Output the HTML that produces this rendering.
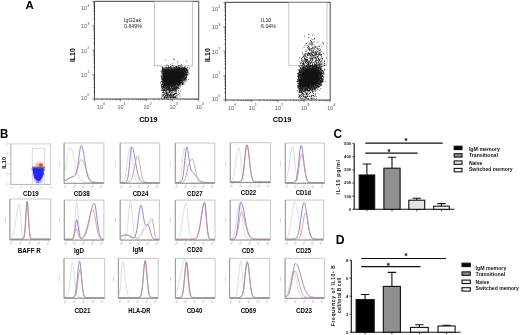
<!DOCTYPE html>
<html><head><meta charset="utf-8"><style>
html,body{margin:0;padding:0;background:#fff;width:520px;height:335px;overflow:hidden}
svg{display:block;font-family:"Liberation Sans", sans-serif;will-change:transform}
</style></head><body>
<svg width="520" height="335" viewBox="0 0 520 335">
<defs>
<filter id="blur05" x="-20%" y="-20%" width="140%" height="140%"><feGaussianBlur stdDeviation="0.8"/></filter>
<filter id="blur03" x="-10%" y="-10%" width="120%" height="120%"><feGaussianBlur stdDeviation="0.3"/></filter>
<filter id="blur04" x="-20%" y="-20%" width="140%" height="140%"><feGaussianBlur stdDeviation="0.45"/></filter>
<filter id="blur1" x="-50%" y="-50%" width="200%" height="200%"><feGaussianBlur stdDeviation="1.2"/></filter>
<filter id="blur2" x="-50%" y="-50%" width="200%" height="200%"><feGaussianBlur stdDeviation="2.5"/></filter>
</defs>
<rect width="520" height="335" fill="#fff"/>
<text x="25.6" y="9.2" font-size="11.5" font-weight="bold" fill="#000" text-anchor="start">A</text><text x="0.0" y="137.8" font-size="12.5" font-weight="bold" fill="#000" text-anchor="start" textLength="8.3" lengthAdjust="spacingAndGlyphs">B</text><text x="333.4" y="138.0" font-size="12.5" font-weight="bold" fill="#000" text-anchor="start" textLength="8.5" lengthAdjust="spacingAndGlyphs">C</text><text x="335.8" y="244.3" font-size="12.2" font-weight="bold" fill="#000" text-anchor="start">D</text><path d="M94.5 1.4H198.7V99" fill="none" stroke="#606060" stroke-width="1.1"/><rect x="154.3" y="1.4" width="38.0" height="64.39999999999999" fill="none" stroke="#aaa" stroke-width="0.7"/><path d="M162.5 69.5L176 68.5L185.5 69L185 75L180 83L175 86L163 86.5Z" fill="#1a1a1a" filter="url(#blur05)"/><path d="M174.3 58.8h0.78v0.78h-0.78zM173.3 59.2h0.78v0.78h-0.78zM165.4 59.8h0.78v0.78h-0.78zM186.3 60.7h0.78v0.78h-0.78zM177.3 61.6h0.78v0.78h-0.78zM169.9 63.8h0.78v0.78h-0.78zM172.4 63.4h0.78v0.78h-0.78zM166.6 64.6h0.78v0.78h-0.78zM180.8 64.3h0.78v0.78h-0.78zM172.2 65.3h0.78v0.78h-0.78zM178.0 65.1h0.78v0.78h-0.78zM179.5 65.1h0.78v0.78h-0.78zM180.8 65.2h0.78v0.78h-0.78zM165.7 65.8h0.78v0.78h-0.78zM168.2 65.6h0.78v0.78h-0.78zM169.9 66.0h0.78v0.78h-0.78zM171.9 65.6h0.78v0.78h-0.78zM176.0 65.9h0.78v0.78h-0.78zM177.8 65.9h0.78v0.78h-0.78zM184.6 66.0h0.78v0.78h-0.78zM161.6 66.6h0.78v0.78h-0.78zM168.0 66.8h0.78v0.78h-0.78zM170.3 66.6h0.78v0.78h-0.78zM170.7 66.5h0.78v0.78h-0.78zM173.2 66.4h0.78v0.78h-0.78zM173.7 66.7h0.78v0.78h-0.78zM175.3 66.3h0.78v0.78h-0.78zM175.9 66.6h0.78v0.78h-0.78zM176.5 66.5h0.78v0.78h-0.78zM177.7 66.7h0.78v0.78h-0.78zM178.8 66.7h0.78v0.78h-0.78zM179.8 66.6h0.78v0.78h-0.78zM180.8 66.3h0.78v0.78h-0.78zM181.8 66.7h0.78v0.78h-0.78zM184.5 66.7h0.78v0.78h-0.78zM162.1 67.1h0.78v0.78h-0.78zM163.0 67.4h0.78v0.78h-0.78zM163.9 67.4h0.78v0.78h-0.78zM164.3 67.4h0.78v0.78h-0.78zM165.3 67.2h0.78v0.78h-0.78zM165.7 67.1h0.78v0.78h-0.78zM166.4 67.2h0.78v0.78h-0.78zM167.2 67.4h0.78v0.78h-0.78zM168.1 67.5h0.78v0.78h-0.78zM168.9 67.0h0.78v0.78h-0.78zM169.2 67.3h0.78v0.78h-0.78zM170.1 67.1h0.78v0.78h-0.78zM171.0 67.5h0.78v0.78h-0.78zM171.7 67.2h0.78v0.78h-0.78zM172.9 67.5h0.78v0.78h-0.78zM173.9 67.1h0.78v0.78h-0.78zM174.4 67.1h0.78v0.78h-0.78zM174.9 67.2h0.78v0.78h-0.78zM176.1 67.6h0.78v0.78h-0.78zM176.5 67.1h0.78v0.78h-0.78zM177.1 67.5h0.78v0.78h-0.78zM178.2 67.6h0.78v0.78h-0.78zM179.1 67.1h0.78v0.78h-0.78zM179.5 67.5h0.78v0.78h-0.78zM181.2 67.5h0.78v0.78h-0.78zM181.5 67.2h0.78v0.78h-0.78zM182.5 67.2h0.78v0.78h-0.78zM183.0 67.4h0.78v0.78h-0.78zM183.8 67.5h0.78v0.78h-0.78zM184.6 67.4h0.78v0.78h-0.78zM187.0 67.5h0.78v0.78h-0.78zM187.4 67.3h0.78v0.78h-0.78zM162.1 68.1h0.78v0.78h-0.78zM163.4 68.1h0.78v0.78h-0.78zM165.0 68.2h0.78v0.78h-0.78zM166.3 68.2h0.78v0.78h-0.78zM167.4 67.8h0.78v0.78h-0.78zM168.0 67.9h0.78v0.78h-0.78zM168.5 67.7h0.78v0.78h-0.78zM169.3 68.2h0.78v0.78h-0.78zM170.4 68.2h0.78v0.78h-0.78zM171.2 67.8h0.78v0.78h-0.78zM171.4 68.1h0.78v0.78h-0.78zM172.6 68.0h0.78v0.78h-0.78zM173.0 67.9h0.78v0.78h-0.78zM174.0 67.7h0.78v0.78h-0.78zM174.4 67.7h0.78v0.78h-0.78zM175.4 68.3h0.78v0.78h-0.78zM175.8 68.3h0.78v0.78h-0.78zM176.4 68.2h0.78v0.78h-0.78zM177.5 67.9h0.78v0.78h-0.78zM177.9 68.1h0.78v0.78h-0.78zM178.9 68.2h0.78v0.78h-0.78zM179.2 68.1h0.78v0.78h-0.78zM180.1 67.9h0.78v0.78h-0.78zM180.7 67.8h0.78v0.78h-0.78zM181.4 67.9h0.78v0.78h-0.78zM182.2 67.9h0.78v0.78h-0.78zM183.0 68.0h0.78v0.78h-0.78zM183.6 68.1h0.78v0.78h-0.78zM184.5 68.1h0.78v0.78h-0.78zM185.3 68.1h0.78v0.78h-0.78zM185.8 67.8h0.78v0.78h-0.78zM189.0 67.7h0.78v0.78h-0.78zM162.4 68.5h0.78v0.78h-0.78zM162.9 68.5h0.78v0.78h-0.78zM163.6 68.9h0.78v0.78h-0.78zM164.5 68.9h0.78v0.78h-0.78zM165.4 68.9h0.78v0.78h-0.78zM166.1 68.8h0.78v0.78h-0.78zM166.4 68.9h0.78v0.78h-0.78zM167.2 68.6h0.78v0.78h-0.78zM168.2 69.0h0.78v0.78h-0.78zM168.7 69.0h0.78v0.78h-0.78zM169.2 68.8h0.78v0.78h-0.78zM170.1 68.5h0.78v0.78h-0.78zM170.9 68.7h0.78v0.78h-0.78zM171.7 68.7h0.78v0.78h-0.78zM172.2 68.5h0.78v0.78h-0.78zM173.1 69.0h0.78v0.78h-0.78zM173.9 68.9h0.78v0.78h-0.78zM174.7 68.5h0.78v0.78h-0.78zM175.1 68.9h0.78v0.78h-0.78zM176.2 68.8h0.78v0.78h-0.78zM176.5 68.7h0.78v0.78h-0.78zM177.4 68.4h0.78v0.78h-0.78zM177.8 68.5h0.78v0.78h-0.78zM178.8 69.0h0.78v0.78h-0.78zM179.3 68.5h0.78v0.78h-0.78zM180.1 68.7h0.78v0.78h-0.78zM180.8 68.6h0.78v0.78h-0.78zM181.9 68.8h0.78v0.78h-0.78zM183.0 68.8h0.78v0.78h-0.78zM183.8 68.5h0.78v0.78h-0.78zM184.7 68.9h0.78v0.78h-0.78zM185.1 68.8h0.78v0.78h-0.78zM186.1 68.5h0.78v0.78h-0.78zM186.5 68.7h0.78v0.78h-0.78zM161.7 69.2h0.78v0.78h-0.78zM162.1 69.6h0.78v0.78h-0.78zM163.2 69.2h0.78v0.78h-0.78zM163.6 69.6h0.78v0.78h-0.78zM164.5 69.5h0.78v0.78h-0.78zM165.3 69.6h0.78v0.78h-0.78zM165.8 69.4h0.78v0.78h-0.78zM166.7 69.4h0.78v0.78h-0.78zM167.1 69.4h0.78v0.78h-0.78zM168.1 69.7h0.78v0.78h-0.78zM168.7 69.3h0.78v0.78h-0.78zM169.2 69.7h0.78v0.78h-0.78zM170.3 69.6h0.78v0.78h-0.78zM170.7 69.5h0.78v0.78h-0.78zM171.6 69.7h0.78v0.78h-0.78zM172.5 69.6h0.78v0.78h-0.78zM173.0 69.7h0.78v0.78h-0.78zM173.9 69.2h0.78v0.78h-0.78zM174.5 69.6h0.78v0.78h-0.78zM175.0 69.2h0.78v0.78h-0.78zM176.0 69.2h0.78v0.78h-0.78zM176.7 69.3h0.78v0.78h-0.78zM177.1 69.5h0.78v0.78h-0.78zM178.2 69.3h0.78v0.78h-0.78zM178.9 69.3h0.78v0.78h-0.78zM179.3 69.6h0.78v0.78h-0.78zM180.3 69.2h0.78v0.78h-0.78zM180.9 69.2h0.78v0.78h-0.78zM181.9 69.5h0.78v0.78h-0.78zM182.7 69.1h0.78v0.78h-0.78zM183.4 69.6h0.78v0.78h-0.78zM184.1 69.4h0.78v0.78h-0.78zM184.6 69.2h0.78v0.78h-0.78zM185.3 69.5h0.78v0.78h-0.78zM186.2 69.2h0.78v0.78h-0.78zM186.7 69.6h0.78v0.78h-0.78zM187.7 69.6h0.78v0.78h-0.78zM161.6 70.1h0.78v0.78h-0.78zM162.1 70.0h0.78v0.78h-0.78zM162.9 70.1h0.78v0.78h-0.78zM163.9 70.2h0.78v0.78h-0.78zM164.5 69.9h0.78v0.78h-0.78zM164.9 70.1h0.78v0.78h-0.78zM165.8 70.4h0.78v0.78h-0.78zM166.3 70.3h0.78v0.78h-0.78zM167.1 69.9h0.78v0.78h-0.78zM168.1 70.0h0.78v0.78h-0.78zM168.7 70.4h0.78v0.78h-0.78zM169.3 70.1h0.78v0.78h-0.78zM170.3 70.0h0.78v0.78h-0.78zM170.8 70.3h0.78v0.78h-0.78zM171.3 70.2h0.78v0.78h-0.78zM172.5 70.0h0.78v0.78h-0.78zM173.0 70.0h0.78v0.78h-0.78zM173.9 70.0h0.78v0.78h-0.78zM174.5 69.9h0.78v0.78h-0.78zM175.1 70.4h0.78v0.78h-0.78zM175.7 70.4h0.78v0.78h-0.78zM176.9 70.2h0.78v0.78h-0.78zM177.3 70.3h0.78v0.78h-0.78zM178.2 69.9h0.78v0.78h-0.78zM178.6 70.2h0.78v0.78h-0.78zM179.7 70.3h0.78v0.78h-0.78zM180.0 70.3h0.78v0.78h-0.78zM181.2 70.1h0.78v0.78h-0.78zM181.8 70.2h0.78v0.78h-0.78zM182.3 69.9h0.78v0.78h-0.78zM183.4 70.1h0.78v0.78h-0.78zM183.6 70.2h0.78v0.78h-0.78zM184.7 70.2h0.78v0.78h-0.78zM185.3 70.1h0.78v0.78h-0.78zM185.8 70.0h0.78v0.78h-0.78zM186.5 70.1h0.78v0.78h-0.78zM187.5 70.0h0.78v0.78h-0.78zM160.6 70.9h0.78v0.78h-0.78zM162.4 71.1h0.78v0.78h-0.78zM162.9 71.0h0.78v0.78h-0.78zM163.9 70.6h0.78v0.78h-0.78zM164.1 70.7h0.78v0.78h-0.78zM165.4 70.8h0.78v0.78h-0.78zM165.7 71.1h0.78v0.78h-0.78zM166.7 70.8h0.78v0.78h-0.78zM167.5 70.7h0.78v0.78h-0.78zM168.0 71.2h0.78v0.78h-0.78zM169.6 70.8h0.78v0.78h-0.78zM170.0 71.1h0.78v0.78h-0.78zM170.6 70.8h0.78v0.78h-0.78zM171.4 70.6h0.78v0.78h-0.78zM172.5 71.1h0.78v0.78h-0.78zM173.3 71.2h0.78v0.78h-0.78zM173.7 70.8h0.78v0.78h-0.78zM174.7 70.9h0.78v0.78h-0.78zM174.9 70.8h0.78v0.78h-0.78zM175.9 70.9h0.78v0.78h-0.78zM176.4 71.0h0.78v0.78h-0.78zM177.5 70.9h0.78v0.78h-0.78zM177.9 71.2h0.78v0.78h-0.78zM178.8 70.8h0.78v0.78h-0.78zM179.6 70.7h0.78v0.78h-0.78zM180.0 71.0h0.78v0.78h-0.78zM181.1 71.1h0.78v0.78h-0.78zM181.6 70.7h0.78v0.78h-0.78zM182.4 70.8h0.78v0.78h-0.78zM183.9 70.9h0.78v0.78h-0.78zM184.5 71.1h0.78v0.78h-0.78zM185.0 71.1h0.78v0.78h-0.78zM186.3 70.7h0.78v0.78h-0.78zM187.0 70.6h0.78v0.78h-0.78zM161.5 71.5h0.78v0.78h-0.78zM162.4 71.5h0.78v0.78h-0.78zM163.0 71.4h0.78v0.78h-0.78zM163.7 71.7h0.78v0.78h-0.78zM164.4 71.6h0.78v0.78h-0.78zM165.0 71.4h0.78v0.78h-0.78zM166.0 71.6h0.78v0.78h-0.78zM166.4 71.5h0.78v0.78h-0.78zM167.1 71.5h0.78v0.78h-0.78zM168.0 71.8h0.78v0.78h-0.78zM168.8 71.4h0.78v0.78h-0.78zM169.7 71.7h0.78v0.78h-0.78zM170.4 71.8h0.78v0.78h-0.78zM171.0 71.9h0.78v0.78h-0.78zM171.6 71.4h0.78v0.78h-0.78zM172.3 71.5h0.78v0.78h-0.78zM173.0 71.4h0.78v0.78h-0.78zM173.7 71.8h0.78v0.78h-0.78zM174.8 71.9h0.78v0.78h-0.78zM175.1 71.6h0.78v0.78h-0.78zM175.9 71.8h0.78v0.78h-0.78zM176.6 71.5h0.78v0.78h-0.78zM177.6 71.8h0.78v0.78h-0.78zM178.3 71.4h0.78v0.78h-0.78zM178.7 71.8h0.78v0.78h-0.78zM179.5 71.5h0.78v0.78h-0.78zM180.5 71.9h0.78v0.78h-0.78zM181.1 71.9h0.78v0.78h-0.78zM181.7 71.8h0.78v0.78h-0.78zM182.4 71.8h0.78v0.78h-0.78zM183.3 71.8h0.78v0.78h-0.78zM184.0 71.4h0.78v0.78h-0.78zM184.7 71.8h0.78v0.78h-0.78zM185.6 71.8h0.78v0.78h-0.78zM185.9 71.6h0.78v0.78h-0.78zM187.0 71.8h0.78v0.78h-0.78zM187.7 71.5h0.78v0.78h-0.78zM161.4 72.6h0.78v0.78h-0.78zM162.1 72.4h0.78v0.78h-0.78zM163.2 72.5h0.78v0.78h-0.78zM164.0 72.3h0.78v0.78h-0.78zM164.3 72.2h0.78v0.78h-0.78zM165.1 72.1h0.78v0.78h-0.78zM165.9 72.1h0.78v0.78h-0.78zM166.3 72.1h0.78v0.78h-0.78zM167.5 72.5h0.78v0.78h-0.78zM168.0 72.2h0.78v0.78h-0.78zM169.0 72.4h0.78v0.78h-0.78zM169.6 72.4h0.78v0.78h-0.78zM170.0 72.6h0.78v0.78h-0.78zM170.9 72.3h0.78v0.78h-0.78zM171.6 72.1h0.78v0.78h-0.78zM172.2 72.0h0.78v0.78h-0.78zM172.8 72.6h0.78v0.78h-0.78zM173.9 72.1h0.78v0.78h-0.78zM174.3 72.4h0.78v0.78h-0.78zM175.3 72.4h0.78v0.78h-0.78zM175.8 72.5h0.78v0.78h-0.78zM176.4 72.6h0.78v0.78h-0.78zM177.3 72.3h0.78v0.78h-0.78zM178.1 72.4h0.78v0.78h-0.78zM178.5 72.5h0.78v0.78h-0.78zM179.3 72.5h0.78v0.78h-0.78zM180.0 72.3h0.78v0.78h-0.78zM181.0 72.2h0.78v0.78h-0.78zM181.7 72.1h0.78v0.78h-0.78zM182.6 72.2h0.78v0.78h-0.78zM183.0 72.2h0.78v0.78h-0.78zM183.5 72.0h0.78v0.78h-0.78zM184.7 72.2h0.78v0.78h-0.78zM185.4 72.3h0.78v0.78h-0.78zM186.2 72.5h0.78v0.78h-0.78zM187.0 72.6h0.78v0.78h-0.78zM188.0 72.5h0.78v0.78h-0.78zM162.5 73.3h0.78v0.78h-0.78zM163.2 73.1h0.78v0.78h-0.78zM163.9 73.2h0.78v0.78h-0.78zM165.3 73.1h0.78v0.78h-0.78zM165.5 72.9h0.78v0.78h-0.78zM166.3 73.2h0.78v0.78h-0.78zM167.1 73.3h0.78v0.78h-0.78zM168.2 73.1h0.78v0.78h-0.78zM168.6 73.1h0.78v0.78h-0.78zM169.5 73.1h0.78v0.78h-0.78zM170.0 73.2h0.78v0.78h-0.78zM171.0 73.2h0.78v0.78h-0.78zM171.8 73.0h0.78v0.78h-0.78zM172.0 72.8h0.78v0.78h-0.78zM172.8 73.1h0.78v0.78h-0.78zM173.9 73.0h0.78v0.78h-0.78zM174.6 73.3h0.78v0.78h-0.78zM174.9 72.8h0.78v0.78h-0.78zM176.1 72.7h0.78v0.78h-0.78zM176.8 72.8h0.78v0.78h-0.78zM177.2 72.9h0.78v0.78h-0.78zM178.1 73.3h0.78v0.78h-0.78zM179.1 73.1h0.78v0.78h-0.78zM180.3 72.9h0.78v0.78h-0.78zM181.0 73.1h0.78v0.78h-0.78zM181.7 72.8h0.78v0.78h-0.78zM182.3 72.9h0.78v0.78h-0.78zM183.3 73.1h0.78v0.78h-0.78zM184.0 73.0h0.78v0.78h-0.78zM184.7 73.3h0.78v0.78h-0.78zM185.2 72.8h0.78v0.78h-0.78zM186.0 72.9h0.78v0.78h-0.78zM186.6 73.0h0.78v0.78h-0.78zM162.4 73.7h0.78v0.78h-0.78zM163.0 73.7h0.78v0.78h-0.78zM163.8 73.6h0.78v0.78h-0.78zM164.7 73.6h0.78v0.78h-0.78zM164.9 73.6h0.78v0.78h-0.78zM165.8 73.7h0.78v0.78h-0.78zM166.8 73.9h0.78v0.78h-0.78zM167.2 73.6h0.78v0.78h-0.78zM168.1 73.7h0.78v0.78h-0.78zM168.9 73.6h0.78v0.78h-0.78zM169.4 73.8h0.78v0.78h-0.78zM170.1 73.6h0.78v0.78h-0.78zM170.8 73.6h0.78v0.78h-0.78zM171.4 74.0h0.78v0.78h-0.78zM172.6 73.5h0.78v0.78h-0.78zM173.3 73.5h0.78v0.78h-0.78zM173.6 73.8h0.78v0.78h-0.78zM174.2 73.7h0.78v0.78h-0.78zM175.5 73.8h0.78v0.78h-0.78zM175.8 73.7h0.78v0.78h-0.78zM176.8 73.6h0.78v0.78h-0.78zM177.5 73.8h0.78v0.78h-0.78zM178.2 73.5h0.78v0.78h-0.78zM178.6 73.6h0.78v0.78h-0.78zM179.4 73.7h0.78v0.78h-0.78zM180.4 73.9h0.78v0.78h-0.78zM180.7 73.7h0.78v0.78h-0.78zM181.8 73.7h0.78v0.78h-0.78zM182.6 73.8h0.78v0.78h-0.78zM183.4 74.0h0.78v0.78h-0.78zM184.0 73.5h0.78v0.78h-0.78zM184.6 74.0h0.78v0.78h-0.78zM185.0 73.8h0.78v0.78h-0.78zM185.8 73.9h0.78v0.78h-0.78zM186.7 74.0h0.78v0.78h-0.78zM187.4 73.9h0.78v0.78h-0.78zM188.7 73.5h0.78v0.78h-0.78zM162.5 74.2h0.78v0.78h-0.78zM163.0 74.2h0.78v0.78h-0.78zM163.6 74.6h0.78v0.78h-0.78zM164.2 74.6h0.78v0.78h-0.78zM164.9 74.6h0.78v0.78h-0.78zM165.9 74.6h0.78v0.78h-0.78zM166.8 74.3h0.78v0.78h-0.78zM167.3 74.7h0.78v0.78h-0.78zM168.0 74.4h0.78v0.78h-0.78zM168.5 74.6h0.78v0.78h-0.78zM169.2 74.5h0.78v0.78h-0.78zM170.1 74.3h0.78v0.78h-0.78zM171.0 74.3h0.78v0.78h-0.78zM171.7 74.8h0.78v0.78h-0.78zM172.2 74.2h0.78v0.78h-0.78zM172.8 74.7h0.78v0.78h-0.78zM173.6 74.2h0.78v0.78h-0.78zM174.3 74.3h0.78v0.78h-0.78zM175.2 74.7h0.78v0.78h-0.78zM175.9 74.6h0.78v0.78h-0.78zM176.6 74.6h0.78v0.78h-0.78zM177.6 74.3h0.78v0.78h-0.78zM178.0 74.7h0.78v0.78h-0.78zM178.7 74.6h0.78v0.78h-0.78zM179.7 74.2h0.78v0.78h-0.78zM180.2 74.6h0.78v0.78h-0.78zM180.8 74.2h0.78v0.78h-0.78zM181.9 74.5h0.78v0.78h-0.78zM182.4 74.4h0.78v0.78h-0.78zM183.1 74.4h0.78v0.78h-0.78zM183.8 74.4h0.78v0.78h-0.78zM184.7 74.6h0.78v0.78h-0.78zM185.1 74.5h0.78v0.78h-0.78zM186.1 74.5h0.78v0.78h-0.78zM187.4 74.3h0.78v0.78h-0.78zM160.7 75.4h0.78v0.78h-0.78zM161.2 75.5h0.78v0.78h-0.78zM162.1 75.4h0.78v0.78h-0.78zM163.0 75.0h0.78v0.78h-0.78zM163.5 74.9h0.78v0.78h-0.78zM164.4 75.2h0.78v0.78h-0.78zM164.8 75.0h0.78v0.78h-0.78zM165.6 75.1h0.78v0.78h-0.78zM166.3 75.0h0.78v0.78h-0.78zM167.3 74.9h0.78v0.78h-0.78zM168.2 75.0h0.78v0.78h-0.78zM168.9 75.2h0.78v0.78h-0.78zM169.7 74.9h0.78v0.78h-0.78zM170.0 75.4h0.78v0.78h-0.78zM170.9 75.2h0.78v0.78h-0.78zM171.6 75.2h0.78v0.78h-0.78zM172.3 75.0h0.78v0.78h-0.78zM173.1 75.2h0.78v0.78h-0.78zM173.8 75.3h0.78v0.78h-0.78zM174.8 75.1h0.78v0.78h-0.78zM176.1 75.5h0.78v0.78h-0.78zM176.8 75.4h0.78v0.78h-0.78zM177.4 74.9h0.78v0.78h-0.78zM178.0 75.4h0.78v0.78h-0.78zM178.8 75.1h0.78v0.78h-0.78zM179.3 75.0h0.78v0.78h-0.78zM180.3 75.3h0.78v0.78h-0.78zM181.2 75.0h0.78v0.78h-0.78zM181.7 75.5h0.78v0.78h-0.78zM182.5 75.2h0.78v0.78h-0.78zM183.3 75.2h0.78v0.78h-0.78zM184.0 75.0h0.78v0.78h-0.78zM184.4 75.3h0.78v0.78h-0.78zM185.5 74.9h0.78v0.78h-0.78zM185.7 75.5h0.78v0.78h-0.78zM186.6 75.1h0.78v0.78h-0.78zM161.6 75.7h0.78v0.78h-0.78zM162.2 75.6h0.78v0.78h-0.78zM163.2 75.7h0.78v0.78h-0.78zM163.7 76.1h0.78v0.78h-0.78zM164.5 76.1h0.78v0.78h-0.78zM164.9 76.2h0.78v0.78h-0.78zM165.7 76.1h0.78v0.78h-0.78zM166.5 76.1h0.78v0.78h-0.78zM167.4 76.1h0.78v0.78h-0.78zM168.2 76.2h0.78v0.78h-0.78zM169.0 75.9h0.78v0.78h-0.78zM169.4 75.6h0.78v0.78h-0.78zM170.8 76.1h0.78v0.78h-0.78zM171.9 76.2h0.78v0.78h-0.78zM172.7 76.2h0.78v0.78h-0.78zM174.1 75.9h0.78v0.78h-0.78zM174.6 76.1h0.78v0.78h-0.78zM174.9 75.7h0.78v0.78h-0.78zM175.8 76.0h0.78v0.78h-0.78zM176.7 76.0h0.78v0.78h-0.78zM177.2 76.1h0.78v0.78h-0.78zM177.9 76.0h0.78v0.78h-0.78zM179.1 75.9h0.78v0.78h-0.78zM179.3 75.8h0.78v0.78h-0.78zM180.3 75.8h0.78v0.78h-0.78zM180.8 75.7h0.78v0.78h-0.78zM181.7 76.0h0.78v0.78h-0.78zM182.1 75.7h0.78v0.78h-0.78zM183.1 75.9h0.78v0.78h-0.78zM183.9 75.9h0.78v0.78h-0.78zM184.6 75.7h0.78v0.78h-0.78zM185.2 75.8h0.78v0.78h-0.78zM186.1 75.8h0.78v0.78h-0.78zM161.1 76.6h0.78v0.78h-0.78zM162.5 76.3h0.78v0.78h-0.78zM163.1 76.9h0.78v0.78h-0.78zM163.8 76.4h0.78v0.78h-0.78zM164.4 76.9h0.78v0.78h-0.78zM164.9 76.5h0.78v0.78h-0.78zM165.6 76.7h0.78v0.78h-0.78zM167.5 76.8h0.78v0.78h-0.78zM167.8 76.5h0.78v0.78h-0.78zM168.9 76.5h0.78v0.78h-0.78zM169.3 76.9h0.78v0.78h-0.78zM170.0 76.8h0.78v0.78h-0.78zM171.0 76.5h0.78v0.78h-0.78zM171.5 76.5h0.78v0.78h-0.78zM172.5 76.7h0.78v0.78h-0.78zM173.2 76.4h0.78v0.78h-0.78zM173.6 76.8h0.78v0.78h-0.78zM174.4 76.7h0.78v0.78h-0.78zM176.2 76.5h0.78v0.78h-0.78zM176.5 76.5h0.78v0.78h-0.78zM177.5 76.8h0.78v0.78h-0.78zM178.0 76.5h0.78v0.78h-0.78zM179.0 76.6h0.78v0.78h-0.78zM179.7 76.4h0.78v0.78h-0.78zM180.2 76.8h0.78v0.78h-0.78zM181.1 76.7h0.78v0.78h-0.78zM181.9 76.7h0.78v0.78h-0.78zM182.6 76.6h0.78v0.78h-0.78zM183.2 76.6h0.78v0.78h-0.78zM183.9 76.5h0.78v0.78h-0.78zM185.0 76.9h0.78v0.78h-0.78zM186.0 76.6h0.78v0.78h-0.78zM186.5 76.8h0.78v0.78h-0.78zM161.5 77.6h0.78v0.78h-0.78zM162.2 77.5h0.78v0.78h-0.78zM163.1 77.4h0.78v0.78h-0.78zM163.9 77.3h0.78v0.78h-0.78zM164.4 77.4h0.78v0.78h-0.78zM165.1 77.1h0.78v0.78h-0.78zM165.7 77.6h0.78v0.78h-0.78zM166.7 77.6h0.78v0.78h-0.78zM167.4 77.2h0.78v0.78h-0.78zM167.7 77.6h0.78v0.78h-0.78zM169.0 77.1h0.78v0.78h-0.78zM171.1 77.2h0.78v0.78h-0.78zM171.4 77.6h0.78v0.78h-0.78zM172.4 77.4h0.78v0.78h-0.78zM172.8 77.3h0.78v0.78h-0.78zM173.8 77.4h0.78v0.78h-0.78zM174.4 77.3h0.78v0.78h-0.78zM175.1 77.1h0.78v0.78h-0.78zM175.7 77.1h0.78v0.78h-0.78zM176.8 77.5h0.78v0.78h-0.78zM177.4 77.6h0.78v0.78h-0.78zM178.1 77.6h0.78v0.78h-0.78zM178.5 77.2h0.78v0.78h-0.78zM180.5 77.4h0.78v0.78h-0.78zM180.9 77.4h0.78v0.78h-0.78zM181.8 77.3h0.78v0.78h-0.78zM182.2 77.2h0.78v0.78h-0.78zM183.3 77.5h0.78v0.78h-0.78zM184.1 77.5h0.78v0.78h-0.78zM184.4 77.3h0.78v0.78h-0.78zM185.1 77.6h0.78v0.78h-0.78zM185.8 77.1h0.78v0.78h-0.78zM161.8 78.2h0.78v0.78h-0.78zM162.4 78.0h0.78v0.78h-0.78zM162.7 77.9h0.78v0.78h-0.78zM163.6 78.2h0.78v0.78h-0.78zM164.6 78.2h0.78v0.78h-0.78zM164.9 78.2h0.78v0.78h-0.78zM166.0 77.9h0.78v0.78h-0.78zM166.7 77.9h0.78v0.78h-0.78zM167.4 77.9h0.78v0.78h-0.78zM167.8 77.8h0.78v0.78h-0.78zM168.6 78.1h0.78v0.78h-0.78zM169.3 78.3h0.78v0.78h-0.78zM169.9 78.3h0.78v0.78h-0.78zM170.8 78.3h0.78v0.78h-0.78zM171.8 78.0h0.78v0.78h-0.78zM172.5 78.0h0.78v0.78h-0.78zM172.9 78.3h0.78v0.78h-0.78zM173.8 78.1h0.78v0.78h-0.78zM174.4 78.2h0.78v0.78h-0.78zM175.1 77.8h0.78v0.78h-0.78zM175.7 78.0h0.78v0.78h-0.78zM176.5 78.1h0.78v0.78h-0.78zM177.5 78.0h0.78v0.78h-0.78zM178.3 78.3h0.78v0.78h-0.78zM178.7 78.4h0.78v0.78h-0.78zM179.4 78.0h0.78v0.78h-0.78zM180.3 78.0h0.78v0.78h-0.78zM181.0 78.1h0.78v0.78h-0.78zM181.5 77.9h0.78v0.78h-0.78zM182.1 78.0h0.78v0.78h-0.78zM183.1 78.3h0.78v0.78h-0.78zM183.9 78.3h0.78v0.78h-0.78zM184.5 78.0h0.78v0.78h-0.78zM185.1 78.2h0.78v0.78h-0.78zM185.7 77.9h0.78v0.78h-0.78zM161.6 78.9h0.78v0.78h-0.78zM162.4 78.6h0.78v0.78h-0.78zM163.1 78.6h0.78v0.78h-0.78zM163.6 79.0h0.78v0.78h-0.78zM164.2 78.9h0.78v0.78h-0.78zM165.0 78.6h0.78v0.78h-0.78zM165.6 78.5h0.78v0.78h-0.78zM166.6 78.6h0.78v0.78h-0.78zM167.2 78.8h0.78v0.78h-0.78zM168.2 78.6h0.78v0.78h-0.78zM168.7 78.7h0.78v0.78h-0.78zM169.5 79.1h0.78v0.78h-0.78zM170.4 79.0h0.78v0.78h-0.78zM171.0 78.9h0.78v0.78h-0.78zM171.7 79.0h0.78v0.78h-0.78zM172.2 78.8h0.78v0.78h-0.78zM172.8 78.8h0.78v0.78h-0.78zM174.0 78.9h0.78v0.78h-0.78zM174.5 78.7h0.78v0.78h-0.78zM175.3 79.0h0.78v0.78h-0.78zM176.2 78.7h0.78v0.78h-0.78zM176.4 79.0h0.78v0.78h-0.78zM177.3 78.9h0.78v0.78h-0.78zM178.2 78.6h0.78v0.78h-0.78zM178.5 78.7h0.78v0.78h-0.78zM179.6 78.6h0.78v0.78h-0.78zM181.0 78.9h0.78v0.78h-0.78zM181.8 78.5h0.78v0.78h-0.78zM182.6 79.0h0.78v0.78h-0.78zM182.9 78.8h0.78v0.78h-0.78zM183.8 78.6h0.78v0.78h-0.78zM184.8 79.1h0.78v0.78h-0.78zM185.8 78.6h0.78v0.78h-0.78zM161.3 79.5h0.78v0.78h-0.78zM162.5 79.3h0.78v0.78h-0.78zM162.9 79.5h0.78v0.78h-0.78zM163.7 79.4h0.78v0.78h-0.78zM164.4 79.8h0.78v0.78h-0.78zM165.2 79.3h0.78v0.78h-0.78zM165.9 79.4h0.78v0.78h-0.78zM166.6 79.6h0.78v0.78h-0.78zM167.3 79.8h0.78v0.78h-0.78zM168.0 79.3h0.78v0.78h-0.78zM169.0 79.4h0.78v0.78h-0.78zM169.5 79.3h0.78v0.78h-0.78zM170.2 79.3h0.78v0.78h-0.78zM170.8 79.8h0.78v0.78h-0.78zM171.9 79.3h0.78v0.78h-0.78zM172.5 79.5h0.78v0.78h-0.78zM173.1 79.6h0.78v0.78h-0.78zM173.9 79.3h0.78v0.78h-0.78zM174.7 79.4h0.78v0.78h-0.78zM175.5 79.6h0.78v0.78h-0.78zM176.0 79.3h0.78v0.78h-0.78zM176.5 79.7h0.78v0.78h-0.78zM177.3 79.4h0.78v0.78h-0.78zM178.6 79.8h0.78v0.78h-0.78zM179.5 79.7h0.78v0.78h-0.78zM180.2 79.7h0.78v0.78h-0.78zM180.9 79.7h0.78v0.78h-0.78zM181.7 79.6h0.78v0.78h-0.78zM182.6 79.6h0.78v0.78h-0.78zM183.1 79.4h0.78v0.78h-0.78zM184.0 79.2h0.78v0.78h-0.78zM184.5 79.3h0.78v0.78h-0.78zM185.6 79.5h0.78v0.78h-0.78zM188.1 79.3h0.78v0.78h-0.78zM162.1 80.0h0.78v0.78h-0.78zM163.2 80.1h0.78v0.78h-0.78zM163.4 80.3h0.78v0.78h-0.78zM164.5 80.1h0.78v0.78h-0.78zM165.3 80.1h0.78v0.78h-0.78zM165.7 80.2h0.78v0.78h-0.78zM166.5 80.5h0.78v0.78h-0.78zM167.3 80.0h0.78v0.78h-0.78zM167.8 80.4h0.78v0.78h-0.78zM169.0 80.1h0.78v0.78h-0.78zM169.5 80.0h0.78v0.78h-0.78zM170.4 80.4h0.78v0.78h-0.78zM170.9 80.1h0.78v0.78h-0.78zM171.7 80.0h0.78v0.78h-0.78zM172.6 80.3h0.78v0.78h-0.78zM173.0 80.0h0.78v0.78h-0.78zM173.9 80.3h0.78v0.78h-0.78zM174.3 80.3h0.78v0.78h-0.78zM175.4 80.1h0.78v0.78h-0.78zM176.1 80.2h0.78v0.78h-0.78zM177.6 80.5h0.78v0.78h-0.78zM177.8 80.5h0.78v0.78h-0.78zM179.0 80.5h0.78v0.78h-0.78zM179.5 80.3h0.78v0.78h-0.78zM180.4 80.0h0.78v0.78h-0.78zM181.0 80.3h0.78v0.78h-0.78zM181.6 80.0h0.78v0.78h-0.78zM182.6 80.1h0.78v0.78h-0.78zM182.9 80.4h0.78v0.78h-0.78zM183.8 80.4h0.78v0.78h-0.78zM184.3 80.0h0.78v0.78h-0.78zM185.2 80.5h0.78v0.78h-0.78zM160.8 81.1h0.78v0.78h-0.78zM161.6 81.2h0.78v0.78h-0.78zM162.5 81.1h0.78v0.78h-0.78zM162.9 81.0h0.78v0.78h-0.78zM163.9 81.2h0.78v0.78h-0.78zM164.1 81.1h0.78v0.78h-0.78zM165.3 80.9h0.78v0.78h-0.78zM165.8 81.1h0.78v0.78h-0.78zM166.7 81.0h0.78v0.78h-0.78zM167.5 80.9h0.78v0.78h-0.78zM167.8 80.7h0.78v0.78h-0.78zM168.8 80.8h0.78v0.78h-0.78zM169.5 80.9h0.78v0.78h-0.78zM170.1 80.9h0.78v0.78h-0.78zM170.8 81.1h0.78v0.78h-0.78zM171.8 81.1h0.78v0.78h-0.78zM172.6 81.2h0.78v0.78h-0.78zM173.2 81.1h0.78v0.78h-0.78zM173.7 80.9h0.78v0.78h-0.78zM174.6 80.8h0.78v0.78h-0.78zM175.1 80.9h0.78v0.78h-0.78zM176.1 81.2h0.78v0.78h-0.78zM176.6 80.8h0.78v0.78h-0.78zM177.7 81.0h0.78v0.78h-0.78zM177.8 81.0h0.78v0.78h-0.78zM178.6 81.1h0.78v0.78h-0.78zM179.7 80.7h0.78v0.78h-0.78zM180.4 80.8h0.78v0.78h-0.78zM181.0 80.7h0.78v0.78h-0.78zM181.8 81.2h0.78v0.78h-0.78zM182.2 80.7h0.78v0.78h-0.78zM185.9 80.8h0.78v0.78h-0.78zM162.3 81.7h0.78v0.78h-0.78zM162.9 81.5h0.78v0.78h-0.78zM163.4 81.4h0.78v0.78h-0.78zM164.3 81.6h0.78v0.78h-0.78zM165.3 81.8h0.78v0.78h-0.78zM165.7 81.6h0.78v0.78h-0.78zM166.5 81.7h0.78v0.78h-0.78zM167.2 81.7h0.78v0.78h-0.78zM168.1 81.6h0.78v0.78h-0.78zM168.7 81.9h0.78v0.78h-0.78zM169.5 81.8h0.78v0.78h-0.78zM170.3 81.7h0.78v0.78h-0.78zM171.0 81.9h0.78v0.78h-0.78zM171.9 81.7h0.78v0.78h-0.78zM172.3 82.0h0.78v0.78h-0.78zM173.2 81.9h0.78v0.78h-0.78zM173.8 81.9h0.78v0.78h-0.78zM174.4 82.0h0.78v0.78h-0.78zM174.9 81.7h0.78v0.78h-0.78zM175.7 81.4h0.78v0.78h-0.78zM176.4 81.5h0.78v0.78h-0.78zM177.6 81.5h0.78v0.78h-0.78zM178.3 82.0h0.78v0.78h-0.78zM178.9 81.4h0.78v0.78h-0.78zM179.7 81.9h0.78v0.78h-0.78zM180.5 81.6h0.78v0.78h-0.78zM181.3 81.8h0.78v0.78h-0.78zM181.5 81.7h0.78v0.78h-0.78zM182.6 81.7h0.78v0.78h-0.78zM183.0 81.7h0.78v0.78h-0.78zM184.5 81.4h0.78v0.78h-0.78zM160.3 82.6h0.78v0.78h-0.78zM162.1 82.2h0.78v0.78h-0.78zM162.8 82.4h0.78v0.78h-0.78zM163.9 82.7h0.78v0.78h-0.78zM164.3 82.6h0.78v0.78h-0.78zM165.3 82.3h0.78v0.78h-0.78zM165.8 82.6h0.78v0.78h-0.78zM166.3 82.3h0.78v0.78h-0.78zM167.3 82.4h0.78v0.78h-0.78zM168.0 82.2h0.78v0.78h-0.78zM168.9 82.3h0.78v0.78h-0.78zM169.5 82.4h0.78v0.78h-0.78zM170.4 82.2h0.78v0.78h-0.78zM171.5 82.5h0.78v0.78h-0.78zM172.6 82.2h0.78v0.78h-0.78zM173.0 82.2h0.78v0.78h-0.78zM174.0 82.3h0.78v0.78h-0.78zM174.3 82.3h0.78v0.78h-0.78zM175.2 82.2h0.78v0.78h-0.78zM176.0 82.2h0.78v0.78h-0.78zM176.8 82.4h0.78v0.78h-0.78zM177.5 82.4h0.78v0.78h-0.78zM178.2 82.3h0.78v0.78h-0.78zM179.0 82.3h0.78v0.78h-0.78zM179.6 82.2h0.78v0.78h-0.78zM180.1 82.4h0.78v0.78h-0.78zM180.9 82.6h0.78v0.78h-0.78zM181.5 82.2h0.78v0.78h-0.78zM182.6 82.5h0.78v0.78h-0.78zM183.0 82.7h0.78v0.78h-0.78zM162.5 82.9h0.78v0.78h-0.78zM162.8 82.8h0.78v0.78h-0.78zM164.0 83.3h0.78v0.78h-0.78zM164.2 83.1h0.78v0.78h-0.78zM164.9 83.1h0.78v0.78h-0.78zM165.9 83.2h0.78v0.78h-0.78zM166.4 83.1h0.78v0.78h-0.78zM167.4 83.1h0.78v0.78h-0.78zM167.9 83.4h0.78v0.78h-0.78zM168.7 82.9h0.78v0.78h-0.78zM169.2 82.8h0.78v0.78h-0.78zM170.4 83.0h0.78v0.78h-0.78zM170.6 83.0h0.78v0.78h-0.78zM171.6 82.9h0.78v0.78h-0.78zM172.5 83.3h0.78v0.78h-0.78zM173.3 82.9h0.78v0.78h-0.78zM173.8 83.1h0.78v0.78h-0.78zM174.6 83.3h0.78v0.78h-0.78zM175.5 83.3h0.78v0.78h-0.78zM176.2 82.9h0.78v0.78h-0.78zM176.7 83.4h0.78v0.78h-0.78zM177.5 83.2h0.78v0.78h-0.78zM178.2 83.3h0.78v0.78h-0.78zM178.9 82.9h0.78v0.78h-0.78zM179.6 83.3h0.78v0.78h-0.78zM179.9 83.1h0.78v0.78h-0.78zM180.9 82.9h0.78v0.78h-0.78zM181.8 82.9h0.78v0.78h-0.78zM182.4 83.0h0.78v0.78h-0.78zM183.8 83.4h0.78v0.78h-0.78zM161.3 83.9h0.78v0.78h-0.78zM162.2 83.6h0.78v0.78h-0.78zM162.8 83.7h0.78v0.78h-0.78zM163.8 84.1h0.78v0.78h-0.78zM164.3 83.9h0.78v0.78h-0.78zM165.1 84.0h0.78v0.78h-0.78zM165.8 84.0h0.78v0.78h-0.78zM166.3 83.9h0.78v0.78h-0.78zM167.1 84.1h0.78v0.78h-0.78zM167.8 84.0h0.78v0.78h-0.78zM168.7 83.8h0.78v0.78h-0.78zM169.7 83.8h0.78v0.78h-0.78zM170.2 83.6h0.78v0.78h-0.78zM171.0 83.8h0.78v0.78h-0.78zM171.8 83.6h0.78v0.78h-0.78zM172.2 84.1h0.78v0.78h-0.78zM173.0 83.9h0.78v0.78h-0.78zM173.7 84.1h0.78v0.78h-0.78zM174.7 83.8h0.78v0.78h-0.78zM174.9 83.9h0.78v0.78h-0.78zM175.8 84.1h0.78v0.78h-0.78zM177.4 83.6h0.78v0.78h-0.78zM178.3 84.0h0.78v0.78h-0.78zM178.7 83.8h0.78v0.78h-0.78zM179.3 83.9h0.78v0.78h-0.78zM180.1 83.7h0.78v0.78h-0.78zM182.2 83.7h0.78v0.78h-0.78zM161.3 84.6h0.78v0.78h-0.78zM162.1 84.3h0.78v0.78h-0.78zM162.7 84.4h0.78v0.78h-0.78zM164.0 84.5h0.78v0.78h-0.78zM164.6 84.6h0.78v0.78h-0.78zM165.0 84.3h0.78v0.78h-0.78zM165.6 84.6h0.78v0.78h-0.78zM166.5 84.4h0.78v0.78h-0.78zM167.4 84.3h0.78v0.78h-0.78zM168.0 84.8h0.78v0.78h-0.78zM168.5 84.5h0.78v0.78h-0.78zM169.2 84.4h0.78v0.78h-0.78zM170.0 84.7h0.78v0.78h-0.78zM171.8 84.5h0.78v0.78h-0.78zM172.3 84.7h0.78v0.78h-0.78zM172.7 84.4h0.78v0.78h-0.78zM173.5 84.6h0.78v0.78h-0.78zM174.6 84.7h0.78v0.78h-0.78zM175.4 84.5h0.78v0.78h-0.78zM176.9 84.5h0.78v0.78h-0.78zM177.2 84.3h0.78v0.78h-0.78zM178.0 84.8h0.78v0.78h-0.78zM178.9 84.8h0.78v0.78h-0.78zM179.3 84.8h0.78v0.78h-0.78zM180.1 84.7h0.78v0.78h-0.78zM181.2 84.4h0.78v0.78h-0.78zM182.0 84.3h0.78v0.78h-0.78zM183.2 84.3h0.78v0.78h-0.78zM160.9 85.3h0.78v0.78h-0.78zM162.8 85.3h0.78v0.78h-0.78zM163.4 85.1h0.78v0.78h-0.78zM164.2 85.3h0.78v0.78h-0.78zM165.3 85.1h0.78v0.78h-0.78zM165.9 85.2h0.78v0.78h-0.78zM166.8 85.1h0.78v0.78h-0.78zM167.1 85.4h0.78v0.78h-0.78zM168.0 85.6h0.78v0.78h-0.78zM169.0 85.0h0.78v0.78h-0.78zM169.7 85.2h0.78v0.78h-0.78zM169.9 85.4h0.78v0.78h-0.78zM170.8 85.1h0.78v0.78h-0.78zM171.9 85.3h0.78v0.78h-0.78zM172.6 85.5h0.78v0.78h-0.78zM172.8 85.1h0.78v0.78h-0.78zM173.9 85.5h0.78v0.78h-0.78zM174.3 85.5h0.78v0.78h-0.78zM175.2 85.0h0.78v0.78h-0.78zM176.0 85.4h0.78v0.78h-0.78zM176.4 85.5h0.78v0.78h-0.78zM177.6 85.2h0.78v0.78h-0.78zM177.9 85.4h0.78v0.78h-0.78zM178.6 85.3h0.78v0.78h-0.78zM161.1 86.2h0.78v0.78h-0.78zM161.8 86.1h0.78v0.78h-0.78zM162.5 86.2h0.78v0.78h-0.78zM163.0 86.1h0.78v0.78h-0.78zM163.4 86.0h0.78v0.78h-0.78zM164.1 85.8h0.78v0.78h-0.78zM165.0 85.7h0.78v0.78h-0.78zM165.6 85.7h0.78v0.78h-0.78zM166.6 86.2h0.78v0.78h-0.78zM167.4 85.7h0.78v0.78h-0.78zM167.7 85.8h0.78v0.78h-0.78zM168.6 86.1h0.78v0.78h-0.78zM169.3 85.8h0.78v0.78h-0.78zM170.3 86.2h0.78v0.78h-0.78zM171.1 85.8h0.78v0.78h-0.78zM171.4 86.2h0.78v0.78h-0.78zM172.1 86.0h0.78v0.78h-0.78zM173.0 86.3h0.78v0.78h-0.78zM173.7 86.3h0.78v0.78h-0.78zM174.6 85.7h0.78v0.78h-0.78zM175.0 86.0h0.78v0.78h-0.78zM175.9 85.8h0.78v0.78h-0.78zM176.6 86.1h0.78v0.78h-0.78zM177.3 85.7h0.78v0.78h-0.78zM178.0 86.0h0.78v0.78h-0.78zM179.5 86.1h0.78v0.78h-0.78zM161.7 86.7h0.78v0.78h-0.78zM162.1 86.5h0.78v0.78h-0.78zM162.9 86.6h0.78v0.78h-0.78zM163.9 87.0h0.78v0.78h-0.78zM164.1 86.5h0.78v0.78h-0.78zM165.1 86.7h0.78v0.78h-0.78zM165.9 86.7h0.78v0.78h-0.78zM166.7 86.6h0.78v0.78h-0.78zM167.2 86.4h0.78v0.78h-0.78zM168.0 87.0h0.78v0.78h-0.78zM168.6 86.9h0.78v0.78h-0.78zM169.2 86.6h0.78v0.78h-0.78zM170.9 86.9h0.78v0.78h-0.78zM171.6 87.0h0.78v0.78h-0.78zM172.5 86.5h0.78v0.78h-0.78zM173.2 86.5h0.78v0.78h-0.78zM173.7 86.6h0.78v0.78h-0.78zM174.6 86.9h0.78v0.78h-0.78zM175.2 86.5h0.78v0.78h-0.78zM175.6 86.6h0.78v0.78h-0.78zM176.5 86.9h0.78v0.78h-0.78zM177.4 86.9h0.78v0.78h-0.78zM177.9 86.9h0.78v0.78h-0.78zM179.7 86.7h0.78v0.78h-0.78zM161.4 87.1h0.78v0.78h-0.78zM162.2 87.6h0.78v0.78h-0.78zM163.0 87.3h0.78v0.78h-0.78zM163.6 87.4h0.78v0.78h-0.78zM164.6 87.6h0.78v0.78h-0.78zM164.9 87.2h0.78v0.78h-0.78zM166.1 87.5h0.78v0.78h-0.78zM166.4 87.3h0.78v0.78h-0.78zM167.2 87.6h0.78v0.78h-0.78zM168.2 87.7h0.78v0.78h-0.78zM168.6 87.6h0.78v0.78h-0.78zM169.3 87.3h0.78v0.78h-0.78zM170.5 87.6h0.78v0.78h-0.78zM170.7 87.4h0.78v0.78h-0.78zM171.4 87.6h0.78v0.78h-0.78zM172.5 87.7h0.78v0.78h-0.78zM173.1 87.6h0.78v0.78h-0.78zM173.7 87.6h0.78v0.78h-0.78zM174.2 87.4h0.78v0.78h-0.78zM175.4 87.2h0.78v0.78h-0.78zM175.9 87.6h0.78v0.78h-0.78zM176.7 87.3h0.78v0.78h-0.78zM177.3 87.7h0.78v0.78h-0.78zM178.1 87.7h0.78v0.78h-0.78zM162.1 88.1h0.78v0.78h-0.78zM163.2 88.5h0.78v0.78h-0.78zM163.5 88.4h0.78v0.78h-0.78zM164.5 88.3h0.78v0.78h-0.78zM165.0 88.1h0.78v0.78h-0.78zM166.1 88.1h0.78v0.78h-0.78zM166.6 87.9h0.78v0.78h-0.78zM167.5 88.2h0.78v0.78h-0.78zM168.2 88.2h0.78v0.78h-0.78zM169.0 88.0h0.78v0.78h-0.78zM169.2 88.2h0.78v0.78h-0.78zM170.2 88.1h0.78v0.78h-0.78zM170.7 88.3h0.78v0.78h-0.78zM171.8 88.3h0.78v0.78h-0.78zM172.6 88.4h0.78v0.78h-0.78zM173.0 88.4h0.78v0.78h-0.78zM173.5 88.3h0.78v0.78h-0.78zM174.3 87.9h0.78v0.78h-0.78zM175.0 87.9h0.78v0.78h-0.78zM176.1 88.2h0.78v0.78h-0.78zM176.7 88.0h0.78v0.78h-0.78zM178.7 88.1h0.78v0.78h-0.78zM161.0 88.7h0.78v0.78h-0.78zM161.4 88.8h0.78v0.78h-0.78zM162.8 88.9h0.78v0.78h-0.78zM163.9 88.6h0.78v0.78h-0.78zM164.6 89.0h0.78v0.78h-0.78zM164.8 88.6h0.78v0.78h-0.78zM166.0 88.8h0.78v0.78h-0.78zM166.5 88.9h0.78v0.78h-0.78zM167.1 88.9h0.78v0.78h-0.78zM168.1 89.1h0.78v0.78h-0.78zM168.9 88.8h0.78v0.78h-0.78zM169.7 88.8h0.78v0.78h-0.78zM170.2 89.0h0.78v0.78h-0.78zM171.1 89.2h0.78v0.78h-0.78zM171.9 89.2h0.78v0.78h-0.78zM172.3 89.1h0.78v0.78h-0.78zM173.3 89.1h0.78v0.78h-0.78zM174.0 88.7h0.78v0.78h-0.78zM174.6 88.6h0.78v0.78h-0.78zM175.3 88.8h0.78v0.78h-0.78zM175.7 89.1h0.78v0.78h-0.78zM176.7 88.6h0.78v0.78h-0.78zM162.3 89.4h0.78v0.78h-0.78zM163.1 89.8h0.78v0.78h-0.78zM163.5 89.4h0.78v0.78h-0.78zM164.6 89.6h0.78v0.78h-0.78zM164.9 89.5h0.78v0.78h-0.78zM166.1 89.9h0.78v0.78h-0.78zM166.6 89.6h0.78v0.78h-0.78zM167.2 89.6h0.78v0.78h-0.78zM167.9 89.5h0.78v0.78h-0.78zM169.0 89.6h0.78v0.78h-0.78zM169.4 89.8h0.78v0.78h-0.78zM170.1 89.5h0.78v0.78h-0.78zM171.3 89.9h0.78v0.78h-0.78zM172.2 89.5h0.78v0.78h-0.78zM173.2 89.4h0.78v0.78h-0.78zM173.9 89.4h0.78v0.78h-0.78zM174.4 89.8h0.78v0.78h-0.78zM175.2 89.5h0.78v0.78h-0.78zM176.0 89.6h0.78v0.78h-0.78zM161.2 90.3h0.78v0.78h-0.78zM162.2 90.2h0.78v0.78h-0.78zM162.9 90.5h0.78v0.78h-0.78zM163.9 90.2h0.78v0.78h-0.78zM164.5 90.0h0.78v0.78h-0.78zM164.9 90.4h0.78v0.78h-0.78zM165.7 90.2h0.78v0.78h-0.78zM168.2 90.2h0.78v0.78h-0.78zM168.5 90.5h0.78v0.78h-0.78zM169.7 90.6h0.78v0.78h-0.78zM170.3 90.4h0.78v0.78h-0.78zM170.7 90.0h0.78v0.78h-0.78zM171.7 90.3h0.78v0.78h-0.78zM172.2 90.5h0.78v0.78h-0.78zM173.1 90.1h0.78v0.78h-0.78zM173.9 90.5h0.78v0.78h-0.78zM175.0 90.4h0.78v0.78h-0.78zM175.7 90.6h0.78v0.78h-0.78zM177.9 90.3h0.78v0.78h-0.78zM162.9 90.9h0.78v0.78h-0.78zM165.2 90.9h0.78v0.78h-0.78zM166.5 90.8h0.78v0.78h-0.78zM168.5 90.8h0.78v0.78h-0.78zM169.2 91.0h0.78v0.78h-0.78zM170.4 91.1h0.78v0.78h-0.78zM172.3 90.8h0.78v0.78h-0.78zM173.6 90.9h0.78v0.78h-0.78zM175.4 90.9h0.78v0.78h-0.78zM175.8 91.2h0.78v0.78h-0.78zM180.0 90.8h0.78v0.78h-0.78zM162.5 92.0h0.78v0.78h-0.78zM163.5 91.6h0.78v0.78h-0.78zM165.4 91.7h0.78v0.78h-0.78zM166.0 91.6h0.78v0.78h-0.78zM166.4 92.0h0.78v0.78h-0.78zM168.3 92.0h0.78v0.78h-0.78zM169.0 91.6h0.78v0.78h-0.78zM169.2 91.6h0.78v0.78h-0.78zM171.1 91.6h0.78v0.78h-0.78zM171.5 91.5h0.78v0.78h-0.78zM175.6 91.8h0.78v0.78h-0.78zM178.1 91.7h0.78v0.78h-0.78zM162.1 92.2h0.78v0.78h-0.78zM162.8 92.3h0.78v0.78h-0.78zM163.8 92.4h0.78v0.78h-0.78zM165.4 92.7h0.78v0.78h-0.78zM166.0 92.6h0.78v0.78h-0.78zM166.6 92.5h0.78v0.78h-0.78zM167.3 92.5h0.78v0.78h-0.78zM168.8 92.5h0.78v0.78h-0.78zM169.5 92.4h0.78v0.78h-0.78zM170.7 92.6h0.78v0.78h-0.78zM172.3 92.2h0.78v0.78h-0.78zM173.0 92.5h0.78v0.78h-0.78zM175.2 92.7h0.78v0.78h-0.78zM175.9 92.8h0.78v0.78h-0.78zM163.6 92.9h0.78v0.78h-0.78zM164.4 93.4h0.78v0.78h-0.78zM165.7 93.3h0.78v0.78h-0.78zM166.4 93.4h0.78v0.78h-0.78zM167.4 93.3h0.78v0.78h-0.78zM167.7 93.0h0.78v0.78h-0.78zM170.1 93.5h0.78v0.78h-0.78zM170.7 93.3h0.78v0.78h-0.78zM172.2 93.4h0.78v0.78h-0.78zM174.3 93.0h0.78v0.78h-0.78zM174.9 93.3h0.78v0.78h-0.78zM175.8 93.3h0.78v0.78h-0.78zM176.5 93.0h0.78v0.78h-0.78zM179.3 93.0h0.78v0.78h-0.78zM163.0 94.0h0.78v0.78h-0.78zM164.3 94.1h0.78v0.78h-0.78zM165.9 94.0h0.78v0.78h-0.78zM166.8 94.0h0.78v0.78h-0.78zM167.5 94.0h0.78v0.78h-0.78zM167.9 94.0h0.78v0.78h-0.78zM169.6 93.9h0.78v0.78h-0.78zM170.2 94.0h0.78v0.78h-0.78zM171.0 94.2h0.78v0.78h-0.78zM172.1 94.0h0.78v0.78h-0.78zM172.9 94.0h0.78v0.78h-0.78zM173.5 94.1h0.78v0.78h-0.78zM174.2 93.8h0.78v0.78h-0.78zM175.1 93.6h0.78v0.78h-0.78zM178.3 93.9h0.78v0.78h-0.78zM161.8 94.6h0.78v0.78h-0.78zM162.0 94.5h0.78v0.78h-0.78zM163.0 94.6h0.78v0.78h-0.78zM164.4 94.4h0.78v0.78h-0.78zM164.9 94.7h0.78v0.78h-0.78zM166.6 94.8h0.78v0.78h-0.78zM167.3 94.9h0.78v0.78h-0.78zM168.2 94.4h0.78v0.78h-0.78zM168.7 94.7h0.78v0.78h-0.78zM169.6 94.6h0.78v0.78h-0.78zM170.0 94.4h0.78v0.78h-0.78zM171.0 94.7h0.78v0.78h-0.78zM173.2 94.7h0.78v0.78h-0.78zM174.0 94.5h0.78v0.78h-0.78zM175.8 94.9h0.78v0.78h-0.78zM176.8 94.6h0.78v0.78h-0.78zM161.8 95.7h0.78v0.78h-0.78zM163.1 95.2h0.78v0.78h-0.78zM165.1 95.4h0.78v0.78h-0.78zM165.6 95.3h0.78v0.78h-0.78zM166.3 95.1h0.78v0.78h-0.78zM167.5 95.4h0.78v0.78h-0.78zM167.8 95.6h0.78v0.78h-0.78zM169.0 95.5h0.78v0.78h-0.78zM169.3 95.6h0.78v0.78h-0.78zM170.3 95.2h0.78v0.78h-0.78zM170.7 95.2h0.78v0.78h-0.78zM171.6 95.2h0.78v0.78h-0.78zM172.2 95.5h0.78v0.78h-0.78zM173.0 95.4h0.78v0.78h-0.78zM173.5 95.5h0.78v0.78h-0.78zM175.8 95.6h0.78v0.78h-0.78zM179.7 95.6h0.78v0.78h-0.78zM161.6 96.0h0.78v0.78h-0.78zM162.0 95.8h0.78v0.78h-0.78zM163.8 96.0h0.78v0.78h-0.78zM164.9 96.2h0.78v0.78h-0.78zM166.7 96.4h0.78v0.78h-0.78zM167.2 95.9h0.78v0.78h-0.78zM168.9 96.0h0.78v0.78h-0.78zM169.5 96.0h0.78v0.78h-0.78zM170.4 96.0h0.78v0.78h-0.78zM170.9 95.9h0.78v0.78h-0.78zM172.2 96.4h0.78v0.78h-0.78zM172.9 96.1h0.78v0.78h-0.78zM174.5 96.0h0.78v0.78h-0.78zM174.9 96.0h0.78v0.78h-0.78zM163.9 96.7h0.78v0.78h-0.78zM164.2 96.6h0.78v0.78h-0.78zM165.2 97.0h0.78v0.78h-0.78zM166.1 96.6h0.78v0.78h-0.78zM166.8 96.9h0.78v0.78h-0.78zM167.8 96.8h0.78v0.78h-0.78zM169.7 97.1h0.78v0.78h-0.78zM170.3 97.1h0.78v0.78h-0.78zM171.0 96.7h0.78v0.78h-0.78zM171.5 97.1h0.78v0.78h-0.78zM172.4 96.9h0.78v0.78h-0.78zM172.9 96.7h0.78v0.78h-0.78zM173.9 96.8h0.78v0.78h-0.78zM174.7 97.0h0.78v0.78h-0.78zM175.5 96.8h0.78v0.78h-0.78zM177.3 96.7h0.78v0.78h-0.78zM161.3 97.6h0.78v0.78h-0.78zM162.8 97.7h0.78v0.78h-0.78zM163.8 97.6h0.78v0.78h-0.78zM164.5 97.6h0.78v0.78h-0.78zM166.0 97.4h0.78v0.78h-0.78zM166.5 97.3h0.78v0.78h-0.78zM167.0 97.6h0.78v0.78h-0.78zM168.1 97.3h0.78v0.78h-0.78zM169.6 97.5h0.78v0.78h-0.78zM170.3 97.7h0.78v0.78h-0.78zM171.7 97.3h0.78v0.78h-0.78zM173.1 97.4h0.78v0.78h-0.78zM173.7 97.2h0.78v0.78h-0.78zM174.7 97.4h0.78v0.78h-0.78zM175.0 97.2h0.78v0.78h-0.78zM175.9 97.7h0.78v0.78h-0.78z" fill="#111"/><path d="M94.5 1.4V99H198.7" fill="none" stroke="#333" stroke-width="0.9"/><path d="M94.5 99.0h-2.2M94.5 99v2.2M94.5 91.7h-1.2M102.3 99v1.2M94.5 87.4h-1.2M106.9 99v1.2M94.5 84.3h-1.2M110.2 99v1.2M94.5 81.9h-1.2M112.7 99v1.2M94.5 80.0h-1.2M114.8 99v1.2M94.5 78.4h-1.2M116.5 99v1.2M94.5 77.0h-1.2M118.0 99v1.2M94.5 75.7h-1.2M119.4 99v1.2M94.5 74.6h-2.2M120.5 99v2.2M94.5 67.3h-1.2M128.4 99v1.2M94.5 63.0h-1.2M133.0 99v1.2M94.5 59.9h-1.2M136.2 99v1.2M94.5 57.5h-1.2M138.8 99v1.2M94.5 55.6h-1.2M140.8 99v1.2M94.5 54.0h-1.2M142.6 99v1.2M94.5 52.6h-1.2M144.1 99v1.2M94.5 51.3h-1.2M145.4 99v1.2M94.5 50.2h-2.2M146.6 99v2.2M94.5 42.9h-1.2M154.4 99v1.2M94.5 38.6h-1.2M159.0 99v1.2M94.5 35.5h-1.2M162.3 99v1.2M94.5 33.1h-1.2M164.8 99v1.2M94.5 31.2h-1.2M166.9 99v1.2M94.5 29.6h-1.2M168.6 99v1.2M94.5 28.2h-1.2M170.1 99v1.2M94.5 26.9h-1.2M171.5 99v1.2M94.5 25.8h-2.2M172.6 99v2.2M94.5 18.5h-1.2M180.5 99v1.2M94.5 14.2h-1.2M185.1 99v1.2M94.5 11.1h-1.2M188.3 99v1.2M94.5 8.7h-1.2M190.9 99v1.2M94.5 6.8h-1.2M192.9 99v1.2M94.5 5.2h-1.2M194.7 99v1.2M94.5 3.8h-1.2M196.2 99v1.2M94.5 2.5h-1.2M197.5 99v1.2M94.5 1.4h-2.2M198.7 99v2.2" stroke="#333" stroke-width="0.6"/><text x="87.0" y="99.6" font-size="5.4" fill="#555" text-anchor="end">10</text><text x="87.3" y="96.0" font-size="3.9" fill="#555">0</text><text x="100.0" y="109.1" font-size="5.4" fill="#555" text-anchor="middle">10</text><text x="103.1" y="105.2" font-size="3.9" fill="#555">0</text><text x="87.0" y="77.0" font-size="5.4" fill="#555" text-anchor="end">10</text><text x="87.3" y="73.4" font-size="3.9" fill="#555">1</text><text x="120.5" y="109.1" font-size="5.4" fill="#555" text-anchor="middle">10</text><text x="123.6" y="105.2" font-size="3.9" fill="#555">1</text><text x="87.0" y="52.6" font-size="5.4" fill="#555" text-anchor="end">10</text><text x="87.3" y="49.0" font-size="3.9" fill="#555">2</text><text x="146.6" y="109.1" font-size="5.4" fill="#555" text-anchor="middle">10</text><text x="149.7" y="105.2" font-size="3.9" fill="#555">2</text><text x="87.0" y="28.2" font-size="5.4" fill="#555" text-anchor="end">10</text><text x="87.3" y="24.6" font-size="3.9" fill="#555">3</text><text x="172.6" y="109.1" font-size="5.4" fill="#555" text-anchor="middle">10</text><text x="175.7" y="105.2" font-size="3.9" fill="#555">3</text><text x="87.0" y="10.4" font-size="5.4" fill="#555" text-anchor="end">10</text><text x="87.3" y="6.8" font-size="3.9" fill="#555">4</text><text x="198.7" y="109.1" font-size="5.4" fill="#555" text-anchor="middle">10</text><text x="201.8" y="105.2" font-size="3.9" fill="#555">4</text><text x="124" y="22" font-size="5.3" fill="#222">IgG2ak</text><text x="124" y="28" font-size="5.3" fill="#222">0.649%</text><text x="74.9" y="55.1" font-size="7.5" font-weight="bold" fill="#000" text-anchor="middle" textLength="13.9" lengthAdjust="spacingAndGlyphs" transform="rotate(-90 74.9 55.1)">IL10</text><text x="148.4" y="121.5" font-size="7.5" font-weight="bold" fill="#000" text-anchor="middle" textLength="18.5" lengthAdjust="spacingAndGlyphs">CD19</text><path d="M225.5 2.4H330.2V100" fill="none" stroke="#606060" stroke-width="1.1"/><rect x="288.9" y="2.4" width="38.10000000000002" height="63.00000000000001" fill="none" stroke="#aaa" stroke-width="0.7"/><path d="M299.5 76L301 71.5L305 68.5L312 67.5L317 69L319.5 72.5L320 80L317 84.5L311 87L299.5 88Z" fill="#1a1a1a" filter="url(#blur05)"/><path d="M308.6 34.1h0.78v0.78h-0.78zM312.3 34.8h0.78v0.78h-0.78zM304.1 35.7h0.78v0.78h-0.78zM308.1 37.3h0.78v0.78h-0.78zM314.2 38.1h0.78v0.78h-0.78zM311.3 38.4h0.78v0.78h-0.78zM314.0 38.5h0.78v0.78h-0.78zM312.5 39.2h0.78v0.78h-0.78zM310.2 40.1h0.78v0.78h-0.78zM311.3 41.1h0.78v0.78h-0.78zM307.6 41.7h0.78v0.78h-0.78zM309.8 41.6h0.78v0.78h-0.78zM313.8 41.5h0.78v0.78h-0.78zM317.5 41.8h0.78v0.78h-0.78zM322.4 41.7h0.78v0.78h-0.78zM310.9 42.2h0.78v0.78h-0.78zM312.5 42.2h0.78v0.78h-0.78zM306.2 43.2h0.78v0.78h-0.78zM308.8 43.2h0.78v0.78h-0.78zM311.3 43.2h0.78v0.78h-0.78zM312.3 43.3h0.78v0.78h-0.78zM322.7 43.0h0.78v0.78h-0.78zM305.4 43.5h0.78v0.78h-0.78zM308.7 43.8h0.78v0.78h-0.78zM310.3 43.6h0.78v0.78h-0.78zM312.0 43.8h0.78v0.78h-0.78zM323.3 43.8h0.78v0.78h-0.78zM311.3 44.5h0.78v0.78h-0.78zM313.6 44.4h0.78v0.78h-0.78zM319.7 44.7h0.78v0.78h-0.78zM304.7 45.3h0.78v0.78h-0.78zM307.6 45.1h0.78v0.78h-0.78zM311.7 45.4h0.78v0.78h-0.78zM307.9 46.0h0.78v0.78h-0.78zM315.4 45.7h0.78v0.78h-0.78zM318.1 45.7h0.78v0.78h-0.78zM319.0 46.2h0.78v0.78h-0.78zM303.6 46.9h0.78v0.78h-0.78zM307.5 46.7h0.78v0.78h-0.78zM308.0 46.4h0.78v0.78h-0.78zM313.7 46.4h0.78v0.78h-0.78zM314.5 46.5h0.78v0.78h-0.78zM315.6 46.7h0.78v0.78h-0.78zM316.9 46.7h0.78v0.78h-0.78zM321.4 46.4h0.78v0.78h-0.78zM307.2 47.2h0.78v0.78h-0.78zM308.9 47.3h0.78v0.78h-0.78zM312.2 47.3h0.78v0.78h-0.78zM313.3 47.3h0.78v0.78h-0.78zM315.3 47.2h0.78v0.78h-0.78zM307.9 48.1h0.78v0.78h-0.78zM308.9 48.2h0.78v0.78h-0.78zM309.8 48.4h0.78v0.78h-0.78zM311.0 48.1h0.78v0.78h-0.78zM312.2 48.3h0.78v0.78h-0.78zM313.6 48.1h0.78v0.78h-0.78zM316.6 47.9h0.78v0.78h-0.78zM317.5 48.2h0.78v0.78h-0.78zM319.4 48.3h0.78v0.78h-0.78zM309.8 48.7h0.78v0.78h-0.78zM311.6 48.9h0.78v0.78h-0.78zM313.5 48.8h0.78v0.78h-0.78zM314.6 48.8h0.78v0.78h-0.78zM316.9 48.8h0.78v0.78h-0.78zM318.3 49.0h0.78v0.78h-0.78zM305.9 49.5h0.78v0.78h-0.78zM308.0 49.3h0.78v0.78h-0.78zM309.0 49.2h0.78v0.78h-0.78zM309.4 49.8h0.78v0.78h-0.78zM310.2 49.8h0.78v0.78h-0.78zM311.2 49.8h0.78v0.78h-0.78zM320.2 49.6h0.78v0.78h-0.78zM308.9 50.4h0.78v0.78h-0.78zM312.5 50.2h0.78v0.78h-0.78zM313.3 50.5h0.78v0.78h-0.78zM316.4 50.5h0.78v0.78h-0.78zM318.5 50.3h0.78v0.78h-0.78zM319.1 50.3h0.78v0.78h-0.78zM304.7 50.9h0.78v0.78h-0.78zM306.4 50.7h0.78v0.78h-0.78zM311.1 50.8h0.78v0.78h-0.78zM312.7 51.2h0.78v0.78h-0.78zM315.3 51.0h0.78v0.78h-0.78zM317.2 51.2h0.78v0.78h-0.78zM320.7 50.9h0.78v0.78h-0.78zM311.7 51.5h0.78v0.78h-0.78zM312.2 51.8h0.78v0.78h-0.78zM313.0 51.9h0.78v0.78h-0.78zM314.0 51.7h0.78v0.78h-0.78zM315.4 51.4h0.78v0.78h-0.78zM315.8 51.9h0.78v0.78h-0.78zM317.4 51.6h0.78v0.78h-0.78zM318.4 51.8h0.78v0.78h-0.78zM318.8 51.5h0.78v0.78h-0.78zM320.2 51.8h0.78v0.78h-0.78zM302.2 52.6h0.78v0.78h-0.78zM307.7 52.5h0.78v0.78h-0.78zM308.1 52.3h0.78v0.78h-0.78zM309.9 52.5h0.78v0.78h-0.78zM310.9 52.4h0.78v0.78h-0.78zM311.8 52.3h0.78v0.78h-0.78zM313.4 52.2h0.78v0.78h-0.78zM314.9 52.1h0.78v0.78h-0.78zM316.2 52.4h0.78v0.78h-0.78zM319.0 52.6h0.78v0.78h-0.78zM305.1 52.8h0.78v0.78h-0.78zM305.8 53.0h0.78v0.78h-0.78zM307.6 53.3h0.78v0.78h-0.78zM308.1 53.1h0.78v0.78h-0.78zM309.1 53.1h0.78v0.78h-0.78zM309.7 53.0h0.78v0.78h-0.78zM311.0 52.9h0.78v0.78h-0.78zM311.6 53.2h0.78v0.78h-0.78zM313.7 53.3h0.78v0.78h-0.78zM314.8 53.0h0.78v0.78h-0.78zM316.0 53.1h0.78v0.78h-0.78zM318.4 53.2h0.78v0.78h-0.78zM319.9 53.4h0.78v0.78h-0.78zM322.8 53.1h0.78v0.78h-0.78zM303.9 53.8h0.78v0.78h-0.78zM305.3 53.7h0.78v0.78h-0.78zM306.8 53.8h0.78v0.78h-0.78zM308.4 53.6h0.78v0.78h-0.78zM308.6 53.9h0.78v0.78h-0.78zM310.3 53.8h0.78v0.78h-0.78zM311.6 54.1h0.78v0.78h-0.78zM313.8 54.0h0.78v0.78h-0.78zM315.1 54.1h0.78v0.78h-0.78zM316.2 53.8h0.78v0.78h-0.78zM317.4 53.9h0.78v0.78h-0.78zM318.0 53.7h0.78v0.78h-0.78zM319.1 53.8h0.78v0.78h-0.78zM321.1 54.0h0.78v0.78h-0.78zM302.6 54.3h0.78v0.78h-0.78zM303.9 54.8h0.78v0.78h-0.78zM304.8 54.8h0.78v0.78h-0.78zM306.9 54.6h0.78v0.78h-0.78zM307.4 54.4h0.78v0.78h-0.78zM309.1 54.3h0.78v0.78h-0.78zM310.5 54.7h0.78v0.78h-0.78zM310.8 54.5h0.78v0.78h-0.78zM312.3 54.6h0.78v0.78h-0.78zM314.1 54.7h0.78v0.78h-0.78zM314.7 54.7h0.78v0.78h-0.78zM316.0 54.4h0.78v0.78h-0.78zM316.5 54.4h0.78v0.78h-0.78zM318.0 54.4h0.78v0.78h-0.78zM319.2 54.4h0.78v0.78h-0.78zM320.2 54.3h0.78v0.78h-0.78zM321.2 54.8h0.78v0.78h-0.78zM303.7 55.2h0.78v0.78h-0.78zM305.3 55.4h0.78v0.78h-0.78zM307.3 55.5h0.78v0.78h-0.78zM308.3 55.0h0.78v0.78h-0.78zM309.6 55.0h0.78v0.78h-0.78zM310.3 55.0h0.78v0.78h-0.78zM311.6 55.4h0.78v0.78h-0.78zM312.4 55.2h0.78v0.78h-0.78zM313.2 55.1h0.78v0.78h-0.78zM315.4 55.2h0.78v0.78h-0.78zM318.0 55.6h0.78v0.78h-0.78zM320.3 55.0h0.78v0.78h-0.78zM302.9 56.1h0.78v0.78h-0.78zM304.8 55.9h0.78v0.78h-0.78zM310.7 56.1h0.78v0.78h-0.78zM311.8 55.8h0.78v0.78h-0.78zM312.8 55.9h0.78v0.78h-0.78zM314.4 56.0h0.78v0.78h-0.78zM317.0 56.3h0.78v0.78h-0.78zM317.2 56.1h0.78v0.78h-0.78zM321.1 56.2h0.78v0.78h-0.78zM303.3 56.6h0.78v0.78h-0.78zM304.0 56.6h0.78v0.78h-0.78zM306.0 56.6h0.78v0.78h-0.78zM307.2 56.9h0.78v0.78h-0.78zM309.4 56.8h0.78v0.78h-0.78zM315.3 56.6h0.78v0.78h-0.78zM316.3 56.7h0.78v0.78h-0.78zM299.0 57.4h0.78v0.78h-0.78zM301.2 57.7h0.78v0.78h-0.78zM302.1 57.3h0.78v0.78h-0.78zM304.5 57.7h0.78v0.78h-0.78zM305.7 57.7h0.78v0.78h-0.78zM310.5 57.4h0.78v0.78h-0.78zM311.6 57.6h0.78v0.78h-0.78zM312.3 57.4h0.78v0.78h-0.78zM313.3 57.2h0.78v0.78h-0.78zM313.7 57.3h0.78v0.78h-0.78zM314.4 57.7h0.78v0.78h-0.78zM315.2 57.5h0.78v0.78h-0.78zM316.9 57.2h0.78v0.78h-0.78zM317.7 57.7h0.78v0.78h-0.78zM318.2 57.7h0.78v0.78h-0.78zM320.7 57.4h0.78v0.78h-0.78zM322.1 57.7h0.78v0.78h-0.78zM325.9 57.7h0.78v0.78h-0.78zM301.2 58.4h0.78v0.78h-0.78zM303.9 58.1h0.78v0.78h-0.78zM308.9 58.0h0.78v0.78h-0.78zM310.3 58.3h0.78v0.78h-0.78zM311.1 58.0h0.78v0.78h-0.78zM311.6 58.4h0.78v0.78h-0.78zM312.7 58.2h0.78v0.78h-0.78zM314.6 58.2h0.78v0.78h-0.78zM316.0 58.3h0.78v0.78h-0.78zM317.7 58.1h0.78v0.78h-0.78zM318.1 58.1h0.78v0.78h-0.78zM320.4 57.9h0.78v0.78h-0.78zM321.9 58.5h0.78v0.78h-0.78zM304.1 58.7h0.78v0.78h-0.78zM304.7 59.1h0.78v0.78h-0.78zM305.3 58.8h0.78v0.78h-0.78zM306.0 59.0h0.78v0.78h-0.78zM306.8 59.1h0.78v0.78h-0.78zM307.3 58.9h0.78v0.78h-0.78zM310.4 59.0h0.78v0.78h-0.78zM312.4 58.9h0.78v0.78h-0.78zM315.8 59.1h0.78v0.78h-0.78zM317.8 58.6h0.78v0.78h-0.78zM318.1 58.9h0.78v0.78h-0.78zM319.2 58.7h0.78v0.78h-0.78zM319.7 59.0h0.78v0.78h-0.78zM301.4 59.7h0.78v0.78h-0.78zM302.3 59.6h0.78v0.78h-0.78zM304.7 59.6h0.78v0.78h-0.78zM305.5 59.5h0.78v0.78h-0.78zM306.0 59.4h0.78v0.78h-0.78zM306.5 59.4h0.78v0.78h-0.78zM310.1 59.8h0.78v0.78h-0.78zM311.6 59.4h0.78v0.78h-0.78zM312.4 59.8h0.78v0.78h-0.78zM315.2 59.8h0.78v0.78h-0.78zM318.4 59.6h0.78v0.78h-0.78zM319.2 59.7h0.78v0.78h-0.78zM321.9 59.4h0.78v0.78h-0.78zM301.0 60.4h0.78v0.78h-0.78zM303.4 60.3h0.78v0.78h-0.78zM304.0 60.4h0.78v0.78h-0.78zM305.5 60.4h0.78v0.78h-0.78zM305.8 60.5h0.78v0.78h-0.78zM307.1 60.2h0.78v0.78h-0.78zM307.9 60.5h0.78v0.78h-0.78zM309.6 60.2h0.78v0.78h-0.78zM310.0 60.3h0.78v0.78h-0.78zM311.7 60.6h0.78v0.78h-0.78zM314.9 60.5h0.78v0.78h-0.78zM316.0 60.6h0.78v0.78h-0.78zM316.7 60.1h0.78v0.78h-0.78zM317.8 60.4h0.78v0.78h-0.78zM319.1 60.4h0.78v0.78h-0.78zM321.1 60.4h0.78v0.78h-0.78zM324.2 60.5h0.78v0.78h-0.78zM302.2 61.3h0.78v0.78h-0.78zM304.8 61.3h0.78v0.78h-0.78zM305.3 60.7h0.78v0.78h-0.78zM305.8 61.2h0.78v0.78h-0.78zM306.6 60.8h0.78v0.78h-0.78zM307.7 60.9h0.78v0.78h-0.78zM308.2 60.8h0.78v0.78h-0.78zM309.1 60.9h0.78v0.78h-0.78zM314.9 61.0h0.78v0.78h-0.78zM315.4 60.9h0.78v0.78h-0.78zM317.8 60.8h0.78v0.78h-0.78zM318.3 61.2h0.78v0.78h-0.78zM320.2 61.0h0.78v0.78h-0.78zM320.9 61.1h0.78v0.78h-0.78zM324.0 61.3h0.78v0.78h-0.78zM298.8 61.5h0.78v0.78h-0.78zM302.7 61.6h0.78v0.78h-0.78zM303.4 61.7h0.78v0.78h-0.78zM304.8 61.9h0.78v0.78h-0.78zM306.3 61.6h0.78v0.78h-0.78zM307.2 62.1h0.78v0.78h-0.78zM308.3 61.8h0.78v0.78h-0.78zM308.9 61.8h0.78v0.78h-0.78zM310.8 61.6h0.78v0.78h-0.78zM311.6 61.6h0.78v0.78h-0.78zM312.7 61.9h0.78v0.78h-0.78zM313.8 61.6h0.78v0.78h-0.78zM316.0 62.0h0.78v0.78h-0.78zM317.7 62.0h0.78v0.78h-0.78zM318.3 61.7h0.78v0.78h-0.78zM319.6 62.0h0.78v0.78h-0.78zM300.3 62.5h0.78v0.78h-0.78zM300.9 62.4h0.78v0.78h-0.78zM301.5 62.4h0.78v0.78h-0.78zM303.2 62.7h0.78v0.78h-0.78zM305.3 62.5h0.78v0.78h-0.78zM308.0 62.6h0.78v0.78h-0.78zM309.7 62.5h0.78v0.78h-0.78zM310.5 62.6h0.78v0.78h-0.78zM311.0 62.3h0.78v0.78h-0.78zM313.9 62.8h0.78v0.78h-0.78zM315.6 62.3h0.78v0.78h-0.78zM316.3 62.5h0.78v0.78h-0.78zM316.6 62.6h0.78v0.78h-0.78zM320.9 62.5h0.78v0.78h-0.78zM322.5 62.4h0.78v0.78h-0.78zM300.2 63.2h0.78v0.78h-0.78zM302.2 63.1h0.78v0.78h-0.78zM303.1 63.1h0.78v0.78h-0.78zM303.8 63.2h0.78v0.78h-0.78zM305.8 63.2h0.78v0.78h-0.78zM306.9 63.0h0.78v0.78h-0.78zM308.0 63.3h0.78v0.78h-0.78zM308.7 63.4h0.78v0.78h-0.78zM309.7 63.2h0.78v0.78h-0.78zM310.2 63.0h0.78v0.78h-0.78zM312.3 63.2h0.78v0.78h-0.78zM314.2 63.4h0.78v0.78h-0.78zM316.3 63.3h0.78v0.78h-0.78zM318.5 63.0h0.78v0.78h-0.78zM319.0 63.3h0.78v0.78h-0.78zM319.9 63.0h0.78v0.78h-0.78zM321.8 63.5h0.78v0.78h-0.78zM324.0 62.9h0.78v0.78h-0.78zM324.5 63.4h0.78v0.78h-0.78zM302.5 63.9h0.78v0.78h-0.78zM303.2 64.2h0.78v0.78h-0.78zM303.8 63.9h0.78v0.78h-0.78zM306.9 63.9h0.78v0.78h-0.78zM307.7 63.9h0.78v0.78h-0.78zM308.2 63.8h0.78v0.78h-0.78zM309.7 63.7h0.78v0.78h-0.78zM311.8 64.2h0.78v0.78h-0.78zM312.2 63.8h0.78v0.78h-0.78zM314.4 63.7h0.78v0.78h-0.78zM315.4 63.8h0.78v0.78h-0.78zM315.9 64.1h0.78v0.78h-0.78zM316.9 63.8h0.78v0.78h-0.78zM318.3 63.9h0.78v0.78h-0.78zM318.9 64.0h0.78v0.78h-0.78zM320.5 64.0h0.78v0.78h-0.78zM321.7 63.9h0.78v0.78h-0.78zM300.5 64.8h0.78v0.78h-0.78zM300.7 64.9h0.78v0.78h-0.78zM302.3 64.8h0.78v0.78h-0.78zM302.9 64.5h0.78v0.78h-0.78zM303.8 64.9h0.78v0.78h-0.78zM304.5 64.8h0.78v0.78h-0.78zM305.7 64.8h0.78v0.78h-0.78zM307.9 64.7h0.78v0.78h-0.78zM308.6 64.4h0.78v0.78h-0.78zM309.7 64.8h0.78v0.78h-0.78zM310.5 64.9h0.78v0.78h-0.78zM310.9 64.9h0.78v0.78h-0.78zM311.9 64.7h0.78v0.78h-0.78zM312.5 64.8h0.78v0.78h-0.78zM313.4 64.7h0.78v0.78h-0.78zM313.9 64.4h0.78v0.78h-0.78zM314.9 64.6h0.78v0.78h-0.78zM315.6 64.6h0.78v0.78h-0.78zM316.2 64.7h0.78v0.78h-0.78zM317.6 64.5h0.78v0.78h-0.78zM319.0 64.5h0.78v0.78h-0.78zM319.6 64.5h0.78v0.78h-0.78zM320.7 64.5h0.78v0.78h-0.78zM323.7 64.4h0.78v0.78h-0.78zM298.6 65.6h0.78v0.78h-0.78zM301.1 65.4h0.78v0.78h-0.78zM302.3 65.2h0.78v0.78h-0.78zM304.5 65.2h0.78v0.78h-0.78zM306.2 65.1h0.78v0.78h-0.78zM306.6 65.1h0.78v0.78h-0.78zM307.6 65.6h0.78v0.78h-0.78zM308.1 65.1h0.78v0.78h-0.78zM309.1 65.4h0.78v0.78h-0.78zM309.5 65.1h0.78v0.78h-0.78zM310.5 65.4h0.78v0.78h-0.78zM311.2 65.5h0.78v0.78h-0.78zM312.0 65.4h0.78v0.78h-0.78zM312.5 65.4h0.78v0.78h-0.78zM313.5 65.4h0.78v0.78h-0.78zM314.1 65.5h0.78v0.78h-0.78zM314.9 65.5h0.78v0.78h-0.78zM315.1 65.5h0.78v0.78h-0.78zM316.1 65.4h0.78v0.78h-0.78zM316.9 65.2h0.78v0.78h-0.78zM317.2 65.3h0.78v0.78h-0.78zM318.2 65.2h0.78v0.78h-0.78zM319.1 65.6h0.78v0.78h-0.78zM319.7 65.1h0.78v0.78h-0.78zM324.0 65.1h0.78v0.78h-0.78zM302.4 66.0h0.78v0.78h-0.78zM303.1 65.9h0.78v0.78h-0.78zM304.1 66.4h0.78v0.78h-0.78zM304.5 66.0h0.78v0.78h-0.78zM305.4 66.2h0.78v0.78h-0.78zM306.0 66.1h0.78v0.78h-0.78zM306.6 66.0h0.78v0.78h-0.78zM307.3 65.9h0.78v0.78h-0.78zM308.1 66.3h0.78v0.78h-0.78zM308.9 66.1h0.78v0.78h-0.78zM309.8 66.1h0.78v0.78h-0.78zM310.2 65.9h0.78v0.78h-0.78zM310.9 65.8h0.78v0.78h-0.78zM312.7 66.1h0.78v0.78h-0.78zM313.0 66.1h0.78v0.78h-0.78zM314.1 66.2h0.78v0.78h-0.78zM314.9 66.3h0.78v0.78h-0.78zM315.5 66.0h0.78v0.78h-0.78zM316.1 66.1h0.78v0.78h-0.78zM316.8 65.9h0.78v0.78h-0.78zM317.4 66.4h0.78v0.78h-0.78zM318.1 65.8h0.78v0.78h-0.78zM319.2 66.3h0.78v0.78h-0.78zM320.3 66.0h0.78v0.78h-0.78zM321.2 66.0h0.78v0.78h-0.78zM322.5 66.1h0.78v0.78h-0.78zM299.4 66.6h0.78v0.78h-0.78zM300.2 66.8h0.78v0.78h-0.78zM301.1 66.8h0.78v0.78h-0.78zM302.6 66.7h0.78v0.78h-0.78zM303.0 66.7h0.78v0.78h-0.78zM303.6 67.0h0.78v0.78h-0.78zM304.3 66.7h0.78v0.78h-0.78zM305.3 66.9h0.78v0.78h-0.78zM305.7 66.5h0.78v0.78h-0.78zM307.0 66.5h0.78v0.78h-0.78zM307.2 67.0h0.78v0.78h-0.78zM308.1 66.8h0.78v0.78h-0.78zM309.0 66.8h0.78v0.78h-0.78zM309.8 66.6h0.78v0.78h-0.78zM310.5 66.8h0.78v0.78h-0.78zM310.9 66.7h0.78v0.78h-0.78zM311.9 66.6h0.78v0.78h-0.78zM312.4 67.0h0.78v0.78h-0.78zM313.1 66.8h0.78v0.78h-0.78zM313.9 66.9h0.78v0.78h-0.78zM314.7 66.8h0.78v0.78h-0.78zM315.3 66.9h0.78v0.78h-0.78zM315.9 66.8h0.78v0.78h-0.78zM316.6 67.1h0.78v0.78h-0.78zM317.7 66.8h0.78v0.78h-0.78zM318.0 67.1h0.78v0.78h-0.78zM318.8 66.7h0.78v0.78h-0.78zM319.9 67.0h0.78v0.78h-0.78zM320.9 66.7h0.78v0.78h-0.78zM299.9 67.7h0.78v0.78h-0.78zM302.0 67.3h0.78v0.78h-0.78zM302.4 67.5h0.78v0.78h-0.78zM303.1 67.6h0.78v0.78h-0.78zM304.5 67.4h0.78v0.78h-0.78zM305.5 67.5h0.78v0.78h-0.78zM306.2 67.8h0.78v0.78h-0.78zM307.0 67.3h0.78v0.78h-0.78zM307.4 67.7h0.78v0.78h-0.78zM307.9 67.4h0.78v0.78h-0.78zM308.8 67.6h0.78v0.78h-0.78zM309.6 67.7h0.78v0.78h-0.78zM311.2 67.7h0.78v0.78h-0.78zM311.7 67.6h0.78v0.78h-0.78zM312.3 67.8h0.78v0.78h-0.78zM313.4 67.8h0.78v0.78h-0.78zM314.0 67.7h0.78v0.78h-0.78zM314.8 67.7h0.78v0.78h-0.78zM315.5 67.8h0.78v0.78h-0.78zM316.0 67.6h0.78v0.78h-0.78zM316.9 67.5h0.78v0.78h-0.78zM317.7 67.5h0.78v0.78h-0.78zM318.2 67.5h0.78v0.78h-0.78zM319.2 67.2h0.78v0.78h-0.78zM319.9 67.6h0.78v0.78h-0.78zM320.2 67.6h0.78v0.78h-0.78zM300.3 68.1h0.78v0.78h-0.78zM300.9 68.3h0.78v0.78h-0.78zM301.7 68.0h0.78v0.78h-0.78zM302.5 68.1h0.78v0.78h-0.78zM303.3 68.1h0.78v0.78h-0.78zM303.8 68.5h0.78v0.78h-0.78zM304.7 68.3h0.78v0.78h-0.78zM305.2 68.0h0.78v0.78h-0.78zM306.1 68.1h0.78v0.78h-0.78zM306.5 68.0h0.78v0.78h-0.78zM307.6 68.2h0.78v0.78h-0.78zM308.3 68.0h0.78v0.78h-0.78zM309.0 68.4h0.78v0.78h-0.78zM309.7 68.2h0.78v0.78h-0.78zM310.4 68.3h0.78v0.78h-0.78zM310.9 68.5h0.78v0.78h-0.78zM311.6 68.3h0.78v0.78h-0.78zM312.7 68.1h0.78v0.78h-0.78zM313.0 68.2h0.78v0.78h-0.78zM313.7 68.3h0.78v0.78h-0.78zM314.7 68.3h0.78v0.78h-0.78zM315.3 68.3h0.78v0.78h-0.78zM316.2 68.3h0.78v0.78h-0.78zM317.0 68.5h0.78v0.78h-0.78zM317.4 68.3h0.78v0.78h-0.78zM318.2 68.2h0.78v0.78h-0.78zM318.9 68.3h0.78v0.78h-0.78zM319.5 68.1h0.78v0.78h-0.78zM320.4 68.0h0.78v0.78h-0.78zM320.9 68.3h0.78v0.78h-0.78zM324.5 68.5h0.78v0.78h-0.78zM298.6 69.1h0.78v0.78h-0.78zM300.4 68.9h0.78v0.78h-0.78zM300.8 68.9h0.78v0.78h-0.78zM301.7 68.9h0.78v0.78h-0.78zM302.7 68.7h0.78v0.78h-0.78zM303.1 69.2h0.78v0.78h-0.78zM303.8 68.8h0.78v0.78h-0.78zM304.5 68.7h0.78v0.78h-0.78zM305.5 68.8h0.78v0.78h-0.78zM306.0 69.1h0.78v0.78h-0.78zM306.9 69.1h0.78v0.78h-0.78zM307.6 69.2h0.78v0.78h-0.78zM308.0 69.0h0.78v0.78h-0.78zM308.9 68.7h0.78v0.78h-0.78zM309.9 68.8h0.78v0.78h-0.78zM310.5 69.1h0.78v0.78h-0.78zM310.8 68.8h0.78v0.78h-0.78zM311.8 69.1h0.78v0.78h-0.78zM312.3 68.8h0.78v0.78h-0.78zM313.1 69.1h0.78v0.78h-0.78zM314.6 68.9h0.78v0.78h-0.78zM315.5 69.0h0.78v0.78h-0.78zM316.1 69.2h0.78v0.78h-0.78zM316.7 68.8h0.78v0.78h-0.78zM317.8 68.9h0.78v0.78h-0.78zM318.0 69.1h0.78v0.78h-0.78zM319.2 68.8h0.78v0.78h-0.78zM319.9 68.8h0.78v0.78h-0.78zM320.5 68.9h0.78v0.78h-0.78zM321.3 68.9h0.78v0.78h-0.78zM323.9 69.3h0.78v0.78h-0.78zM298.4 69.9h0.78v0.78h-0.78zM299.5 69.5h0.78v0.78h-0.78zM300.1 69.9h0.78v0.78h-0.78zM301.0 69.5h0.78v0.78h-0.78zM301.9 69.4h0.78v0.78h-0.78zM302.5 69.8h0.78v0.78h-0.78zM303.1 69.8h0.78v0.78h-0.78zM303.7 69.7h0.78v0.78h-0.78zM304.4 69.7h0.78v0.78h-0.78zM305.3 70.0h0.78v0.78h-0.78zM306.0 69.6h0.78v0.78h-0.78zM306.9 69.6h0.78v0.78h-0.78zM307.2 69.7h0.78v0.78h-0.78zM308.3 69.5h0.78v0.78h-0.78zM308.8 69.8h0.78v0.78h-0.78zM309.5 69.6h0.78v0.78h-0.78zM310.3 69.7h0.78v0.78h-0.78zM311.1 69.9h0.78v0.78h-0.78zM311.9 69.5h0.78v0.78h-0.78zM312.2 69.7h0.78v0.78h-0.78zM313.0 69.7h0.78v0.78h-0.78zM314.1 69.6h0.78v0.78h-0.78zM314.9 69.8h0.78v0.78h-0.78zM315.3 69.6h0.78v0.78h-0.78zM315.8 69.9h0.78v0.78h-0.78zM316.8 69.8h0.78v0.78h-0.78zM317.3 69.7h0.78v0.78h-0.78zM318.2 69.9h0.78v0.78h-0.78zM318.8 69.7h0.78v0.78h-0.78zM319.9 69.5h0.78v0.78h-0.78zM320.5 69.8h0.78v0.78h-0.78zM321.8 69.5h0.78v0.78h-0.78zM323.9 69.8h0.78v0.78h-0.78zM298.8 70.1h0.78v0.78h-0.78zM299.5 70.6h0.78v0.78h-0.78zM299.9 70.7h0.78v0.78h-0.78zM301.2 70.1h0.78v0.78h-0.78zM301.6 70.5h0.78v0.78h-0.78zM302.7 70.1h0.78v0.78h-0.78zM303.3 70.5h0.78v0.78h-0.78zM303.7 70.3h0.78v0.78h-0.78zM304.6 70.4h0.78v0.78h-0.78zM305.4 70.3h0.78v0.78h-0.78zM305.9 70.5h0.78v0.78h-0.78zM307.0 70.4h0.78v0.78h-0.78zM307.7 70.3h0.78v0.78h-0.78zM307.9 70.2h0.78v0.78h-0.78zM308.6 70.2h0.78v0.78h-0.78zM309.7 70.3h0.78v0.78h-0.78zM310.1 70.6h0.78v0.78h-0.78zM311.3 70.3h0.78v0.78h-0.78zM311.7 70.3h0.78v0.78h-0.78zM312.5 70.4h0.78v0.78h-0.78zM313.2 70.4h0.78v0.78h-0.78zM314.0 70.6h0.78v0.78h-0.78zM314.9 70.4h0.78v0.78h-0.78zM315.1 70.5h0.78v0.78h-0.78zM316.0 70.3h0.78v0.78h-0.78zM316.9 70.4h0.78v0.78h-0.78zM317.7 70.4h0.78v0.78h-0.78zM318.0 70.3h0.78v0.78h-0.78zM319.2 70.1h0.78v0.78h-0.78zM319.4 70.7h0.78v0.78h-0.78zM320.3 70.4h0.78v0.78h-0.78zM321.0 70.4h0.78v0.78h-0.78zM321.7 70.2h0.78v0.78h-0.78zM322.5 70.3h0.78v0.78h-0.78zM298.8 71.2h0.78v0.78h-0.78zM299.4 71.3h0.78v0.78h-0.78zM300.5 71.4h0.78v0.78h-0.78zM300.8 71.2h0.78v0.78h-0.78zM301.5 71.1h0.78v0.78h-0.78zM302.3 71.4h0.78v0.78h-0.78zM303.2 70.8h0.78v0.78h-0.78zM303.7 71.2h0.78v0.78h-0.78zM304.6 71.3h0.78v0.78h-0.78zM305.5 71.2h0.78v0.78h-0.78zM306.2 71.0h0.78v0.78h-0.78zM306.9 71.2h0.78v0.78h-0.78zM307.4 70.8h0.78v0.78h-0.78zM308.2 70.9h0.78v0.78h-0.78zM308.6 71.2h0.78v0.78h-0.78zM309.5 71.0h0.78v0.78h-0.78zM310.4 71.3h0.78v0.78h-0.78zM311.0 71.4h0.78v0.78h-0.78zM311.6 71.0h0.78v0.78h-0.78zM312.6 71.3h0.78v0.78h-0.78zM313.4 71.4h0.78v0.78h-0.78zM314.1 70.8h0.78v0.78h-0.78zM314.8 70.8h0.78v0.78h-0.78zM315.4 71.2h0.78v0.78h-0.78zM316.4 71.4h0.78v0.78h-0.78zM317.7 71.0h0.78v0.78h-0.78zM318.0 71.0h0.78v0.78h-0.78zM318.7 71.1h0.78v0.78h-0.78zM319.9 71.0h0.78v0.78h-0.78zM320.6 71.0h0.78v0.78h-0.78zM321.1 71.0h0.78v0.78h-0.78zM322.5 71.1h0.78v0.78h-0.78zM323.0 71.0h0.78v0.78h-0.78zM298.5 72.1h0.78v0.78h-0.78zM299.3 71.9h0.78v0.78h-0.78zM300.1 72.1h0.78v0.78h-0.78zM301.2 72.0h0.78v0.78h-0.78zM301.6 71.8h0.78v0.78h-0.78zM302.2 71.8h0.78v0.78h-0.78zM303.2 71.9h0.78v0.78h-0.78zM304.0 72.0h0.78v0.78h-0.78zM304.6 71.7h0.78v0.78h-0.78zM305.4 71.9h0.78v0.78h-0.78zM305.7 71.7h0.78v0.78h-0.78zM306.8 71.8h0.78v0.78h-0.78zM307.5 71.8h0.78v0.78h-0.78zM307.9 71.7h0.78v0.78h-0.78zM308.8 71.7h0.78v0.78h-0.78zM309.7 72.0h0.78v0.78h-0.78zM310.5 72.0h0.78v0.78h-0.78zM311.2 72.0h0.78v0.78h-0.78zM311.9 71.9h0.78v0.78h-0.78zM312.5 71.9h0.78v0.78h-0.78zM313.2 71.7h0.78v0.78h-0.78zM314.1 71.7h0.78v0.78h-0.78zM314.4 71.9h0.78v0.78h-0.78zM315.5 72.1h0.78v0.78h-0.78zM316.3 71.7h0.78v0.78h-0.78zM316.7 71.8h0.78v0.78h-0.78zM317.6 71.6h0.78v0.78h-0.78zM318.2 71.8h0.78v0.78h-0.78zM318.8 72.0h0.78v0.78h-0.78zM319.4 71.9h0.78v0.78h-0.78zM320.3 71.9h0.78v0.78h-0.78zM321.1 72.1h0.78v0.78h-0.78zM321.9 71.8h0.78v0.78h-0.78zM323.2 72.1h0.78v0.78h-0.78zM298.7 72.4h0.78v0.78h-0.78zM299.4 72.4h0.78v0.78h-0.78zM300.4 72.3h0.78v0.78h-0.78zM302.0 72.8h0.78v0.78h-0.78zM302.9 72.4h0.78v0.78h-0.78zM303.6 72.7h0.78v0.78h-0.78zM304.7 72.3h0.78v0.78h-0.78zM305.5 72.5h0.78v0.78h-0.78zM306.1 72.5h0.78v0.78h-0.78zM306.6 72.7h0.78v0.78h-0.78zM307.4 72.7h0.78v0.78h-0.78zM308.2 72.5h0.78v0.78h-0.78zM308.9 72.6h0.78v0.78h-0.78zM309.6 72.4h0.78v0.78h-0.78zM310.1 72.4h0.78v0.78h-0.78zM311.1 72.7h0.78v0.78h-0.78zM311.6 72.7h0.78v0.78h-0.78zM312.5 72.8h0.78v0.78h-0.78zM313.0 72.7h0.78v0.78h-0.78zM313.8 72.8h0.78v0.78h-0.78zM314.8 72.7h0.78v0.78h-0.78zM316.0 72.6h0.78v0.78h-0.78zM316.8 72.3h0.78v0.78h-0.78zM317.3 72.8h0.78v0.78h-0.78zM317.9 72.6h0.78v0.78h-0.78zM319.2 72.7h0.78v0.78h-0.78zM319.9 72.7h0.78v0.78h-0.78zM320.5 72.7h0.78v0.78h-0.78zM321.2 72.7h0.78v0.78h-0.78zM321.6 72.7h0.78v0.78h-0.78zM323.5 72.8h0.78v0.78h-0.78zM297.3 73.1h0.78v0.78h-0.78zM298.1 73.1h0.78v0.78h-0.78zM298.6 73.5h0.78v0.78h-0.78zM299.7 73.0h0.78v0.78h-0.78zM300.5 73.4h0.78v0.78h-0.78zM301.0 73.4h0.78v0.78h-0.78zM301.6 73.4h0.78v0.78h-0.78zM302.2 73.4h0.78v0.78h-0.78zM303.0 73.4h0.78v0.78h-0.78zM304.0 73.5h0.78v0.78h-0.78zM304.8 73.2h0.78v0.78h-0.78zM305.1 73.1h0.78v0.78h-0.78zM305.9 73.3h0.78v0.78h-0.78zM306.8 73.5h0.78v0.78h-0.78zM307.7 73.5h0.78v0.78h-0.78zM308.4 73.5h0.78v0.78h-0.78zM308.7 73.3h0.78v0.78h-0.78zM309.4 73.4h0.78v0.78h-0.78zM310.4 73.2h0.78v0.78h-0.78zM311.2 73.1h0.78v0.78h-0.78zM312.0 73.2h0.78v0.78h-0.78zM312.3 73.2h0.78v0.78h-0.78zM313.0 73.5h0.78v0.78h-0.78zM313.9 73.2h0.78v0.78h-0.78zM314.3 73.5h0.78v0.78h-0.78zM315.6 73.4h0.78v0.78h-0.78zM316.2 73.5h0.78v0.78h-0.78zM316.8 73.2h0.78v0.78h-0.78zM317.4 73.6h0.78v0.78h-0.78zM318.3 73.3h0.78v0.78h-0.78zM318.7 73.2h0.78v0.78h-0.78zM319.8 73.1h0.78v0.78h-0.78zM320.4 73.1h0.78v0.78h-0.78zM321.3 73.4h0.78v0.78h-0.78zM321.6 73.6h0.78v0.78h-0.78zM322.5 73.0h0.78v0.78h-0.78zM323.7 73.4h0.78v0.78h-0.78zM297.6 74.2h0.78v0.78h-0.78zM298.7 73.8h0.78v0.78h-0.78zM299.6 74.1h0.78v0.78h-0.78zM300.1 74.3h0.78v0.78h-0.78zM301.1 74.0h0.78v0.78h-0.78zM301.7 73.7h0.78v0.78h-0.78zM302.1 74.0h0.78v0.78h-0.78zM303.0 74.2h0.78v0.78h-0.78zM303.7 74.2h0.78v0.78h-0.78zM304.6 74.1h0.78v0.78h-0.78zM305.3 73.9h0.78v0.78h-0.78zM305.7 74.3h0.78v0.78h-0.78zM306.9 74.2h0.78v0.78h-0.78zM307.5 73.8h0.78v0.78h-0.78zM308.3 74.3h0.78v0.78h-0.78zM308.7 74.2h0.78v0.78h-0.78zM309.7 73.8h0.78v0.78h-0.78zM310.1 73.9h0.78v0.78h-0.78zM311.2 74.3h0.78v0.78h-0.78zM311.8 74.1h0.78v0.78h-0.78zM312.3 74.1h0.78v0.78h-0.78zM313.6 74.1h0.78v0.78h-0.78zM314.7 74.0h0.78v0.78h-0.78zM315.4 73.7h0.78v0.78h-0.78zM315.8 74.1h0.78v0.78h-0.78zM316.7 74.1h0.78v0.78h-0.78zM317.3 74.0h0.78v0.78h-0.78zM318.3 73.8h0.78v0.78h-0.78zM318.9 74.1h0.78v0.78h-0.78zM319.9 74.1h0.78v0.78h-0.78zM320.6 74.0h0.78v0.78h-0.78zM321.3 73.8h0.78v0.78h-0.78zM321.8 73.7h0.78v0.78h-0.78zM322.8 74.3h0.78v0.78h-0.78zM298.1 74.7h0.78v0.78h-0.78zM298.6 74.6h0.78v0.78h-0.78zM299.4 74.8h0.78v0.78h-0.78zM300.1 74.8h0.78v0.78h-0.78zM301.1 74.9h0.78v0.78h-0.78zM302.2 74.7h0.78v0.78h-0.78zM303.3 74.8h0.78v0.78h-0.78zM304.1 74.6h0.78v0.78h-0.78zM304.5 74.9h0.78v0.78h-0.78zM305.2 74.9h0.78v0.78h-0.78zM305.7 74.6h0.78v0.78h-0.78zM306.5 74.7h0.78v0.78h-0.78zM307.4 74.7h0.78v0.78h-0.78zM308.2 74.5h0.78v0.78h-0.78zM308.7 75.0h0.78v0.78h-0.78zM310.4 75.0h0.78v0.78h-0.78zM311.3 74.5h0.78v0.78h-0.78zM311.6 74.6h0.78v0.78h-0.78zM312.3 74.5h0.78v0.78h-0.78zM313.4 74.6h0.78v0.78h-0.78zM314.2 74.9h0.78v0.78h-0.78zM314.8 75.0h0.78v0.78h-0.78zM315.3 74.5h0.78v0.78h-0.78zM316.3 74.6h0.78v0.78h-0.78zM317.0 74.6h0.78v0.78h-0.78zM317.8 74.5h0.78v0.78h-0.78zM318.1 74.5h0.78v0.78h-0.78zM319.1 74.6h0.78v0.78h-0.78zM319.9 74.8h0.78v0.78h-0.78zM320.2 74.8h0.78v0.78h-0.78zM320.9 74.5h0.78v0.78h-0.78zM322.1 74.9h0.78v0.78h-0.78zM322.6 74.6h0.78v0.78h-0.78zM297.6 75.2h0.78v0.78h-0.78zM297.9 75.5h0.78v0.78h-0.78zM298.9 75.5h0.78v0.78h-0.78zM299.5 75.5h0.78v0.78h-0.78zM300.1 75.7h0.78v0.78h-0.78zM301.2 75.4h0.78v0.78h-0.78zM301.5 75.2h0.78v0.78h-0.78zM302.5 75.5h0.78v0.78h-0.78zM303.2 75.2h0.78v0.78h-0.78zM304.1 75.2h0.78v0.78h-0.78zM304.8 75.2h0.78v0.78h-0.78zM305.3 75.4h0.78v0.78h-0.78zM306.3 75.5h0.78v0.78h-0.78zM306.7 75.2h0.78v0.78h-0.78zM307.7 75.4h0.78v0.78h-0.78zM308.0 75.2h0.78v0.78h-0.78zM308.6 75.3h0.78v0.78h-0.78zM309.7 75.6h0.78v0.78h-0.78zM310.2 75.6h0.78v0.78h-0.78zM311.0 75.6h0.78v0.78h-0.78zM311.8 75.3h0.78v0.78h-0.78zM313.5 75.3h0.78v0.78h-0.78zM314.2 75.2h0.78v0.78h-0.78zM314.6 75.2h0.78v0.78h-0.78zM315.2 75.2h0.78v0.78h-0.78zM316.0 75.2h0.78v0.78h-0.78zM316.7 75.7h0.78v0.78h-0.78zM317.4 75.6h0.78v0.78h-0.78zM318.4 75.6h0.78v0.78h-0.78zM318.8 75.2h0.78v0.78h-0.78zM319.8 75.4h0.78v0.78h-0.78zM320.5 75.5h0.78v0.78h-0.78zM321.0 75.4h0.78v0.78h-0.78zM321.7 75.5h0.78v0.78h-0.78zM297.3 76.3h0.78v0.78h-0.78zM298.3 76.2h0.78v0.78h-0.78zM298.6 75.9h0.78v0.78h-0.78zM299.8 75.9h0.78v0.78h-0.78zM300.4 75.9h0.78v0.78h-0.78zM300.9 76.1h0.78v0.78h-0.78zM301.7 76.3h0.78v0.78h-0.78zM302.5 76.4h0.78v0.78h-0.78zM303.4 76.4h0.78v0.78h-0.78zM303.6 76.3h0.78v0.78h-0.78zM304.4 76.2h0.78v0.78h-0.78zM305.1 76.2h0.78v0.78h-0.78zM305.9 76.1h0.78v0.78h-0.78zM306.7 76.1h0.78v0.78h-0.78zM307.5 76.3h0.78v0.78h-0.78zM307.9 76.1h0.78v0.78h-0.78zM308.8 76.3h0.78v0.78h-0.78zM309.5 76.1h0.78v0.78h-0.78zM310.6 76.4h0.78v0.78h-0.78zM311.1 76.1h0.78v0.78h-0.78zM311.7 76.2h0.78v0.78h-0.78zM312.3 76.0h0.78v0.78h-0.78zM313.4 76.1h0.78v0.78h-0.78zM313.8 76.3h0.78v0.78h-0.78zM314.7 76.3h0.78v0.78h-0.78zM316.0 76.3h0.78v0.78h-0.78zM316.6 76.1h0.78v0.78h-0.78zM317.6 76.3h0.78v0.78h-0.78zM318.2 76.3h0.78v0.78h-0.78zM318.7 76.4h0.78v0.78h-0.78zM319.8 76.1h0.78v0.78h-0.78zM320.4 76.4h0.78v0.78h-0.78zM321.1 76.1h0.78v0.78h-0.78zM322.0 76.1h0.78v0.78h-0.78zM322.5 75.9h0.78v0.78h-0.78zM323.3 76.3h0.78v0.78h-0.78zM298.1 76.7h0.78v0.78h-0.78zM298.5 77.2h0.78v0.78h-0.78zM299.7 76.7h0.78v0.78h-0.78zM300.0 77.1h0.78v0.78h-0.78zM300.9 76.9h0.78v0.78h-0.78zM301.5 77.0h0.78v0.78h-0.78zM302.6 77.1h0.78v0.78h-0.78zM303.1 77.0h0.78v0.78h-0.78zM303.7 76.9h0.78v0.78h-0.78zM304.6 76.7h0.78v0.78h-0.78zM305.5 77.0h0.78v0.78h-0.78zM306.0 76.9h0.78v0.78h-0.78zM306.9 77.1h0.78v0.78h-0.78zM307.6 76.7h0.78v0.78h-0.78zM308.1 77.0h0.78v0.78h-0.78zM308.6 77.1h0.78v0.78h-0.78zM309.5 77.1h0.78v0.78h-0.78zM310.2 77.0h0.78v0.78h-0.78zM311.2 77.1h0.78v0.78h-0.78zM312.0 76.7h0.78v0.78h-0.78zM312.6 76.7h0.78v0.78h-0.78zM313.4 76.9h0.78v0.78h-0.78zM314.1 76.6h0.78v0.78h-0.78zM314.8 76.9h0.78v0.78h-0.78zM315.6 76.7h0.78v0.78h-0.78zM316.3 77.0h0.78v0.78h-0.78zM317.1 77.1h0.78v0.78h-0.78zM317.4 76.7h0.78v0.78h-0.78zM318.3 77.0h0.78v0.78h-0.78zM318.8 76.8h0.78v0.78h-0.78zM319.6 77.1h0.78v0.78h-0.78zM320.1 76.9h0.78v0.78h-0.78zM321.0 77.1h0.78v0.78h-0.78zM323.2 77.0h0.78v0.78h-0.78zM298.0 77.4h0.78v0.78h-0.78zM298.5 77.7h0.78v0.78h-0.78zM299.6 77.3h0.78v0.78h-0.78zM300.2 77.7h0.78v0.78h-0.78zM301.1 77.6h0.78v0.78h-0.78zM301.5 77.8h0.78v0.78h-0.78zM302.6 77.5h0.78v0.78h-0.78zM303.3 77.4h0.78v0.78h-0.78zM304.0 77.9h0.78v0.78h-0.78zM304.6 77.5h0.78v0.78h-0.78zM305.4 77.7h0.78v0.78h-0.78zM305.9 77.6h0.78v0.78h-0.78zM306.5 77.5h0.78v0.78h-0.78zM307.5 77.3h0.78v0.78h-0.78zM308.3 77.8h0.78v0.78h-0.78zM308.9 77.7h0.78v0.78h-0.78zM309.4 77.8h0.78v0.78h-0.78zM310.2 77.4h0.78v0.78h-0.78zM311.2 77.8h0.78v0.78h-0.78zM311.8 77.4h0.78v0.78h-0.78zM312.6 77.6h0.78v0.78h-0.78zM313.0 77.6h0.78v0.78h-0.78zM313.6 77.4h0.78v0.78h-0.78zM314.5 77.9h0.78v0.78h-0.78zM315.2 77.8h0.78v0.78h-0.78zM316.3 77.7h0.78v0.78h-0.78zM316.6 77.7h0.78v0.78h-0.78zM317.2 77.4h0.78v0.78h-0.78zM319.0 77.6h0.78v0.78h-0.78zM319.8 77.6h0.78v0.78h-0.78zM320.3 77.8h0.78v0.78h-0.78zM321.2 77.4h0.78v0.78h-0.78zM321.6 77.8h0.78v0.78h-0.78zM298.2 78.4h0.78v0.78h-0.78zM298.6 78.0h0.78v0.78h-0.78zM299.3 78.5h0.78v0.78h-0.78zM300.3 78.6h0.78v0.78h-0.78zM300.8 78.1h0.78v0.78h-0.78zM301.4 78.3h0.78v0.78h-0.78zM302.3 78.5h0.78v0.78h-0.78zM303.1 78.4h0.78v0.78h-0.78zM303.7 78.0h0.78v0.78h-0.78zM304.6 78.5h0.78v0.78h-0.78zM305.3 78.4h0.78v0.78h-0.78zM305.7 78.1h0.78v0.78h-0.78zM306.7 78.5h0.78v0.78h-0.78zM307.4 78.2h0.78v0.78h-0.78zM308.2 78.4h0.78v0.78h-0.78zM309.0 78.5h0.78v0.78h-0.78zM309.8 78.4h0.78v0.78h-0.78zM310.6 78.6h0.78v0.78h-0.78zM311.0 78.4h0.78v0.78h-0.78zM311.8 78.4h0.78v0.78h-0.78zM312.2 78.2h0.78v0.78h-0.78zM313.1 78.1h0.78v0.78h-0.78zM313.9 78.3h0.78v0.78h-0.78zM315.1 78.3h0.78v0.78h-0.78zM316.0 78.4h0.78v0.78h-0.78zM316.8 78.1h0.78v0.78h-0.78zM317.4 78.2h0.78v0.78h-0.78zM318.0 78.6h0.78v0.78h-0.78zM318.9 78.4h0.78v0.78h-0.78zM319.9 78.0h0.78v0.78h-0.78zM320.7 78.6h0.78v0.78h-0.78zM321.1 78.2h0.78v0.78h-0.78zM321.8 78.4h0.78v0.78h-0.78zM322.6 78.2h0.78v0.78h-0.78zM297.1 79.3h0.78v0.78h-0.78zM298.3 79.3h0.78v0.78h-0.78zM298.9 79.1h0.78v0.78h-0.78zM299.4 79.1h0.78v0.78h-0.78zM300.4 79.3h0.78v0.78h-0.78zM300.7 78.8h0.78v0.78h-0.78zM301.8 78.9h0.78v0.78h-0.78zM302.5 79.2h0.78v0.78h-0.78zM303.3 78.8h0.78v0.78h-0.78zM303.6 79.0h0.78v0.78h-0.78zM304.6 79.0h0.78v0.78h-0.78zM305.4 78.9h0.78v0.78h-0.78zM305.8 78.8h0.78v0.78h-0.78zM306.9 78.8h0.78v0.78h-0.78zM307.5 78.9h0.78v0.78h-0.78zM307.9 78.9h0.78v0.78h-0.78zM308.7 79.3h0.78v0.78h-0.78zM309.7 79.0h0.78v0.78h-0.78zM310.3 79.0h0.78v0.78h-0.78zM311.1 79.3h0.78v0.78h-0.78zM312.1 79.2h0.78v0.78h-0.78zM312.5 78.9h0.78v0.78h-0.78zM313.4 78.9h0.78v0.78h-0.78zM313.8 79.1h0.78v0.78h-0.78zM314.5 79.2h0.78v0.78h-0.78zM315.2 78.9h0.78v0.78h-0.78zM316.0 79.1h0.78v0.78h-0.78zM317.1 79.1h0.78v0.78h-0.78zM317.4 79.2h0.78v0.78h-0.78zM318.5 79.0h0.78v0.78h-0.78zM319.2 79.3h0.78v0.78h-0.78zM319.4 79.0h0.78v0.78h-0.78zM320.4 78.8h0.78v0.78h-0.78zM321.4 79.1h0.78v0.78h-0.78zM322.1 79.1h0.78v0.78h-0.78zM322.4 79.1h0.78v0.78h-0.78zM323.1 78.8h0.78v0.78h-0.78zM297.4 79.6h0.78v0.78h-0.78zM298.1 80.0h0.78v0.78h-0.78zM299.0 79.8h0.78v0.78h-0.78zM299.7 80.0h0.78v0.78h-0.78zM300.5 79.8h0.78v0.78h-0.78zM301.2 79.8h0.78v0.78h-0.78zM301.5 79.9h0.78v0.78h-0.78zM302.5 79.7h0.78v0.78h-0.78zM303.4 79.5h0.78v0.78h-0.78zM304.0 79.9h0.78v0.78h-0.78zM304.3 79.8h0.78v0.78h-0.78zM305.0 79.8h0.78v0.78h-0.78zM306.1 79.8h0.78v0.78h-0.78zM306.5 79.7h0.78v0.78h-0.78zM307.7 79.6h0.78v0.78h-0.78zM308.2 80.0h0.78v0.78h-0.78zM308.9 80.0h0.78v0.78h-0.78zM309.3 79.5h0.78v0.78h-0.78zM310.2 79.8h0.78v0.78h-0.78zM310.9 79.8h0.78v0.78h-0.78zM311.9 79.8h0.78v0.78h-0.78zM312.5 79.5h0.78v0.78h-0.78zM313.5 79.7h0.78v0.78h-0.78zM314.2 79.6h0.78v0.78h-0.78zM314.7 79.5h0.78v0.78h-0.78zM315.4 79.7h0.78v0.78h-0.78zM316.3 79.7h0.78v0.78h-0.78zM316.7 79.8h0.78v0.78h-0.78zM317.3 79.5h0.78v0.78h-0.78zM318.1 79.9h0.78v0.78h-0.78zM319.2 79.6h0.78v0.78h-0.78zM319.7 79.6h0.78v0.78h-0.78zM320.2 80.0h0.78v0.78h-0.78zM321.1 80.0h0.78v0.78h-0.78zM322.1 79.8h0.78v0.78h-0.78zM297.6 80.2h0.78v0.78h-0.78zM297.9 80.2h0.78v0.78h-0.78zM299.0 80.6h0.78v0.78h-0.78zM299.7 80.6h0.78v0.78h-0.78zM300.5 80.4h0.78v0.78h-0.78zM300.9 80.5h0.78v0.78h-0.78zM301.6 80.6h0.78v0.78h-0.78zM302.2 80.7h0.78v0.78h-0.78zM303.0 80.4h0.78v0.78h-0.78zM303.8 80.4h0.78v0.78h-0.78zM304.9 80.8h0.78v0.78h-0.78zM305.0 80.4h0.78v0.78h-0.78zM305.8 80.3h0.78v0.78h-0.78zM306.6 80.3h0.78v0.78h-0.78zM307.4 80.8h0.78v0.78h-0.78zM308.0 80.4h0.78v0.78h-0.78zM308.6 80.6h0.78v0.78h-0.78zM309.7 80.2h0.78v0.78h-0.78zM310.2 80.6h0.78v0.78h-0.78zM310.8 80.6h0.78v0.78h-0.78zM311.5 80.6h0.78v0.78h-0.78zM312.7 80.4h0.78v0.78h-0.78zM313.3 80.4h0.78v0.78h-0.78zM314.0 80.5h0.78v0.78h-0.78zM314.7 80.7h0.78v0.78h-0.78zM315.5 80.8h0.78v0.78h-0.78zM316.2 80.3h0.78v0.78h-0.78zM316.8 80.5h0.78v0.78h-0.78zM317.4 80.6h0.78v0.78h-0.78zM318.2 80.4h0.78v0.78h-0.78zM319.0 80.4h0.78v0.78h-0.78zM319.9 80.5h0.78v0.78h-0.78zM320.3 80.6h0.78v0.78h-0.78zM321.0 80.6h0.78v0.78h-0.78zM321.6 80.6h0.78v0.78h-0.78zM322.7 80.4h0.78v0.78h-0.78zM323.2 80.8h0.78v0.78h-0.78zM296.7 81.1h0.78v0.78h-0.78zM297.5 81.0h0.78v0.78h-0.78zM298.5 81.0h0.78v0.78h-0.78zM299.6 81.3h0.78v0.78h-0.78zM300.0 81.4h0.78v0.78h-0.78zM300.9 80.9h0.78v0.78h-0.78zM301.4 81.0h0.78v0.78h-0.78zM302.2 81.4h0.78v0.78h-0.78zM303.1 81.1h0.78v0.78h-0.78zM304.1 81.2h0.78v0.78h-0.78zM304.5 81.4h0.78v0.78h-0.78zM305.4 81.2h0.78v0.78h-0.78zM305.9 81.0h0.78v0.78h-0.78zM306.9 81.1h0.78v0.78h-0.78zM307.4 81.4h0.78v0.78h-0.78zM308.3 80.9h0.78v0.78h-0.78zM308.9 80.9h0.78v0.78h-0.78zM309.3 80.9h0.78v0.78h-0.78zM310.3 80.9h0.78v0.78h-0.78zM310.7 81.2h0.78v0.78h-0.78zM311.5 81.0h0.78v0.78h-0.78zM312.5 81.2h0.78v0.78h-0.78zM313.4 81.2h0.78v0.78h-0.78zM313.7 81.1h0.78v0.78h-0.78zM314.6 80.9h0.78v0.78h-0.78zM315.6 81.4h0.78v0.78h-0.78zM316.7 81.3h0.78v0.78h-0.78zM317.4 81.4h0.78v0.78h-0.78zM318.5 80.9h0.78v0.78h-0.78zM318.7 81.4h0.78v0.78h-0.78zM319.6 81.4h0.78v0.78h-0.78zM320.4 81.3h0.78v0.78h-0.78zM321.0 81.5h0.78v0.78h-0.78zM321.6 81.3h0.78v0.78h-0.78zM322.3 81.2h0.78v0.78h-0.78zM324.7 81.0h0.78v0.78h-0.78zM298.6 81.7h0.78v0.78h-0.78zM299.7 81.8h0.78v0.78h-0.78zM300.2 82.0h0.78v0.78h-0.78zM301.2 82.1h0.78v0.78h-0.78zM301.7 81.9h0.78v0.78h-0.78zM302.2 82.0h0.78v0.78h-0.78zM302.9 82.0h0.78v0.78h-0.78zM303.9 81.6h0.78v0.78h-0.78zM304.5 82.0h0.78v0.78h-0.78zM305.4 82.1h0.78v0.78h-0.78zM306.0 82.0h0.78v0.78h-0.78zM306.5 82.0h0.78v0.78h-0.78zM307.6 82.0h0.78v0.78h-0.78zM308.3 82.2h0.78v0.78h-0.78zM309.0 81.8h0.78v0.78h-0.78zM310.6 81.7h0.78v0.78h-0.78zM311.0 81.8h0.78v0.78h-0.78zM312.0 81.9h0.78v0.78h-0.78zM312.7 82.2h0.78v0.78h-0.78zM313.1 81.9h0.78v0.78h-0.78zM313.6 82.2h0.78v0.78h-0.78zM314.8 81.9h0.78v0.78h-0.78zM315.3 81.8h0.78v0.78h-0.78zM316.3 82.1h0.78v0.78h-0.78zM316.7 81.7h0.78v0.78h-0.78zM317.6 81.8h0.78v0.78h-0.78zM318.1 81.7h0.78v0.78h-0.78zM319.0 81.8h0.78v0.78h-0.78zM319.5 81.9h0.78v0.78h-0.78zM320.3 81.7h0.78v0.78h-0.78zM321.2 82.2h0.78v0.78h-0.78zM322.0 81.8h0.78v0.78h-0.78zM297.2 82.7h0.78v0.78h-0.78zM297.8 82.5h0.78v0.78h-0.78zM299.0 82.5h0.78v0.78h-0.78zM299.6 82.7h0.78v0.78h-0.78zM300.0 82.5h0.78v0.78h-0.78zM300.9 82.6h0.78v0.78h-0.78zM301.9 82.8h0.78v0.78h-0.78zM302.6 82.6h0.78v0.78h-0.78zM303.4 82.6h0.78v0.78h-0.78zM304.0 82.9h0.78v0.78h-0.78zM304.3 82.4h0.78v0.78h-0.78zM305.2 82.4h0.78v0.78h-0.78zM306.0 82.6h0.78v0.78h-0.78zM307.0 82.8h0.78v0.78h-0.78zM307.4 82.4h0.78v0.78h-0.78zM308.1 82.8h0.78v0.78h-0.78zM309.1 82.5h0.78v0.78h-0.78zM309.5 82.9h0.78v0.78h-0.78zM310.2 82.4h0.78v0.78h-0.78zM311.2 82.6h0.78v0.78h-0.78zM311.5 82.7h0.78v0.78h-0.78zM312.5 82.4h0.78v0.78h-0.78zM313.0 82.6h0.78v0.78h-0.78zM314.2 82.9h0.78v0.78h-0.78zM314.4 82.9h0.78v0.78h-0.78zM315.5 82.8h0.78v0.78h-0.78zM316.8 82.4h0.78v0.78h-0.78zM317.6 82.8h0.78v0.78h-0.78zM318.4 82.7h0.78v0.78h-0.78zM319.1 82.5h0.78v0.78h-0.78zM319.7 82.4h0.78v0.78h-0.78zM320.5 82.8h0.78v0.78h-0.78zM320.9 82.5h0.78v0.78h-0.78zM298.0 83.2h0.78v0.78h-0.78zM299.0 83.4h0.78v0.78h-0.78zM299.3 83.3h0.78v0.78h-0.78zM300.2 83.6h0.78v0.78h-0.78zM300.8 83.3h0.78v0.78h-0.78zM301.8 83.1h0.78v0.78h-0.78zM302.4 83.6h0.78v0.78h-0.78zM302.9 83.2h0.78v0.78h-0.78zM303.7 83.4h0.78v0.78h-0.78zM304.8 83.6h0.78v0.78h-0.78zM305.0 83.3h0.78v0.78h-0.78zM306.3 83.6h0.78v0.78h-0.78zM306.9 83.6h0.78v0.78h-0.78zM307.3 83.4h0.78v0.78h-0.78zM308.3 83.2h0.78v0.78h-0.78zM309.1 83.1h0.78v0.78h-0.78zM309.8 83.3h0.78v0.78h-0.78zM310.3 83.4h0.78v0.78h-0.78zM311.0 83.3h0.78v0.78h-0.78zM311.7 83.3h0.78v0.78h-0.78zM312.5 83.1h0.78v0.78h-0.78zM313.3 83.4h0.78v0.78h-0.78zM313.9 83.5h0.78v0.78h-0.78zM314.9 83.3h0.78v0.78h-0.78zM315.3 83.1h0.78v0.78h-0.78zM316.2 83.1h0.78v0.78h-0.78zM317.0 83.3h0.78v0.78h-0.78zM317.7 83.5h0.78v0.78h-0.78zM318.4 83.5h0.78v0.78h-0.78zM318.8 83.2h0.78v0.78h-0.78zM319.7 83.5h0.78v0.78h-0.78zM320.6 83.4h0.78v0.78h-0.78zM298.3 84.2h0.78v0.78h-0.78zM298.9 84.3h0.78v0.78h-0.78zM299.3 84.1h0.78v0.78h-0.78zM299.9 84.3h0.78v0.78h-0.78zM300.7 83.9h0.78v0.78h-0.78zM302.4 83.8h0.78v0.78h-0.78zM302.9 83.9h0.78v0.78h-0.78zM303.6 84.0h0.78v0.78h-0.78zM304.6 84.1h0.78v0.78h-0.78zM305.3 83.8h0.78v0.78h-0.78zM306.0 83.9h0.78v0.78h-0.78zM306.5 83.8h0.78v0.78h-0.78zM307.5 84.1h0.78v0.78h-0.78zM308.2 84.1h0.78v0.78h-0.78zM308.6 83.9h0.78v0.78h-0.78zM309.6 84.2h0.78v0.78h-0.78zM310.1 83.9h0.78v0.78h-0.78zM311.1 84.2h0.78v0.78h-0.78zM311.9 83.9h0.78v0.78h-0.78zM312.8 84.4h0.78v0.78h-0.78zM313.1 83.9h0.78v0.78h-0.78zM313.9 84.3h0.78v0.78h-0.78zM314.8 84.0h0.78v0.78h-0.78zM315.4 84.1h0.78v0.78h-0.78zM316.0 84.0h0.78v0.78h-0.78zM316.6 84.0h0.78v0.78h-0.78zM317.6 83.9h0.78v0.78h-0.78zM318.5 83.9h0.78v0.78h-0.78zM319.0 84.0h0.78v0.78h-0.78zM319.5 84.1h0.78v0.78h-0.78zM320.6 84.3h0.78v0.78h-0.78zM321.6 84.2h0.78v0.78h-0.78zM297.6 84.9h0.78v0.78h-0.78zM298.0 84.9h0.78v0.78h-0.78zM298.9 84.8h0.78v0.78h-0.78zM299.7 84.8h0.78v0.78h-0.78zM300.2 84.6h0.78v0.78h-0.78zM300.7 84.8h0.78v0.78h-0.78zM301.8 84.9h0.78v0.78h-0.78zM302.2 84.5h0.78v0.78h-0.78zM303.1 84.6h0.78v0.78h-0.78zM303.8 84.7h0.78v0.78h-0.78zM304.8 84.6h0.78v0.78h-0.78zM305.2 84.9h0.78v0.78h-0.78zM305.9 84.8h0.78v0.78h-0.78zM306.4 85.0h0.78v0.78h-0.78zM307.4 84.8h0.78v0.78h-0.78zM308.4 84.8h0.78v0.78h-0.78zM308.8 84.6h0.78v0.78h-0.78zM309.7 85.0h0.78v0.78h-0.78zM310.5 84.8h0.78v0.78h-0.78zM310.9 84.5h0.78v0.78h-0.78zM312.0 84.7h0.78v0.78h-0.78zM312.4 84.7h0.78v0.78h-0.78zM312.9 84.9h0.78v0.78h-0.78zM314.7 84.7h0.78v0.78h-0.78zM315.3 84.8h0.78v0.78h-0.78zM316.1 84.9h0.78v0.78h-0.78zM316.9 85.1h0.78v0.78h-0.78zM317.3 84.9h0.78v0.78h-0.78zM318.5 84.8h0.78v0.78h-0.78zM318.7 84.7h0.78v0.78h-0.78zM319.9 84.8h0.78v0.78h-0.78zM320.2 84.8h0.78v0.78h-0.78zM320.9 85.1h0.78v0.78h-0.78zM297.2 85.4h0.78v0.78h-0.78zM298.6 85.4h0.78v0.78h-0.78zM299.7 85.6h0.78v0.78h-0.78zM300.3 85.6h0.78v0.78h-0.78zM300.9 85.4h0.78v0.78h-0.78zM301.4 85.4h0.78v0.78h-0.78zM302.4 85.8h0.78v0.78h-0.78zM302.8 85.5h0.78v0.78h-0.78zM303.8 85.6h0.78v0.78h-0.78zM304.8 85.5h0.78v0.78h-0.78zM305.1 85.2h0.78v0.78h-0.78zM306.3 85.6h0.78v0.78h-0.78zM306.5 85.7h0.78v0.78h-0.78zM307.5 85.4h0.78v0.78h-0.78zM308.2 85.5h0.78v0.78h-0.78zM308.7 85.6h0.78v0.78h-0.78zM309.3 85.3h0.78v0.78h-0.78zM310.4 85.4h0.78v0.78h-0.78zM311.3 85.6h0.78v0.78h-0.78zM311.8 85.3h0.78v0.78h-0.78zM312.7 85.7h0.78v0.78h-0.78zM313.0 85.6h0.78v0.78h-0.78zM313.8 85.4h0.78v0.78h-0.78zM314.5 85.8h0.78v0.78h-0.78zM315.2 85.5h0.78v0.78h-0.78zM316.2 85.4h0.78v0.78h-0.78zM316.8 85.6h0.78v0.78h-0.78zM317.3 85.4h0.78v0.78h-0.78zM318.1 85.4h0.78v0.78h-0.78zM318.8 85.7h0.78v0.78h-0.78zM319.7 85.5h0.78v0.78h-0.78zM297.3 86.5h0.78v0.78h-0.78zM298.1 86.5h0.78v0.78h-0.78zM298.7 86.1h0.78v0.78h-0.78zM299.4 86.5h0.78v0.78h-0.78zM300.5 86.1h0.78v0.78h-0.78zM301.0 86.0h0.78v0.78h-0.78zM301.8 86.0h0.78v0.78h-0.78zM302.2 86.5h0.78v0.78h-0.78zM303.2 86.4h0.78v0.78h-0.78zM303.7 86.1h0.78v0.78h-0.78zM304.3 86.3h0.78v0.78h-0.78zM305.4 86.0h0.78v0.78h-0.78zM305.9 86.0h0.78v0.78h-0.78zM306.9 86.3h0.78v0.78h-0.78zM307.4 86.2h0.78v0.78h-0.78zM308.3 86.3h0.78v0.78h-0.78zM309.0 86.5h0.78v0.78h-0.78zM309.4 86.0h0.78v0.78h-0.78zM310.2 86.4h0.78v0.78h-0.78zM311.0 86.1h0.78v0.78h-0.78zM312.1 86.0h0.78v0.78h-0.78zM312.5 86.5h0.78v0.78h-0.78zM313.3 86.2h0.78v0.78h-0.78zM313.9 86.2h0.78v0.78h-0.78zM314.7 86.0h0.78v0.78h-0.78zM315.4 86.4h0.78v0.78h-0.78zM316.3 86.4h0.78v0.78h-0.78zM316.5 86.1h0.78v0.78h-0.78zM317.3 86.1h0.78v0.78h-0.78zM318.1 86.3h0.78v0.78h-0.78zM319.0 86.2h0.78v0.78h-0.78zM297.6 87.1h0.78v0.78h-0.78zM297.9 86.7h0.78v0.78h-0.78zM299.0 86.8h0.78v0.78h-0.78zM300.1 87.0h0.78v0.78h-0.78zM301.1 87.0h0.78v0.78h-0.78zM301.5 87.0h0.78v0.78h-0.78zM302.5 86.7h0.78v0.78h-0.78zM303.4 86.9h0.78v0.78h-0.78zM303.7 87.2h0.78v0.78h-0.78zM304.7 87.0h0.78v0.78h-0.78zM305.3 87.0h0.78v0.78h-0.78zM306.0 86.7h0.78v0.78h-0.78zM306.8 86.7h0.78v0.78h-0.78zM307.3 87.1h0.78v0.78h-0.78zM308.0 87.1h0.78v0.78h-0.78zM308.6 87.2h0.78v0.78h-0.78zM309.3 86.8h0.78v0.78h-0.78zM310.4 87.1h0.78v0.78h-0.78zM311.0 87.1h0.78v0.78h-0.78zM311.5 87.1h0.78v0.78h-0.78zM312.7 87.0h0.78v0.78h-0.78zM313.4 86.9h0.78v0.78h-0.78zM313.9 86.8h0.78v0.78h-0.78zM314.4 87.1h0.78v0.78h-0.78zM315.3 86.9h0.78v0.78h-0.78zM316.0 87.2h0.78v0.78h-0.78zM316.8 87.0h0.78v0.78h-0.78zM318.1 87.2h0.78v0.78h-0.78zM318.8 86.7h0.78v0.78h-0.78zM298.1 87.4h0.78v0.78h-0.78zM298.7 87.9h0.78v0.78h-0.78zM299.5 87.7h0.78v0.78h-0.78zM300.0 87.8h0.78v0.78h-0.78zM300.9 87.8h0.78v0.78h-0.78zM301.4 87.7h0.78v0.78h-0.78zM302.4 87.6h0.78v0.78h-0.78zM303.7 88.0h0.78v0.78h-0.78zM304.9 87.8h0.78v0.78h-0.78zM305.2 87.8h0.78v0.78h-0.78zM306.0 87.9h0.78v0.78h-0.78zM306.8 87.7h0.78v0.78h-0.78zM307.7 87.7h0.78v0.78h-0.78zM308.3 87.9h0.78v0.78h-0.78zM308.7 87.5h0.78v0.78h-0.78zM309.4 87.7h0.78v0.78h-0.78zM310.3 87.8h0.78v0.78h-0.78zM311.3 87.8h0.78v0.78h-0.78zM311.5 87.7h0.78v0.78h-0.78zM312.4 87.5h0.78v0.78h-0.78zM312.9 87.6h0.78v0.78h-0.78zM314.2 87.9h0.78v0.78h-0.78zM314.7 87.5h0.78v0.78h-0.78zM315.3 87.9h0.78v0.78h-0.78zM316.3 87.7h0.78v0.78h-0.78zM317.3 87.8h0.78v0.78h-0.78zM298.2 88.4h0.78v0.78h-0.78zM298.8 88.3h0.78v0.78h-0.78zM299.8 88.5h0.78v0.78h-0.78zM300.5 88.7h0.78v0.78h-0.78zM301.1 88.4h0.78v0.78h-0.78zM301.6 88.2h0.78v0.78h-0.78zM302.4 88.4h0.78v0.78h-0.78zM303.0 88.4h0.78v0.78h-0.78zM303.7 88.1h0.78v0.78h-0.78zM304.7 88.3h0.78v0.78h-0.78zM305.5 88.6h0.78v0.78h-0.78zM306.2 88.3h0.78v0.78h-0.78zM306.8 88.6h0.78v0.78h-0.78zM307.1 88.6h0.78v0.78h-0.78zM308.8 88.5h0.78v0.78h-0.78zM309.6 88.6h0.78v0.78h-0.78zM310.2 88.5h0.78v0.78h-0.78zM310.8 88.3h0.78v0.78h-0.78zM312.0 88.5h0.78v0.78h-0.78zM312.3 88.2h0.78v0.78h-0.78zM313.3 88.2h0.78v0.78h-0.78zM313.9 88.3h0.78v0.78h-0.78zM314.7 88.4h0.78v0.78h-0.78zM315.1 88.2h0.78v0.78h-0.78zM320.3 88.3h0.78v0.78h-0.78zM298.8 89.2h0.78v0.78h-0.78zM299.6 89.3h0.78v0.78h-0.78zM300.3 88.9h0.78v0.78h-0.78zM300.9 88.9h0.78v0.78h-0.78zM301.8 88.9h0.78v0.78h-0.78zM302.4 89.1h0.78v0.78h-0.78zM303.3 89.4h0.78v0.78h-0.78zM304.0 89.0h0.78v0.78h-0.78zM304.7 88.9h0.78v0.78h-0.78zM305.3 89.4h0.78v0.78h-0.78zM306.1 89.3h0.78v0.78h-0.78zM307.0 89.3h0.78v0.78h-0.78zM307.2 89.1h0.78v0.78h-0.78zM308.2 89.4h0.78v0.78h-0.78zM309.2 89.1h0.78v0.78h-0.78zM309.7 88.9h0.78v0.78h-0.78zM310.2 89.0h0.78v0.78h-0.78zM311.1 89.2h0.78v0.78h-0.78zM311.6 89.0h0.78v0.78h-0.78zM312.3 89.2h0.78v0.78h-0.78zM313.5 89.1h0.78v0.78h-0.78zM314.0 89.2h0.78v0.78h-0.78zM314.8 89.3h0.78v0.78h-0.78zM317.4 88.9h0.78v0.78h-0.78zM299.0 90.1h0.78v0.78h-0.78zM299.8 89.9h0.78v0.78h-0.78zM300.0 89.8h0.78v0.78h-0.78zM300.8 90.0h0.78v0.78h-0.78zM301.9 89.5h0.78v0.78h-0.78zM302.4 89.7h0.78v0.78h-0.78zM303.0 89.7h0.78v0.78h-0.78zM304.0 90.0h0.78v0.78h-0.78zM304.6 89.9h0.78v0.78h-0.78zM305.1 89.7h0.78v0.78h-0.78zM306.3 89.9h0.78v0.78h-0.78zM306.9 89.7h0.78v0.78h-0.78zM307.4 90.1h0.78v0.78h-0.78zM308.1 89.8h0.78v0.78h-0.78zM309.0 90.0h0.78v0.78h-0.78zM309.8 89.6h0.78v0.78h-0.78zM310.0 89.7h0.78v0.78h-0.78zM311.1 89.9h0.78v0.78h-0.78zM311.7 90.1h0.78v0.78h-0.78zM313.5 89.7h0.78v0.78h-0.78zM314.0 89.8h0.78v0.78h-0.78zM315.5 89.9h0.78v0.78h-0.78zM297.2 90.4h0.78v0.78h-0.78zM299.0 90.8h0.78v0.78h-0.78zM299.7 90.4h0.78v0.78h-0.78zM300.1 90.4h0.78v0.78h-0.78zM301.2 90.5h0.78v0.78h-0.78zM301.7 90.7h0.78v0.78h-0.78zM302.6 90.4h0.78v0.78h-0.78zM303.3 90.7h0.78v0.78h-0.78zM304.3 90.8h0.78v0.78h-0.78zM305.3 90.4h0.78v0.78h-0.78zM306.5 90.3h0.78v0.78h-0.78zM308.2 90.5h0.78v0.78h-0.78zM309.1 90.8h0.78v0.78h-0.78zM311.8 90.6h0.78v0.78h-0.78zM312.3 90.5h0.78v0.78h-0.78zM313.1 90.7h0.78v0.78h-0.78zM314.9 90.7h0.78v0.78h-0.78zM319.4 90.3h0.78v0.78h-0.78zM298.6 91.5h0.78v0.78h-0.78zM299.3 91.5h0.78v0.78h-0.78zM300.4 91.0h0.78v0.78h-0.78zM301.1 91.2h0.78v0.78h-0.78zM301.8 91.3h0.78v0.78h-0.78zM303.3 91.3h0.78v0.78h-0.78zM303.6 91.3h0.78v0.78h-0.78zM304.8 91.5h0.78v0.78h-0.78zM306.7 91.5h0.78v0.78h-0.78zM307.6 91.3h0.78v0.78h-0.78zM309.8 91.5h0.78v0.78h-0.78zM312.4 91.2h0.78v0.78h-0.78zM298.3 91.8h0.78v0.78h-0.78zM299.3 92.2h0.78v0.78h-0.78zM300.4 92.1h0.78v0.78h-0.78zM301.0 92.3h0.78v0.78h-0.78zM301.6 91.9h0.78v0.78h-0.78zM305.2 92.2h0.78v0.78h-0.78zM307.6 91.9h0.78v0.78h-0.78zM310.1 92.1h0.78v0.78h-0.78zM312.5 91.8h0.78v0.78h-0.78zM301.0 92.6h0.78v0.78h-0.78zM301.8 92.7h0.78v0.78h-0.78zM302.3 92.6h0.78v0.78h-0.78zM303.1 92.9h0.78v0.78h-0.78zM303.8 92.5h0.78v0.78h-0.78zM305.9 92.8h0.78v0.78h-0.78zM306.7 93.0h0.78v0.78h-0.78zM312.2 92.4h0.78v0.78h-0.78zM313.0 92.9h0.78v0.78h-0.78zM315.1 92.9h0.78v0.78h-0.78zM298.4 93.7h0.78v0.78h-0.78zM302.0 93.4h0.78v0.78h-0.78zM305.5 93.3h0.78v0.78h-0.78zM305.9 93.6h0.78v0.78h-0.78zM306.8 93.6h0.78v0.78h-0.78zM308.8 93.2h0.78v0.78h-0.78zM309.5 93.3h0.78v0.78h-0.78zM300.3 94.4h0.78v0.78h-0.78zM301.1 93.9h0.78v0.78h-0.78zM303.0 94.2h0.78v0.78h-0.78zM304.6 94.3h0.78v0.78h-0.78zM305.9 94.1h0.78v0.78h-0.78zM307.9 94.2h0.78v0.78h-0.78zM314.9 93.9h0.78v0.78h-0.78zM299.2 94.8h0.78v0.78h-0.78zM302.4 94.6h0.78v0.78h-0.78zM303.2 94.7h0.78v0.78h-0.78zM307.0 94.7h0.78v0.78h-0.78zM310.8 94.7h0.78v0.78h-0.78zM312.4 95.1h0.78v0.78h-0.78zM313.5 95.0h0.78v0.78h-0.78zM299.3 95.6h0.78v0.78h-0.78zM300.1 95.5h0.78v0.78h-0.78zM301.5 95.6h0.78v0.78h-0.78zM302.9 95.7h0.78v0.78h-0.78zM304.3 95.8h0.78v0.78h-0.78zM305.7 95.5h0.78v0.78h-0.78zM307.6 95.8h0.78v0.78h-0.78zM308.9 95.8h0.78v0.78h-0.78zM309.4 95.8h0.78v0.78h-0.78zM311.1 95.4h0.78v0.78h-0.78zM313.2 95.5h0.78v0.78h-0.78zM315.2 95.5h0.78v0.78h-0.78zM298.6 96.6h0.78v0.78h-0.78zM299.4 96.4h0.78v0.78h-0.78zM301.2 96.3h0.78v0.78h-0.78zM303.0 96.3h0.78v0.78h-0.78zM303.7 96.4h0.78v0.78h-0.78zM305.0 96.1h0.78v0.78h-0.78zM305.8 96.5h0.78v0.78h-0.78zM306.9 96.3h0.78v0.78h-0.78zM307.2 96.1h0.78v0.78h-0.78zM309.6 96.3h0.78v0.78h-0.78zM311.0 96.2h0.78v0.78h-0.78zM314.1 96.5h0.78v0.78h-0.78zM315.9 96.2h0.78v0.78h-0.78zM298.2 96.8h0.78v0.78h-0.78zM300.3 97.3h0.78v0.78h-0.78zM304.7 97.0h0.78v0.78h-0.78zM305.4 97.0h0.78v0.78h-0.78zM306.0 96.9h0.78v0.78h-0.78zM301.1 97.9h0.78v0.78h-0.78zM302.3 97.6h0.78v0.78h-0.78zM305.9 98.0h0.78v0.78h-0.78zM306.9 98.0h0.78v0.78h-0.78zM308.1 98.0h0.78v0.78h-0.78zM310.4 98.0h0.78v0.78h-0.78zM311.2 97.6h0.78v0.78h-0.78zM312.2 97.8h0.78v0.78h-0.78zM315.9 98.0h0.78v0.78h-0.78zM299.9 98.3h0.78v0.78h-0.78zM303.2 98.6h0.78v0.78h-0.78zM304.0 98.6h0.78v0.78h-0.78zM305.0 98.2h0.78v0.78h-0.78zM308.3 98.8h0.78v0.78h-0.78zM310.9 98.6h0.78v0.78h-0.78zM313.0 98.5h0.78v0.78h-0.78zM313.8 98.5h0.78v0.78h-0.78z" fill="#111"/><path d="M225.5 2.4V100H330.2" fill="none" stroke="#333" stroke-width="0.9"/><path d="M225.5 100.0h-2.2M225.5 100v2.2M225.5 92.7h-1.2M233.4 100v1.2M225.5 88.4h-1.2M238.0 100v1.2M225.5 85.3h-1.2M241.3 100v1.2M225.5 82.9h-1.2M243.8 100v1.2M225.5 81.0h-1.2M245.9 100v1.2M225.5 79.4h-1.2M247.6 100v1.2M225.5 78.0h-1.2M249.1 100v1.2M225.5 76.7h-1.2M250.5 100v1.2M225.5 75.6h-2.2M251.7 100v2.2M225.5 68.3h-1.2M259.6 100v1.2M225.5 64.0h-1.2M264.2 100v1.2M225.5 60.9h-1.2M267.4 100v1.2M225.5 58.5h-1.2M270.0 100v1.2M225.5 56.6h-1.2M272.0 100v1.2M225.5 55.0h-1.2M273.8 100v1.2M225.5 53.6h-1.2M275.3 100v1.2M225.5 52.3h-1.2M276.7 100v1.2M225.5 51.2h-2.2M277.9 100v2.2M225.5 43.9h-1.2M285.7 100v1.2M225.5 39.6h-1.2M290.3 100v1.2M225.5 36.5h-1.2M293.6 100v1.2M225.5 34.1h-1.2M296.1 100v1.2M225.5 32.2h-1.2M298.2 100v1.2M225.5 30.6h-1.2M300.0 100v1.2M225.5 29.2h-1.2M301.5 100v1.2M225.5 27.9h-1.2M302.8 100v1.2M225.5 26.8h-2.2M304.0 100v2.2M225.5 19.5h-1.2M311.9 100v1.2M225.5 15.2h-1.2M316.5 100v1.2M225.5 12.1h-1.2M319.8 100v1.2M225.5 9.7h-1.2M322.3 100v1.2M225.5 7.8h-1.2M324.4 100v1.2M225.5 6.2h-1.2M326.1 100v1.2M225.5 4.8h-1.2M327.7 100v1.2M225.5 3.5h-1.2M329.0 100v1.2M225.5 2.4h-2.2M330.2 100v2.2" stroke="#333" stroke-width="0.6"/><text x="218.0" y="100.6" font-size="5.4" fill="#555" text-anchor="end">10</text><text x="218.3" y="97.0" font-size="3.9" fill="#555">0</text><text x="231.0" y="110.1" font-size="5.4" fill="#555" text-anchor="middle">10</text><text x="234.1" y="106.2" font-size="3.9" fill="#555">0</text><text x="218.0" y="78.0" font-size="5.4" fill="#555" text-anchor="end">10</text><text x="218.3" y="74.4" font-size="3.9" fill="#555">1</text><text x="251.7" y="110.1" font-size="5.4" fill="#555" text-anchor="middle">10</text><text x="254.8" y="106.2" font-size="3.9" fill="#555">1</text><text x="218.0" y="53.6" font-size="5.4" fill="#555" text-anchor="end">10</text><text x="218.3" y="50.0" font-size="3.9" fill="#555">2</text><text x="277.9" y="110.1" font-size="5.4" fill="#555" text-anchor="middle">10</text><text x="281.0" y="106.2" font-size="3.9" fill="#555">2</text><text x="218.0" y="29.2" font-size="5.4" fill="#555" text-anchor="end">10</text><text x="218.3" y="25.6" font-size="3.9" fill="#555">3</text><text x="304.0" y="110.1" font-size="5.4" fill="#555" text-anchor="middle">10</text><text x="307.1" y="106.2" font-size="3.9" fill="#555">3</text><text x="218.0" y="11.4" font-size="5.4" fill="#555" text-anchor="end">10</text><text x="218.3" y="7.8" font-size="3.9" fill="#555">4</text><text x="330.2" y="110.1" font-size="5.4" fill="#555" text-anchor="middle">10</text><text x="333.3" y="106.2" font-size="3.9" fill="#555">4</text><text x="261" y="21.7" font-size="5.3" fill="#222">IL10</text><text x="261" y="27.7" font-size="5.3" fill="#222">6.04%</text><text x="209.9" y="55.1" font-size="7.5" font-weight="bold" fill="#000" text-anchor="middle" textLength="13.9" lengthAdjust="spacingAndGlyphs" transform="rotate(-90 209.9 55.1)">IL10</text><text x="282" y="121.5" font-size="7.5" font-weight="bold" fill="#000" text-anchor="middle" textLength="18.5" lengthAdjust="spacingAndGlyphs">CD19</text><rect x="10.9" y="143.9" width="39.7" height="40.5" fill="none" stroke="#c8c8c8" stroke-width="0.8"/><path d="M10.9 143.9V184.4H50.6" fill="none" stroke="#aaa" stroke-width="0.7"/><path d="M10.9 184.4h-1.2" stroke="#aaa" stroke-width="0.5"/><text x="8.3" y="184.4" font-size="2.6" fill="#aaa" text-anchor="middle" transform="rotate(-60 8.3 184.4)">10</text><text x="11.9" y="187.9" font-size="2.6" fill="#aaa" text-anchor="middle" transform="rotate(-45 11.9 187.9)">10</text><path d="M10.9 174.3h-1.2" stroke="#aaa" stroke-width="0.5"/><text x="8.3" y="174.3" font-size="2.6" fill="#aaa" text-anchor="middle" transform="rotate(-60 8.3 174.3)">10</text><text x="21.8" y="187.9" font-size="2.6" fill="#aaa" text-anchor="middle" transform="rotate(-45 21.8 187.9)">10</text><path d="M10.9 164.2h-1.2" stroke="#aaa" stroke-width="0.5"/><text x="8.3" y="164.2" font-size="2.6" fill="#aaa" text-anchor="middle" transform="rotate(-60 8.3 164.2)">10</text><text x="31.8" y="187.9" font-size="2.6" fill="#aaa" text-anchor="middle" transform="rotate(-45 31.8 187.9)">10</text><path d="M10.9 154.0h-1.2" stroke="#aaa" stroke-width="0.5"/><text x="8.3" y="154.0" font-size="2.6" fill="#aaa" text-anchor="middle" transform="rotate(-60 8.3 154.0)">10</text><text x="41.7" y="187.9" font-size="2.6" fill="#aaa" text-anchor="middle" transform="rotate(-45 41.7 187.9)">10</text><path d="M10.9 143.9h-1.2" stroke="#aaa" stroke-width="0.5"/><text x="8.3" y="143.9" font-size="2.6" fill="#aaa" text-anchor="middle" transform="rotate(-60 8.3 143.9)">10</text><text x="51.6" y="187.9" font-size="2.6" fill="#aaa" text-anchor="middle" transform="rotate(-45 51.6 187.9)">10</text><rect x="32.2" y="148.2" width="12.6" height="36.2" fill="none" stroke="#c4c4c4" stroke-width="0.6"/><ellipse cx="38.3" cy="179" rx="4.2" ry="4.5" fill="#a0a0ff" filter="url(#blur1)" opacity="0.7"/><path d="M32.6 168H43.6C44.2 173 43 178 39.5 181C35.5 181.5 33 177 32.6 168Z" fill="#1818f0" filter="url(#blur04)"/><path d="M32.6 167.8h0.6v0.6h-0.6zM33.6 167.9h0.6v0.6h-0.6zM34.7 167.8h0.6v0.6h-0.6zM35.2 167.8h0.6v0.6h-0.6zM35.6 168.0h0.6v0.6h-0.6zM36.4 168.0h0.6v0.6h-0.6zM37.1 168.0h0.6v0.6h-0.6zM37.6 167.8h0.6v0.6h-0.6zM38.1 167.8h0.6v0.6h-0.6zM38.9 167.8h0.6v0.6h-0.6zM39.4 167.8h0.6v0.6h-0.6zM39.7 167.8h0.6v0.6h-0.6zM40.5 167.8h0.6v0.6h-0.6zM40.8 168.1h0.6v0.6h-0.6zM42.2 168.1h0.6v0.6h-0.6zM42.7 167.9h0.6v0.6h-0.6zM43.6 167.8h0.6v0.6h-0.6zM33.6 168.7h0.6v0.6h-0.6zM34.1 168.2h0.6v0.6h-0.6zM34.7 168.3h0.6v0.6h-0.6zM35.1 168.7h0.6v0.6h-0.6zM35.6 168.1h0.6v0.6h-0.6zM36.8 168.7h0.6v0.6h-0.6zM37.7 168.2h0.6v0.6h-0.6zM37.8 168.6h0.6v0.6h-0.6zM38.5 168.4h0.6v0.6h-0.6zM39.3 168.4h0.6v0.6h-0.6zM40.1 168.3h0.6v0.6h-0.6zM40.2 168.1h0.6v0.6h-0.6zM41.7 168.4h0.6v0.6h-0.6zM43.8 168.1h0.6v0.6h-0.6zM31.5 168.8h0.6v0.6h-0.6zM32.6 168.9h0.6v0.6h-0.6zM33.8 169.1h0.6v0.6h-0.6zM35.1 169.1h0.6v0.6h-0.6zM35.6 169.0h0.6v0.6h-0.6zM36.0 169.0h0.6v0.6h-0.6zM37.1 168.7h0.6v0.6h-0.6zM37.5 169.1h0.6v0.6h-0.6zM38.1 169.0h0.6v0.6h-0.6zM38.8 168.8h0.6v0.6h-0.6zM40.0 169.3h0.6v0.6h-0.6zM40.5 168.9h0.6v0.6h-0.6zM40.8 168.8h0.6v0.6h-0.6zM41.5 169.1h0.6v0.6h-0.6zM42.0 168.8h0.6v0.6h-0.6zM42.9 169.0h0.6v0.6h-0.6zM43.9 169.1h0.6v0.6h-0.6zM31.5 169.5h0.6v0.6h-0.6zM32.4 169.5h0.6v0.6h-0.6zM32.4 169.3h0.6v0.6h-0.6zM34.1 169.4h0.6v0.6h-0.6zM34.8 169.4h0.6v0.6h-0.6zM35.0 169.8h0.6v0.6h-0.6zM35.8 169.6h0.6v0.6h-0.6zM36.5 169.8h0.6v0.6h-0.6zM36.8 169.9h0.6v0.6h-0.6zM37.7 169.6h0.6v0.6h-0.6zM38.0 169.3h0.6v0.6h-0.6zM38.5 169.3h0.6v0.6h-0.6zM39.3 169.3h0.6v0.6h-0.6zM40.2 169.4h0.6v0.6h-0.6zM40.8 169.4h0.6v0.6h-0.6zM41.3 169.3h0.6v0.6h-0.6zM42.0 169.7h0.6v0.6h-0.6zM43.2 169.3h0.6v0.6h-0.6zM33.3 170.2h0.6v0.6h-0.6zM33.9 170.4h0.6v0.6h-0.6zM34.4 170.4h0.6v0.6h-0.6zM35.4 170.0h0.6v0.6h-0.6zM36.1 170.2h0.6v0.6h-0.6zM36.8 170.4h0.6v0.6h-0.6zM38.4 170.3h0.6v0.6h-0.6zM38.8 170.0h0.6v0.6h-0.6zM39.0 169.9h0.6v0.6h-0.6zM39.7 170.4h0.6v0.6h-0.6zM40.7 169.9h0.6v0.6h-0.6zM40.8 170.5h0.6v0.6h-0.6zM41.4 170.5h0.6v0.6h-0.6zM42.2 170.3h0.6v0.6h-0.6zM43.2 170.1h0.6v0.6h-0.6zM44.4 170.3h0.6v0.6h-0.6zM34.0 170.6h0.6v0.6h-0.6zM34.8 171.0h0.6v0.6h-0.6zM35.0 170.8h0.6v0.6h-0.6zM35.5 170.9h0.6v0.6h-0.6zM36.3 170.9h0.6v0.6h-0.6zM36.7 171.1h0.6v0.6h-0.6zM37.4 170.5h0.6v0.6h-0.6zM38.1 170.5h0.6v0.6h-0.6zM38.6 170.6h0.6v0.6h-0.6zM39.6 171.0h0.6v0.6h-0.6zM39.6 170.7h0.6v0.6h-0.6zM40.4 170.9h0.6v0.6h-0.6zM41.3 170.8h0.6v0.6h-0.6zM41.9 171.0h0.6v0.6h-0.6zM43.2 170.5h0.6v0.6h-0.6zM32.6 171.4h0.6v0.6h-0.6zM33.4 171.6h0.6v0.6h-0.6zM34.1 171.2h0.6v0.6h-0.6zM34.5 171.4h0.6v0.6h-0.6zM35.2 171.6h0.6v0.6h-0.6zM35.5 171.4h0.6v0.6h-0.6zM36.6 171.6h0.6v0.6h-0.6zM36.8 171.6h0.6v0.6h-0.6zM37.5 171.2h0.6v0.6h-0.6zM39.2 171.1h0.6v0.6h-0.6zM39.9 171.2h0.6v0.6h-0.6zM40.6 171.3h0.6v0.6h-0.6zM41.5 171.6h0.6v0.6h-0.6zM42.4 171.4h0.6v0.6h-0.6zM33.6 171.7h0.6v0.6h-0.6zM34.3 172.2h0.6v0.6h-0.6zM35.1 172.2h0.6v0.6h-0.6zM35.7 172.2h0.6v0.6h-0.6zM36.8 172.2h0.6v0.6h-0.6zM37.4 171.8h0.6v0.6h-0.6zM38.0 171.8h0.6v0.6h-0.6zM38.8 172.0h0.6v0.6h-0.6zM39.4 172.1h0.6v0.6h-0.6zM39.9 171.8h0.6v0.6h-0.6zM41.0 171.8h0.6v0.6h-0.6zM41.7 172.1h0.6v0.6h-0.6zM42.9 172.0h0.6v0.6h-0.6zM32.7 172.7h0.6v0.6h-0.6zM33.3 172.6h0.6v0.6h-0.6zM33.6 172.3h0.6v0.6h-0.6zM34.5 172.5h0.6v0.6h-0.6zM35.0 172.7h0.6v0.6h-0.6zM35.9 172.3h0.6v0.6h-0.6zM36.3 172.8h0.6v0.6h-0.6zM37.1 172.7h0.6v0.6h-0.6zM37.8 172.6h0.6v0.6h-0.6zM38.6 172.6h0.6v0.6h-0.6zM39.5 172.7h0.6v0.6h-0.6zM40.7 172.4h0.6v0.6h-0.6zM41.3 172.3h0.6v0.6h-0.6zM42.0 172.8h0.6v0.6h-0.6zM42.2 172.3h0.6v0.6h-0.6zM42.6 172.7h0.6v0.6h-0.6zM33.5 173.1h0.6v0.6h-0.6zM33.9 173.5h0.6v0.6h-0.6zM34.5 173.3h0.6v0.6h-0.6zM34.9 173.2h0.6v0.6h-0.6zM35.4 173.1h0.6v0.6h-0.6zM36.3 173.5h0.6v0.6h-0.6zM37.2 173.1h0.6v0.6h-0.6zM37.5 173.4h0.6v0.6h-0.6zM38.5 173.3h0.6v0.6h-0.6zM39.2 173.0h0.6v0.6h-0.6zM39.8 173.2h0.6v0.6h-0.6zM40.4 173.4h0.6v0.6h-0.6zM41.6 173.0h0.6v0.6h-0.6zM42.1 173.1h0.6v0.6h-0.6zM43.1 173.0h0.6v0.6h-0.6zM32.5 173.7h0.6v0.6h-0.6zM34.3 173.7h0.6v0.6h-0.6zM35.3 173.8h0.6v0.6h-0.6zM35.4 173.5h0.6v0.6h-0.6zM36.5 173.6h0.6v0.6h-0.6zM36.6 174.0h0.6v0.6h-0.6zM37.5 173.8h0.6v0.6h-0.6zM38.4 173.7h0.6v0.6h-0.6zM38.9 173.8h0.6v0.6h-0.6zM39.3 173.6h0.6v0.6h-0.6zM40.2 173.9h0.6v0.6h-0.6zM40.5 173.6h0.6v0.6h-0.6zM41.2 173.5h0.6v0.6h-0.6zM42.8 173.8h0.6v0.6h-0.6zM43.2 173.6h0.6v0.6h-0.6zM34.8 174.3h0.6v0.6h-0.6zM34.8 174.4h0.6v0.6h-0.6zM35.5 174.3h0.6v0.6h-0.6zM36.5 174.4h0.6v0.6h-0.6zM36.6 174.5h0.6v0.6h-0.6zM37.2 174.3h0.6v0.6h-0.6zM38.9 174.5h0.6v0.6h-0.6zM39.6 174.7h0.6v0.6h-0.6zM40.2 174.3h0.6v0.6h-0.6zM40.9 174.4h0.6v0.6h-0.6zM42.4 174.5h0.6v0.6h-0.6zM43.0 174.6h0.6v0.6h-0.6zM43.7 174.6h0.6v0.6h-0.6zM33.6 175.0h0.6v0.6h-0.6zM34.8 174.8h0.6v0.6h-0.6zM35.9 175.2h0.6v0.6h-0.6zM36.1 175.1h0.6v0.6h-0.6zM37.0 174.8h0.6v0.6h-0.6zM38.3 174.8h0.6v0.6h-0.6zM38.5 174.7h0.6v0.6h-0.6zM39.0 174.7h0.6v0.6h-0.6zM39.7 175.1h0.6v0.6h-0.6zM40.3 175.0h0.6v0.6h-0.6zM41.5 174.7h0.6v0.6h-0.6zM42.2 174.7h0.6v0.6h-0.6zM33.4 175.6h0.6v0.6h-0.6zM34.2 175.6h0.6v0.6h-0.6zM34.8 175.7h0.6v0.6h-0.6zM35.7 175.8h0.6v0.6h-0.6zM37.0 175.4h0.6v0.6h-0.6zM37.2 175.5h0.6v0.6h-0.6zM38.1 175.8h0.6v0.6h-0.6zM38.8 175.6h0.6v0.6h-0.6zM39.1 175.8h0.6v0.6h-0.6zM40.1 175.9h0.6v0.6h-0.6zM40.4 175.8h0.6v0.6h-0.6zM41.5 175.4h0.6v0.6h-0.6zM42.5 175.5h0.6v0.6h-0.6zM35.0 176.0h0.6v0.6h-0.6zM36.5 176.2h0.6v0.6h-0.6zM36.9 176.0h0.6v0.6h-0.6zM38.3 175.9h0.6v0.6h-0.6zM39.3 176.2h0.6v0.6h-0.6zM39.9 176.4h0.6v0.6h-0.6zM40.8 176.1h0.6v0.6h-0.6zM42.0 176.4h0.6v0.6h-0.6zM42.2 176.3h0.6v0.6h-0.6zM33.4 177.0h0.6v0.6h-0.6zM33.9 176.5h0.6v0.6h-0.6zM34.2 176.6h0.6v0.6h-0.6zM35.8 177.1h0.6v0.6h-0.6zM36.1 176.7h0.6v0.6h-0.6zM37.0 177.0h0.6v0.6h-0.6zM37.3 176.8h0.6v0.6h-0.6zM38.0 177.0h0.6v0.6h-0.6zM39.1 176.7h0.6v0.6h-0.6zM39.7 176.7h0.6v0.6h-0.6zM40.7 176.9h0.6v0.6h-0.6zM41.6 177.1h0.6v0.6h-0.6zM34.1 177.4h0.6v0.6h-0.6zM34.2 177.2h0.6v0.6h-0.6zM34.9 177.1h0.6v0.6h-0.6zM36.5 177.4h0.6v0.6h-0.6zM37.2 177.1h0.6v0.6h-0.6zM37.6 177.5h0.6v0.6h-0.6zM38.4 177.7h0.6v0.6h-0.6zM39.5 177.4h0.6v0.6h-0.6zM40.1 177.6h0.6v0.6h-0.6zM40.3 177.5h0.6v0.6h-0.6zM41.3 177.4h0.6v0.6h-0.6zM34.3 178.2h0.6v0.6h-0.6zM35.9 177.9h0.6v0.6h-0.6zM36.8 178.0h0.6v0.6h-0.6zM37.9 178.3h0.6v0.6h-0.6zM38.7 178.0h0.6v0.6h-0.6zM39.2 178.0h0.6v0.6h-0.6zM39.6 177.7h0.6v0.6h-0.6zM40.2 178.3h0.6v0.6h-0.6zM34.8 178.4h0.6v0.6h-0.6zM36.2 178.6h0.6v0.6h-0.6zM36.9 178.8h0.6v0.6h-0.6zM37.6 178.8h0.6v0.6h-0.6zM38.9 178.7h0.6v0.6h-0.6zM36.3 179.0h0.6v0.6h-0.6zM37.8 179.0h0.6v0.6h-0.6zM39.4 179.2h0.6v0.6h-0.6zM40.1 179.4h0.6v0.6h-0.6zM39.2 179.6h0.6v0.6h-0.6zM40.5 179.8h0.6v0.6h-0.6zM34.7 180.7h0.6v0.6h-0.6zM35.7 180.4h0.6v0.6h-0.6zM39.2 180.7h0.6v0.6h-0.6zM37.4 181.2h0.6v0.6h-0.6zM38.1 181.0h0.6v0.6h-0.6zM36.9 181.5h0.6v0.6h-0.6zM37.2 181.4h0.6v0.6h-0.6zM38.1 181.8h0.6v0.6h-0.6zM38.4 181.9h0.6v0.6h-0.6zM39.8 181.9h0.6v0.6h-0.6zM41.6 181.4h0.6v0.6h-0.6zM36.3 182.2h0.6v0.6h-0.6zM38.6 182.0h0.6v0.6h-0.6zM39.8 182.2h0.6v0.6h-0.6zM36.6 182.6h0.6v0.6h-0.6zM37.6 182.5h0.6v0.6h-0.6z" fill="#3030ff"/><ellipse cx="39.5" cy="164.7" rx="4.3" ry="2.5" fill="#f2a890" filter="url(#blur05)"/><ellipse cx="41" cy="164.9" rx="1.9" ry="1.5" fill="#c04838" filter="url(#blur04)"/><path d="M32.2 167.2H44.8" stroke="#222" stroke-width="0.9"/><text x="6.1" y="162.9" font-size="6" font-weight="bold" fill="#000" text-anchor="middle" textLength="11.8" lengthAdjust="spacingAndGlyphs" transform="rotate(-90 6.1 162.9)">IL10</text><text x="30.9" y="195.6" font-size="6.6" font-weight="bold" fill="#000" text-anchor="middle" textLength="15.6" lengthAdjust="spacingAndGlyphs">CD19</text><path d="M64.1 183.3V143H103.9V183.3" fill="none" stroke="#b8b8b8" stroke-width="0.8"/><path d="M64.1 143V183.3" fill="none" stroke="#888" stroke-width="0.75"/><g filter="url(#blur03)"><path d="M64.60,172.82 L64.92,171.33 L65.25,169.72 L65.57,167.99 L65.89,166.18 L66.22,164.29 L66.54,162.36 L66.86,160.41 L67.19,158.48 L67.51,156.60 L67.83,154.81 L68.16,153.15 L68.48,151.66 L68.80,150.36 L69.13,149.30 L69.45,148.49 L69.77,147.96 L70.10,147.72 L70.42,147.74 L70.74,147.95 L71.07,148.34 L71.39,148.90 L71.71,149.61 L72.04,150.48 L72.36,151.49 L72.68,152.62 L73.01,153.85 L73.33,155.18 L73.65,156.58 L73.98,158.03 L74.30,159.52 L74.62,161.03 L74.95,162.55 L75.27,164.05 L75.59,165.53 L75.92,166.97 L76.24,168.36 L76.56,169.70 L76.89,170.96 L77.21,172.16 L77.53,173.28 L77.86,174.32 L78.18,175.28 L78.50,176.16 L78.83,176.96 L79.15,177.68 L79.47,178.34 L79.80,178.92 L80.12,179.44 L80.44,179.89 L80.77,180.29 L81.09,180.64 L81.41,180.94 L81.74,181.20 L82.06,181.42 L82.38,181.61 L82.71,181.77 L83.03,181.90 L83.35,182.01 L83.68,182.11 L84.00,182.18 L84.32,182.25 L84.65,182.30 L84.97,182.34 L85.29,182.37 L85.62,182.40 L85.94,182.42 L86.26,182.44 L86.59,182.45 L86.91,182.46 L87.23,182.47 L87.56,182.48 L87.88,182.48 L88.20,182.49 L88.53,182.49 L88.85,182.49 L89.17,182.50 L89.50,182.50 L89.82,182.50 L90.14,182.50 L90.47,182.50 L90.79,182.50 L91.11,182.50 L91.44,182.50 L91.76,182.50 L92.08,182.50 L92.41,182.50 L92.73,182.50 L93.05,182.50 L93.38,182.50 L93.70,182.50 L94.02,182.50 L94.35,182.50 L94.67,182.50 L94.99,182.50 L95.32,182.50 L95.64,182.50 L95.96,182.50 L96.29,182.50 L96.61,182.50 L96.93,182.50 L97.26,182.50 L97.58,182.50 L97.90,182.50 L98.23,182.50 L98.55,182.50 L98.87,182.50 L99.20,182.50 L99.52,182.50 L99.84,182.50 L100.17,182.50 L100.49,182.50 L100.81,182.50 L101.14,182.50 L101.46,182.50 L101.78,182.50 L102.11,182.50 L102.43,182.50 L102.75,182.50 L103.08,182.50 L103.40,182.50" fill="none" stroke="#c8c8c8" stroke-width="0.6" stroke-linejoin="round"/><path d="M64.60,180.74 L64.92,180.59 L65.25,180.43 L65.57,180.26 L65.89,180.09 L66.22,179.91 L66.54,179.73 L66.86,179.54 L67.19,179.35 L67.51,179.16 L67.83,178.96 L68.16,178.77 L68.48,178.57 L68.80,178.38 L69.13,178.19 L69.45,178.00 L69.77,177.82 L70.10,177.64 L70.42,177.48 L70.74,177.32 L71.07,177.17 L71.39,177.03 L71.71,176.90 L72.04,176.78 L72.36,176.67 L72.68,176.56 L73.01,176.46 L73.33,176.35 L73.65,176.23 L73.98,176.09 L74.30,175.90 L74.62,175.67 L74.95,175.36 L75.27,174.95 L75.59,174.42 L75.92,173.73 L76.24,172.86 L76.56,171.79 L76.89,170.49 L77.21,168.95 L77.53,167.17 L77.86,165.17 L78.18,162.96 L78.50,160.60 L78.83,158.14 L79.15,155.67 L79.47,153.28 L79.80,151.06 L80.12,149.11 L80.44,147.53 L80.77,146.40 L81.09,145.78 L81.41,145.70 L81.74,146.05 L82.06,146.70 L82.38,147.63 L82.71,148.83 L83.03,150.26 L83.35,151.89 L83.68,153.69 L84.00,155.62 L84.32,157.64 L84.65,159.71 L84.97,161.78 L85.29,163.83 L85.62,165.82 L85.94,167.73 L86.26,169.53 L86.59,171.21 L86.91,172.76 L87.23,174.17 L87.56,175.43 L87.88,176.56 L88.20,177.54 L88.53,178.40 L88.85,179.14 L89.17,179.76 L89.50,180.29 L89.82,180.73 L90.14,181.09 L90.47,181.39 L90.79,181.63 L91.11,181.82 L91.44,181.98 L91.76,182.10 L92.08,182.19 L92.41,182.27 L92.73,182.32 L93.05,182.37 L93.38,182.40 L93.70,182.42 L94.02,182.44 L94.35,182.46 L94.67,182.47 L94.99,182.48 L95.32,182.48 L95.64,182.49 L95.96,182.49 L96.29,182.49 L96.61,182.49 L96.93,182.49 L97.26,182.50 L97.58,182.50 L97.90,182.50 L98.23,182.50 L98.55,182.50 L98.87,182.50 L99.20,182.50 L99.52,182.50 L99.84,182.50 L100.17,182.50 L100.49,182.50 L100.81,182.50 L101.14,182.50 L101.46,182.50 L101.78,182.50 L102.11,182.50 L102.43,182.50 L102.75,182.50 L103.08,182.50 L103.40,182.50" fill="none" stroke="#6a6ad6" stroke-width="0.8" stroke-linejoin="round"/><path d="M64.60,180.89 L64.92,180.75 L65.25,180.60 L65.57,180.45 L65.89,180.29 L66.22,180.13 L66.54,179.96 L66.86,179.79 L67.19,179.61 L67.51,179.44 L67.83,179.26 L68.16,179.08 L68.48,178.90 L68.80,178.72 L69.13,178.54 L69.45,178.37 L69.77,178.20 L70.10,178.03 L70.42,177.87 L70.74,177.72 L71.07,177.57 L71.39,177.43 L71.71,177.29 L72.04,177.15 L72.36,177.00 L72.68,176.86 L73.01,176.70 L73.33,176.53 L73.65,176.34 L73.98,176.12 L74.30,175.86 L74.62,175.55 L74.95,175.18 L75.27,174.75 L75.59,174.24 L75.92,173.65 L76.24,172.96 L76.56,172.19 L76.89,171.32 L77.21,170.36 L77.53,169.32 L77.86,168.22 L78.18,167.07 L78.50,165.90 L78.83,164.74 L79.15,163.61 L79.47,162.55 L79.80,161.60 L80.12,160.79 L80.44,160.14 L80.77,159.69 L81.09,159.45 L81.41,159.44 L81.74,159.63 L82.06,159.93 L82.38,160.32 L82.71,160.80 L83.03,161.38 L83.35,162.04 L83.68,162.77 L84.00,163.56 L84.32,164.41 L84.65,165.31 L84.97,166.24 L85.29,167.19 L85.62,168.17 L85.94,169.14 L86.26,170.11 L86.59,171.07 L86.91,172.00 L87.23,172.91 L87.56,173.78 L87.88,174.62 L88.20,175.41 L88.53,176.15 L88.85,176.84 L89.17,177.48 L89.50,178.08 L89.82,178.62 L90.14,179.11 L90.47,179.56 L90.79,179.96 L91.11,180.31 L91.44,180.63 L91.76,180.91 L92.08,181.15 L92.41,181.36 L92.73,181.55 L93.05,181.71 L93.38,181.84 L93.70,181.96 L94.02,182.05 L94.35,182.13 L94.67,182.20 L94.99,182.26 L95.32,182.31 L95.64,182.34 L95.96,182.38 L96.29,182.40 L96.61,182.42 L96.93,182.44 L97.26,182.45 L97.58,182.46 L97.90,182.47 L98.23,182.48 L98.55,182.48 L98.87,182.49 L99.20,182.49 L99.52,182.49 L99.84,182.49 L100.17,182.50 L100.49,182.50 L100.81,182.50 L101.14,182.50 L101.46,182.50 L101.78,182.50 L102.11,182.50 L102.43,182.50 L102.75,182.50 L103.08,182.50 L103.40,182.50" fill="none" stroke="#d68c7c" stroke-width="0.8" stroke-linejoin="round"/></g><path d="M64.1 183.3H103.9" stroke="#78788a" stroke-width="0.9"/><text x="65.6" y="187.5" font-size="2.6" fill="#999" text-anchor="middle" transform="rotate(-35 65.6 187.5)">10</text><text x="74.5" y="187.5" font-size="2.6" fill="#999" text-anchor="middle" transform="rotate(-35 74.5 187.5)">10</text><text x="83.5" y="187.5" font-size="2.6" fill="#999" text-anchor="middle" transform="rotate(-35 83.5 187.5)">10</text><text x="92.5" y="187.5" font-size="2.6" fill="#999" text-anchor="middle" transform="rotate(-35 92.5 187.5)">10</text><text x="101.4" y="187.5" font-size="2.6" fill="#999" text-anchor="middle" transform="rotate(-35 101.4 187.5)">10</text><path d="M66.1 183.3v1.3M75.0 183.3v1.3M84.0 183.3v1.3M93.0 183.3v1.3M101.9 183.3v1.3" stroke="#999" stroke-width="0.4"/><text x="60.1" y="163.7" font-size="2.4" fill="#888" text-anchor="middle" transform="rotate(-90 60.1 163.7)" textLength="5" lengthAdjust="spacingAndGlyphs">Count</text><text x="81.65" y="195.6" font-size="6.6" font-weight="bold" fill="#000" text-anchor="middle" textLength="15.9" lengthAdjust="spacingAndGlyphs">CD38</text><path d="M120.2 183.3V143H159.7V183.3" fill="none" stroke="#b8b8b8" stroke-width="0.8"/><path d="M120.2 143V183.3" fill="none" stroke="#888" stroke-width="0.75"/><g filter="url(#blur03)"><path d="M120.70,182.44 L121.02,182.41 L121.34,182.36 L121.66,182.30 L121.98,182.20 L122.30,182.06 L122.62,181.87 L122.95,181.62 L123.27,181.28 L123.59,180.83 L123.91,180.25 L124.23,179.52 L124.55,178.61 L124.87,177.50 L125.19,176.17 L125.51,174.61 L125.83,172.81 L126.15,170.78 L126.47,168.54 L126.80,166.12 L127.12,163.58 L127.44,160.97 L127.76,158.36 L128.08,155.86 L128.40,153.54 L128.72,151.49 L129.04,149.80 L129.36,148.54 L129.68,147.76 L130.00,147.50 L130.32,147.82 L130.65,148.74 L130.97,150.23 L131.29,152.19 L131.61,154.54 L131.93,157.16 L132.25,159.95 L132.57,162.78 L132.89,165.56 L133.21,168.21 L133.53,170.66 L133.85,172.86 L134.18,174.79 L134.50,176.45 L134.82,177.83 L135.14,178.96 L135.46,179.86 L135.78,180.57 L136.10,181.12 L136.42,181.52 L136.74,181.82 L137.06,182.04 L137.38,182.19 L137.70,182.30 L138.03,182.37 L138.35,182.42 L138.67,182.45 L138.99,182.47 L139.31,182.48 L139.63,182.49 L139.95,182.49 L140.27,182.50 L140.59,182.50 L140.91,182.50 L141.23,182.50 L141.55,182.50 L141.88,182.50 L142.20,182.50 L142.52,182.50 L142.84,182.50 L143.16,182.50 L143.48,182.50 L143.80,182.50 L144.12,182.50 L144.44,182.50 L144.76,182.50 L145.08,182.50 L145.40,182.50 L145.72,182.50 L146.05,182.50 L146.37,182.50 L146.69,182.50 L147.01,182.50 L147.33,182.50 L147.65,182.50 L147.97,182.50 L148.29,182.50 L148.61,182.50 L148.93,182.50 L149.25,182.50 L149.57,182.50 L149.90,182.50 L150.22,182.50 L150.54,182.50 L150.86,182.50 L151.18,182.50 L151.50,182.50 L151.82,182.50 L152.14,182.50 L152.46,182.50 L152.78,182.50 L153.10,182.50 L153.42,182.50 L153.75,182.50 L154.07,182.50 L154.39,182.50 L154.71,182.50 L155.03,182.50 L155.35,182.50 L155.67,182.50 L155.99,182.50 L156.31,182.50 L156.63,182.50 L156.95,182.50 L157.27,182.50 L157.60,182.50 L157.92,182.50 L158.24,182.50 L158.56,182.50 L158.88,182.50 L159.20,182.50" fill="none" stroke="#c8c8c8" stroke-width="0.6" stroke-linejoin="round"/><path d="M120.70,182.50 L121.02,182.50 L121.34,182.50 L121.66,182.50 L121.98,182.50 L122.30,182.50 L122.62,182.50 L122.95,182.50 L123.27,182.50 L123.59,182.49 L123.91,182.49 L124.23,182.47 L124.55,182.45 L124.87,182.41 L125.19,182.35 L125.51,182.25 L125.83,182.08 L126.15,181.84 L126.47,181.47 L126.80,180.94 L127.12,180.21 L127.44,179.20 L127.76,177.88 L128.08,176.19 L128.40,174.11 L128.72,171.62 L129.04,168.75 L129.36,165.56 L129.68,162.17 L130.00,158.71 L130.32,155.38 L130.65,152.36 L130.97,149.86 L131.29,148.05 L131.61,147.06 L131.93,146.92 L132.25,147.18 L132.57,147.71 L132.89,148.50 L133.21,149.54 L133.53,150.80 L133.85,152.25 L134.18,153.86 L134.50,155.60 L134.82,157.44 L135.14,159.34 L135.46,161.26 L135.78,163.17 L136.10,165.06 L136.42,166.88 L136.74,168.62 L137.06,170.27 L137.38,171.81 L137.70,173.22 L138.03,174.52 L138.35,175.68 L138.67,176.73 L138.99,177.65 L139.31,178.46 L139.63,179.15 L139.95,179.76 L140.27,180.27 L140.59,180.70 L140.91,181.05 L141.23,181.35 L141.55,181.59 L141.88,181.79 L142.20,181.95 L142.52,182.08 L142.84,182.18 L143.16,182.25 L143.48,182.32 L143.80,182.36 L144.12,182.40 L144.44,182.43 L144.76,182.45 L145.08,182.46 L145.40,182.47 L145.72,182.48 L146.05,182.49 L146.37,182.49 L146.69,182.49 L147.01,182.50 L147.33,182.50 L147.65,182.50 L147.97,182.50 L148.29,182.50 L148.61,182.50 L148.93,182.50 L149.25,182.50 L149.57,182.50 L149.90,182.50 L150.22,182.50 L150.54,182.50 L150.86,182.50 L151.18,182.50 L151.50,182.50 L151.82,182.50 L152.14,182.50 L152.46,182.50 L152.78,182.50 L153.10,182.50 L153.42,182.50 L153.75,182.50 L154.07,182.50 L154.39,182.50 L154.71,182.50 L155.03,182.50 L155.35,182.50 L155.67,182.50 L155.99,182.50 L156.31,182.50 L156.63,182.50 L156.95,182.50 L157.27,182.50 L157.60,182.50 L157.92,182.50 L158.24,182.50 L158.56,182.50 L158.88,182.50 L159.20,182.50" fill="none" stroke="#6a6ad6" stroke-width="0.8" stroke-linejoin="round"/><path d="M120.70,182.50 L121.02,182.50 L121.34,182.50 L121.66,182.50 L121.98,182.50 L122.30,182.50 L122.62,182.50 L122.95,182.50 L123.27,182.50 L123.59,182.50 L123.91,182.50 L124.23,182.50 L124.55,182.50 L124.87,182.50 L125.19,182.49 L125.51,182.49 L125.83,182.49 L126.15,182.48 L126.47,182.47 L126.80,182.46 L127.12,182.44 L127.44,182.41 L127.76,182.38 L128.08,182.33 L128.40,182.26 L128.72,182.17 L129.04,182.05 L129.36,181.89 L129.68,181.69 L130.00,181.43 L130.32,181.10 L130.65,180.70 L130.97,180.20 L131.29,179.60 L131.61,178.89 L131.93,178.06 L132.25,177.10 L132.57,176.00 L132.89,174.77 L133.21,173.41 L133.53,171.93 L133.85,170.35 L134.18,168.69 L134.50,166.98 L134.82,165.27 L135.14,163.58 L135.46,161.96 L135.78,160.46 L136.10,159.11 L136.42,157.97 L136.74,157.06 L137.06,156.42 L137.38,156.07 L137.70,156.02 L138.03,156.35 L138.35,157.07 L138.67,158.14 L138.99,159.52 L139.31,161.14 L139.63,162.96 L139.95,164.89 L140.27,166.86 L140.59,168.83 L140.91,170.73 L141.23,172.52 L141.55,174.16 L141.88,175.64 L142.20,176.94 L142.52,178.07 L142.84,179.02 L143.16,179.80 L143.48,180.44 L143.80,180.96 L144.12,181.36 L144.44,181.67 L144.76,181.90 L145.08,182.08 L145.40,182.21 L145.72,182.30 L146.05,182.36 L146.37,182.41 L146.69,182.44 L147.01,182.46 L147.33,182.48 L147.65,182.48 L147.97,182.49 L148.29,182.49 L148.61,182.50 L148.93,182.50 L149.25,182.50 L149.57,182.50 L149.90,182.50 L150.22,182.50 L150.54,182.50 L150.86,182.50 L151.18,182.50 L151.50,182.50 L151.82,182.50 L152.14,182.50 L152.46,182.50 L152.78,182.50 L153.10,182.50 L153.42,182.50 L153.75,182.50 L154.07,182.50 L154.39,182.50 L154.71,182.50 L155.03,182.50 L155.35,182.50 L155.67,182.50 L155.99,182.50 L156.31,182.50 L156.63,182.50 L156.95,182.50 L157.27,182.50 L157.60,182.50 L157.92,182.50 L158.24,182.50 L158.56,182.50 L158.88,182.50 L159.20,182.50" fill="none" stroke="#d68c7c" stroke-width="0.8" stroke-linejoin="round"/></g><path d="M120.2 183.3H159.7" stroke="#78788a" stroke-width="0.9"/><text x="121.7" y="187.5" font-size="2.6" fill="#999" text-anchor="middle" transform="rotate(-35 121.7 187.5)">10</text><text x="130.6" y="187.5" font-size="2.6" fill="#999" text-anchor="middle" transform="rotate(-35 130.6 187.5)">10</text><text x="139.4" y="187.5" font-size="2.6" fill="#999" text-anchor="middle" transform="rotate(-35 139.4 187.5)">10</text><text x="148.3" y="187.5" font-size="2.6" fill="#999" text-anchor="middle" transform="rotate(-35 148.3 187.5)">10</text><text x="157.2" y="187.5" font-size="2.6" fill="#999" text-anchor="middle" transform="rotate(-35 157.2 187.5)">10</text><path d="M122.2 183.3v1.3M131.1 183.3v1.3M139.9 183.3v1.3M148.8 183.3v1.3M157.7 183.3v1.3" stroke="#999" stroke-width="0.4"/><text x="116.2" y="163.7" font-size="2.4" fill="#888" text-anchor="middle" transform="rotate(-90 116.2 163.7)" textLength="5" lengthAdjust="spacingAndGlyphs">Count</text><text x="140.5" y="195.6" font-size="6.6" font-weight="bold" fill="#000" text-anchor="middle" textLength="15.6" lengthAdjust="spacingAndGlyphs">CD24</text><path d="M175.3 183.3V143H214.8V183.3" fill="none" stroke="#b8b8b8" stroke-width="0.8"/><path d="M175.3 143V183.3" fill="none" stroke="#888" stroke-width="0.75"/><g filter="url(#blur03)"><path d="M175.80,182.50 L176.12,182.50 L176.44,182.49 L176.76,182.49 L177.08,182.47 L177.40,182.45 L177.73,182.41 L178.05,182.35 L178.37,182.24 L178.69,182.06 L179.01,181.79 L179.33,181.37 L179.65,180.77 L179.97,179.93 L180.29,178.77 L180.61,177.25 L180.93,175.32 L181.25,172.95 L181.58,170.16 L181.90,167.01 L182.22,163.59 L182.54,160.06 L182.86,156.63 L183.18,153.51 L183.50,150.93 L183.82,149.08 L184.14,148.12 L184.46,148.13 L184.78,149.10 L185.10,150.96 L185.43,153.55 L185.75,156.67 L186.07,160.11 L186.39,163.63 L186.71,167.05 L187.03,170.20 L187.35,172.99 L187.67,175.35 L187.99,177.28 L188.31,178.79 L188.63,179.94 L188.95,180.78 L189.28,181.38 L189.60,181.79 L189.92,182.06 L190.24,182.24 L190.56,182.35 L190.88,182.41 L191.20,182.45 L191.52,182.47 L191.84,182.49 L192.16,182.49 L192.48,182.50 L192.80,182.50 L193.12,182.50 L193.45,182.50 L193.77,182.50 L194.09,182.50 L194.41,182.50 L194.73,182.50 L195.05,182.50 L195.37,182.50 L195.69,182.50 L196.01,182.50 L196.33,182.50 L196.65,182.50 L196.98,182.50 L197.30,182.50 L197.62,182.50 L197.94,182.50 L198.26,182.50 L198.58,182.50 L198.90,182.50 L199.22,182.50 L199.54,182.50 L199.86,182.50 L200.18,182.50 L200.50,182.50 L200.83,182.50 L201.15,182.50 L201.47,182.50 L201.79,182.50 L202.11,182.50 L202.43,182.50 L202.75,182.50 L203.07,182.50 L203.39,182.50 L203.71,182.50 L204.03,182.50 L204.35,182.50 L204.68,182.50 L205.00,182.50 L205.32,182.50 L205.64,182.50 L205.96,182.50 L206.28,182.50 L206.60,182.50 L206.92,182.50 L207.24,182.50 L207.56,182.50 L207.88,182.50 L208.20,182.50 L208.53,182.50 L208.85,182.50 L209.17,182.50 L209.49,182.50 L209.81,182.50 L210.13,182.50 L210.45,182.50 L210.77,182.50 L211.09,182.50 L211.41,182.50 L211.73,182.50 L212.05,182.50 L212.38,182.50 L212.70,182.50 L213.02,182.50 L213.34,182.50 L213.66,182.50 L213.98,182.50 L214.30,182.50" fill="none" stroke="#c8c8c8" stroke-width="0.6" stroke-linejoin="round"/><path d="M175.80,182.49 L176.12,182.49 L176.44,182.49 L176.76,182.48 L177.08,182.48 L177.40,182.47 L177.73,182.46 L178.05,182.44 L178.37,182.43 L178.69,182.40 L179.01,182.37 L179.33,182.33 L179.65,182.28 L179.97,182.20 L180.29,182.09 L180.61,181.93 L180.93,181.71 L181.25,181.40 L181.58,180.95 L181.90,180.34 L182.22,179.50 L182.54,178.38 L182.86,176.93 L183.18,175.11 L183.50,172.90 L183.82,170.28 L184.14,167.31 L184.46,164.07 L184.78,160.68 L185.10,157.32 L185.43,154.16 L185.75,151.40 L186.07,149.23 L186.39,147.78 L186.71,147.14 L187.03,147.26 L187.35,148.08 L187.67,149.51 L187.99,151.43 L188.31,153.68 L188.63,156.09 L188.95,158.53 L189.28,160.87 L189.60,163.02 L189.92,164.92 L190.24,166.55 L190.56,167.90 L190.88,169.01 L191.20,169.91 L191.52,170.63 L191.84,171.20 L192.16,171.66 L192.48,172.06 L192.80,172.42 L193.12,172.76 L193.45,173.10 L193.77,173.44 L194.09,173.80 L194.41,174.16 L194.73,174.54 L195.05,174.93 L195.37,175.33 L195.69,175.74 L196.01,176.15 L196.33,176.56 L196.65,176.96 L196.98,177.36 L197.30,177.75 L197.62,178.13 L197.94,178.49 L198.26,178.84 L198.58,179.17 L198.90,179.49 L199.22,179.78 L199.54,180.06 L199.86,180.32 L200.18,180.56 L200.50,180.78 L200.83,180.98 L201.15,181.16 L201.47,181.33 L201.79,181.48 L202.11,181.61 L202.43,181.73 L202.75,181.84 L203.07,181.93 L203.39,182.01 L203.71,182.09 L204.03,182.15 L204.35,182.20 L204.68,182.25 L205.00,182.29 L205.32,182.33 L205.64,182.36 L205.96,182.38 L206.28,182.40 L206.60,182.42 L206.92,182.43 L207.24,182.45 L207.56,182.46 L207.88,182.46 L208.20,182.47 L208.53,182.48 L208.85,182.48 L209.17,182.49 L209.49,182.49 L209.81,182.49 L210.13,182.49 L210.45,182.49 L210.77,182.50 L211.09,182.50 L211.41,182.50 L211.73,182.50 L212.05,182.50 L212.38,182.50 L212.70,182.50 L213.02,182.50 L213.34,182.50 L213.66,182.50 L213.98,182.50 L214.30,182.50" fill="none" stroke="#6a6ad6" stroke-width="0.8" stroke-linejoin="round"/><path d="M175.80,182.50 L176.12,182.50 L176.44,182.50 L176.76,182.50 L177.08,182.50 L177.40,182.50 L177.73,182.50 L178.05,182.50 L178.37,182.50 L178.69,182.50 L179.01,182.50 L179.33,182.50 L179.65,182.50 L179.97,182.50 L180.29,182.49 L180.61,182.49 L180.93,182.48 L181.25,182.47 L181.58,182.44 L181.90,182.41 L182.22,182.36 L182.54,182.28 L182.86,182.16 L183.18,182.00 L183.50,181.78 L183.82,181.47 L184.14,181.06 L184.46,180.53 L184.78,179.87 L185.10,179.06 L185.43,178.09 L185.75,176.96 L186.07,175.70 L186.39,174.31 L186.71,172.84 L187.03,171.33 L187.35,169.84 L187.67,168.40 L187.99,167.07 L188.31,165.87 L188.63,164.82 L188.95,163.91 L189.28,163.14 L189.60,162.51 L189.92,161.96 L190.24,161.43 L190.56,160.88 L190.88,160.29 L191.20,159.68 L191.52,159.12 L191.84,158.70 L192.16,158.52 L192.48,158.69 L192.80,159.30 L193.12,160.19 L193.45,161.23 L193.77,162.41 L194.09,163.72 L194.41,165.14 L194.73,166.66 L195.05,168.23 L195.37,169.82 L195.69,171.39 L196.01,172.91 L196.33,174.34 L196.65,175.66 L196.98,176.85 L197.30,177.90 L197.62,178.81 L197.94,179.59 L198.26,180.24 L198.58,180.77 L198.90,181.19 L199.22,181.53 L199.54,181.79 L199.86,181.99 L200.18,182.14 L200.50,182.25 L200.83,182.32 L201.15,182.38 L201.47,182.42 L201.79,182.45 L202.11,182.47 L202.43,182.48 L202.75,182.49 L203.07,182.49 L203.39,182.49 L203.71,182.50 L204.03,182.50 L204.35,182.50 L204.68,182.50 L205.00,182.50 L205.32,182.50 L205.64,182.50 L205.96,182.50 L206.28,182.50 L206.60,182.50 L206.92,182.50 L207.24,182.50 L207.56,182.50 L207.88,182.50 L208.20,182.50 L208.53,182.50 L208.85,182.50 L209.17,182.50 L209.49,182.50 L209.81,182.50 L210.13,182.50 L210.45,182.50 L210.77,182.50 L211.09,182.50 L211.41,182.50 L211.73,182.50 L212.05,182.50 L212.38,182.50 L212.70,182.50 L213.02,182.50 L213.34,182.50 L213.66,182.50 L213.98,182.50 L214.30,182.50" fill="none" stroke="#d68c7c" stroke-width="0.8" stroke-linejoin="round"/></g><path d="M175.3 183.3H214.8" stroke="#78788a" stroke-width="0.9"/><text x="176.8" y="187.5" font-size="2.6" fill="#999" text-anchor="middle" transform="rotate(-35 176.8 187.5)">10</text><text x="185.7" y="187.5" font-size="2.6" fill="#999" text-anchor="middle" transform="rotate(-35 185.7 187.5)">10</text><text x="194.6" y="187.5" font-size="2.6" fill="#999" text-anchor="middle" transform="rotate(-35 194.6 187.5)">10</text><text x="203.4" y="187.5" font-size="2.6" fill="#999" text-anchor="middle" transform="rotate(-35 203.4 187.5)">10</text><text x="212.3" y="187.5" font-size="2.6" fill="#999" text-anchor="middle" transform="rotate(-35 212.3 187.5)">10</text><path d="M177.3 183.3v1.3M186.2 183.3v1.3M195.1 183.3v1.3M203.9 183.3v1.3M212.8 183.3v1.3" stroke="#999" stroke-width="0.4"/><text x="171.3" y="163.7" font-size="2.4" fill="#888" text-anchor="middle" transform="rotate(-90 171.3 163.7)" textLength="5" lengthAdjust="spacingAndGlyphs">Count</text><text x="194.8" y="195.6" font-size="6.6" font-weight="bold" fill="#000" text-anchor="middle" textLength="15.4" lengthAdjust="spacingAndGlyphs">CD27</text><path d="M230.3 182.6V142.7H270.6V182.6" fill="none" stroke="#b8b8b8" stroke-width="0.8"/><path d="M230.3 142.7V182.6" fill="none" stroke="#888" stroke-width="0.75"/><g filter="url(#blur03)"><path d="M230.80,181.46 L231.13,181.30 L231.46,181.08 L231.78,180.79 L232.11,180.40 L232.44,179.89 L232.77,179.23 L233.09,178.40 L233.42,177.37 L233.75,176.13 L234.08,174.65 L234.40,172.92 L234.73,170.95 L235.06,168.76 L235.39,166.36 L235.71,163.82 L236.04,161.18 L236.37,158.53 L236.70,155.95 L237.02,153.54 L237.35,151.39 L237.68,149.59 L238.01,148.22 L238.33,147.35 L238.66,147.00 L238.99,147.36 L239.32,148.61 L239.64,150.66 L239.97,153.35 L240.30,156.50 L240.63,159.90 L240.95,163.34 L241.28,166.66 L241.61,169.70 L241.94,172.39 L242.26,174.68 L242.59,176.55 L242.92,178.03 L243.25,179.17 L243.57,180.01 L243.90,180.62 L244.23,181.04 L244.56,181.32 L244.88,181.51 L245.21,181.63 L245.54,181.70 L245.87,181.74 L246.19,181.77 L246.52,181.78 L246.85,181.79 L247.18,181.80 L247.50,181.80 L247.83,181.80 L248.16,181.80 L248.49,181.80 L248.81,181.80 L249.14,181.80 L249.47,181.80 L249.80,181.80 L250.12,181.80 L250.45,181.80 L250.78,181.80 L251.11,181.80 L251.43,181.80 L251.76,181.80 L252.09,181.80 L252.42,181.80 L252.74,181.80 L253.07,181.80 L253.40,181.80 L253.73,181.80 L254.05,181.80 L254.38,181.80 L254.71,181.80 L255.04,181.80 L255.36,181.80 L255.69,181.80 L256.02,181.80 L256.35,181.80 L256.67,181.80 L257.00,181.80 L257.33,181.80 L257.66,181.80 L257.98,181.80 L258.31,181.80 L258.64,181.80 L258.97,181.80 L259.29,181.80 L259.62,181.80 L259.95,181.80 L260.28,181.80 L260.60,181.80 L260.93,181.80 L261.26,181.80 L261.59,181.80 L261.91,181.80 L262.24,181.80 L262.57,181.80 L262.90,181.80 L263.22,181.80 L263.55,181.80 L263.88,181.80 L264.21,181.80 L264.53,181.80 L264.86,181.80 L265.19,181.80 L265.52,181.80 L265.84,181.80 L266.17,181.80 L266.50,181.80 L266.83,181.80 L267.15,181.80 L267.48,181.80 L267.81,181.80 L268.14,181.80 L268.46,181.80 L268.79,181.80 L269.12,181.80 L269.45,181.80 L269.77,181.80 L270.10,181.80" fill="none" stroke="#c8c8c8" stroke-width="0.6" stroke-linejoin="round"/><path d="M230.80,181.80 L231.13,181.80 L231.46,181.80 L231.78,181.80 L232.11,181.80 L232.44,181.80 L232.77,181.80 L233.09,181.80 L233.42,181.80 L233.75,181.80 L234.08,181.80 L234.40,181.80 L234.73,181.80 L235.06,181.80 L235.39,181.80 L235.71,181.80 L236.04,181.80 L236.37,181.80 L236.70,181.80 L237.02,181.80 L237.35,181.80 L237.68,181.79 L238.01,181.79 L238.33,181.78 L238.66,181.77 L238.99,181.74 L239.32,181.70 L239.64,181.64 L239.97,181.54 L240.30,181.39 L240.63,181.16 L240.95,180.84 L241.28,180.38 L241.61,179.75 L241.94,178.89 L242.26,177.78 L242.59,176.36 L242.92,174.59 L243.25,172.47 L243.57,169.98 L243.90,167.16 L244.23,164.06 L244.56,160.78 L244.88,157.44 L245.21,154.18 L245.54,151.17 L245.87,148.59 L246.19,146.57 L246.52,145.25 L246.85,144.71 L247.18,144.94 L247.50,145.85 L247.83,147.38 L248.16,149.46 L248.49,151.97 L248.81,154.79 L249.14,157.80 L249.47,160.87 L249.80,163.88 L250.12,166.74 L250.45,169.38 L250.78,171.74 L251.11,173.81 L251.43,175.56 L251.76,177.03 L252.09,178.21 L252.42,179.15 L252.74,179.88 L253.07,180.44 L253.40,180.85 L253.73,181.15 L254.05,181.36 L254.38,181.51 L254.71,181.61 L255.04,181.68 L255.36,181.73 L255.69,181.75 L256.02,181.77 L256.35,181.78 L256.67,181.79 L257.00,181.79 L257.33,181.80 L257.66,181.80 L257.98,181.80 L258.31,181.80 L258.64,181.80 L258.97,181.80 L259.29,181.80 L259.62,181.80 L259.95,181.80 L260.28,181.80 L260.60,181.80 L260.93,181.80 L261.26,181.80 L261.59,181.80 L261.91,181.80 L262.24,181.80 L262.57,181.80 L262.90,181.80 L263.22,181.80 L263.55,181.80 L263.88,181.80 L264.21,181.80 L264.53,181.80 L264.86,181.80 L265.19,181.80 L265.52,181.80 L265.84,181.80 L266.17,181.80 L266.50,181.80 L266.83,181.80 L267.15,181.80 L267.48,181.80 L267.81,181.80 L268.14,181.80 L268.46,181.80 L268.79,181.80 L269.12,181.80 L269.45,181.80 L269.77,181.80 L270.10,181.80" fill="none" stroke="#6a6ad6" stroke-width="0.8" stroke-linejoin="round"/><path d="M230.80,181.80 L231.13,181.80 L231.46,181.80 L231.78,181.80 L232.11,181.80 L232.44,181.80 L232.77,181.80 L233.09,181.80 L233.42,181.80 L233.75,181.80 L234.08,181.80 L234.40,181.80 L234.73,181.80 L235.06,181.80 L235.39,181.80 L235.71,181.80 L236.04,181.80 L236.37,181.80 L236.70,181.80 L237.02,181.80 L237.35,181.80 L237.68,181.80 L238.01,181.79 L238.33,181.79 L238.66,181.78 L238.99,181.76 L239.32,181.73 L239.64,181.68 L239.97,181.61 L240.30,181.50 L240.63,181.32 L240.95,181.07 L241.28,180.70 L241.61,180.19 L241.94,179.49 L242.26,178.56 L242.59,177.36 L242.92,175.84 L243.25,173.98 L243.57,171.76 L243.90,169.20 L244.23,166.32 L244.56,163.21 L244.88,159.96 L245.21,156.70 L245.54,153.59 L245.87,150.79 L246.19,148.46 L246.52,146.74 L246.85,145.74 L247.18,145.52 L247.50,146.01 L247.83,147.14 L248.16,148.86 L248.49,151.07 L248.81,153.66 L249.14,156.51 L249.47,159.48 L249.80,162.48 L250.12,165.37 L250.45,168.10 L250.78,170.58 L251.11,172.78 L251.43,174.68 L251.76,176.29 L252.09,177.61 L252.42,178.67 L252.74,179.51 L253.07,180.15 L253.40,180.64 L253.73,181.00 L254.05,181.25 L254.38,181.44 L254.71,181.56 L255.04,181.65 L255.36,181.70 L255.69,181.74 L256.02,181.76 L256.35,181.78 L256.67,181.79 L257.00,181.79 L257.33,181.80 L257.66,181.80 L257.98,181.80 L258.31,181.80 L258.64,181.80 L258.97,181.80 L259.29,181.80 L259.62,181.80 L259.95,181.80 L260.28,181.80 L260.60,181.80 L260.93,181.80 L261.26,181.80 L261.59,181.80 L261.91,181.80 L262.24,181.80 L262.57,181.80 L262.90,181.80 L263.22,181.80 L263.55,181.80 L263.88,181.80 L264.21,181.80 L264.53,181.80 L264.86,181.80 L265.19,181.80 L265.52,181.80 L265.84,181.80 L266.17,181.80 L266.50,181.80 L266.83,181.80 L267.15,181.80 L267.48,181.80 L267.81,181.80 L268.14,181.80 L268.46,181.80 L268.79,181.80 L269.12,181.80 L269.45,181.80 L269.77,181.80 L270.10,181.80" fill="none" stroke="#d68c7c" stroke-width="0.8" stroke-linejoin="round"/></g><path d="M230.3 182.6H270.6" stroke="#78788a" stroke-width="0.9"/><text x="231.8" y="186.8" font-size="2.6" fill="#999" text-anchor="middle" transform="rotate(-35 231.8 186.8)">10</text><text x="240.9" y="186.8" font-size="2.6" fill="#999" text-anchor="middle" transform="rotate(-35 240.9 186.8)">10</text><text x="250.0" y="186.8" font-size="2.6" fill="#999" text-anchor="middle" transform="rotate(-35 250.0 186.8)">10</text><text x="259.0" y="186.8" font-size="2.6" fill="#999" text-anchor="middle" transform="rotate(-35 259.0 186.8)">10</text><text x="268.1" y="186.8" font-size="2.6" fill="#999" text-anchor="middle" transform="rotate(-35 268.1 186.8)">10</text><path d="M232.3 182.6v1.3M241.4 182.6v1.3M250.5 182.6v1.3M259.5 182.6v1.3M268.6 182.6v1.3" stroke="#999" stroke-width="0.4"/><text x="226.3" y="163.1" font-size="2.4" fill="#888" text-anchor="middle" transform="rotate(-90 226.3 163.1)" textLength="5" lengthAdjust="spacingAndGlyphs">Count</text><text x="248.5" y="195.4" font-size="6.6" font-weight="bold" fill="#000" text-anchor="middle" textLength="15.4" lengthAdjust="spacingAndGlyphs">CD22</text><path d="M285.3 183.3V143H324.6V183.3" fill="none" stroke="#b8b8b8" stroke-width="0.8"/><path d="M285.3 143V183.3" fill="none" stroke="#888" stroke-width="0.75"/><g filter="url(#blur03)"><path d="M285.80,180.61 L286.12,180.02 L286.44,179.29 L286.76,178.41 L287.08,177.34 L287.40,176.08 L287.72,174.62 L288.03,172.95 L288.35,171.07 L288.67,169.00 L288.99,166.76 L289.31,164.39 L289.63,161.93 L289.95,159.44 L290.27,156.98 L290.59,154.62 L290.91,152.43 L291.23,150.50 L291.55,148.87 L291.86,147.63 L292.18,146.80 L292.50,146.42 L292.82,146.58 L293.14,147.47 L293.46,149.06 L293.78,151.23 L294.10,153.87 L294.42,156.84 L294.74,159.97 L295.06,163.14 L295.38,166.21 L295.69,169.07 L296.01,171.67 L296.33,173.94 L296.65,175.88 L296.97,177.48 L297.29,178.78 L297.61,179.80 L297.93,180.58 L298.25,181.16 L298.57,181.59 L298.89,181.89 L299.21,182.10 L299.52,182.25 L299.84,182.34 L300.16,182.40 L300.48,182.44 L300.80,182.47 L301.12,182.48 L301.44,182.49 L301.76,182.49 L302.08,182.50 L302.40,182.50 L302.72,182.50 L303.04,182.50 L303.35,182.50 L303.67,182.50 L303.99,182.50 L304.31,182.50 L304.63,182.50 L304.95,182.50 L305.27,182.50 L305.59,182.50 L305.91,182.50 L306.23,182.50 L306.55,182.50 L306.87,182.50 L307.18,182.50 L307.50,182.50 L307.82,182.50 L308.14,182.50 L308.46,182.50 L308.78,182.50 L309.10,182.50 L309.42,182.50 L309.74,182.50 L310.06,182.50 L310.38,182.50 L310.69,182.50 L311.01,182.50 L311.33,182.50 L311.65,182.50 L311.97,182.50 L312.29,182.50 L312.61,182.50 L312.93,182.50 L313.25,182.50 L313.57,182.50 L313.89,182.50 L314.21,182.50 L314.53,182.50 L314.84,182.50 L315.16,182.50 L315.48,182.50 L315.80,182.50 L316.12,182.50 L316.44,182.50 L316.76,182.50 L317.08,182.50 L317.40,182.50 L317.72,182.50 L318.04,182.50 L318.36,182.50 L318.67,182.50 L318.99,182.50 L319.31,182.50 L319.63,182.50 L319.95,182.50 L320.27,182.50 L320.59,182.50 L320.91,182.50 L321.23,182.50 L321.55,182.50 L321.87,182.50 L322.19,182.50 L322.50,182.50 L322.82,182.50 L323.14,182.50 L323.46,182.50 L323.78,182.50 L324.10,182.50" fill="none" stroke="#c8c8c8" stroke-width="0.6" stroke-linejoin="round"/><path d="M285.80,182.50 L286.12,182.50 L286.44,182.50 L286.76,182.50 L287.08,182.50 L287.40,182.50 L287.72,182.50 L288.03,182.50 L288.35,182.50 L288.67,182.50 L288.99,182.50 L289.31,182.50 L289.63,182.50 L289.95,182.50 L290.27,182.50 L290.59,182.50 L290.91,182.50 L291.23,182.50 L291.55,182.50 L291.86,182.49 L292.18,182.49 L292.50,182.48 L292.82,182.47 L293.14,182.45 L293.46,182.41 L293.78,182.35 L294.10,182.27 L294.42,182.13 L294.74,181.94 L295.06,181.65 L295.38,181.25 L295.69,180.69 L296.01,179.95 L296.33,178.96 L296.65,177.71 L296.97,176.14 L297.29,174.24 L297.61,171.99 L297.93,169.41 L298.25,166.54 L298.57,163.43 L298.89,160.20 L299.21,156.97 L299.52,153.87 L299.84,151.07 L300.16,148.71 L300.48,146.93 L300.80,145.84 L301.12,145.50 L301.44,145.81 L301.76,146.67 L302.08,148.02 L302.40,149.83 L302.72,152.00 L303.04,154.45 L303.35,157.09 L303.67,159.83 L303.99,162.57 L304.31,165.25 L304.63,167.79 L304.95,170.14 L305.27,172.27 L305.59,174.16 L305.91,175.80 L306.23,177.20 L306.55,178.37 L306.87,179.33 L307.18,180.11 L307.50,180.72 L307.82,181.19 L308.14,181.56 L308.46,181.83 L308.78,182.03 L309.10,182.17 L309.42,182.28 L309.74,182.35 L310.06,182.40 L310.38,182.44 L310.69,182.46 L311.01,182.47 L311.33,182.48 L311.65,182.49 L311.97,182.49 L312.29,182.50 L312.61,182.50 L312.93,182.50 L313.25,182.50 L313.57,182.50 L313.89,182.50 L314.21,182.50 L314.53,182.50 L314.84,182.50 L315.16,182.50 L315.48,182.50 L315.80,182.50 L316.12,182.50 L316.44,182.50 L316.76,182.50 L317.08,182.50 L317.40,182.50 L317.72,182.50 L318.04,182.50 L318.36,182.50 L318.67,182.50 L318.99,182.50 L319.31,182.50 L319.63,182.50 L319.95,182.50 L320.27,182.50 L320.59,182.50 L320.91,182.50 L321.23,182.50 L321.55,182.50 L321.87,182.50 L322.19,182.50 L322.50,182.50 L322.82,182.50 L323.14,182.50 L323.46,182.50 L323.78,182.50 L324.10,182.50" fill="none" stroke="#6a6ad6" stroke-width="0.8" stroke-linejoin="round"/><path d="M285.80,182.50 L286.12,182.50 L286.44,182.50 L286.76,182.50 L287.08,182.50 L287.40,182.50 L287.72,182.50 L288.03,182.50 L288.35,182.50 L288.67,182.50 L288.99,182.50 L289.31,182.50 L289.63,182.50 L289.95,182.50 L290.27,182.50 L290.59,182.50 L290.91,182.50 L291.23,182.50 L291.55,182.50 L291.86,182.50 L292.18,182.50 L292.50,182.49 L292.82,182.49 L293.14,182.48 L293.46,182.46 L293.78,182.44 L294.10,182.40 L294.42,182.34 L294.74,182.25 L295.06,182.11 L295.38,181.92 L295.69,181.64 L296.01,181.25 L296.33,180.72 L296.65,180.02 L296.97,179.12 L297.29,178.00 L297.61,176.62 L297.93,174.98 L298.25,173.08 L298.57,170.95 L298.89,168.63 L299.21,166.19 L299.52,163.73 L299.84,161.34 L300.16,159.14 L300.48,157.25 L300.80,155.78 L301.12,154.82 L301.44,154.41 L301.76,154.54 L302.08,155.08 L302.40,156.02 L302.72,157.31 L303.04,158.89 L303.35,160.71 L303.67,162.69 L303.99,164.75 L304.31,166.84 L304.63,168.89 L304.95,170.85 L305.27,172.67 L305.59,174.34 L305.91,175.82 L306.23,177.12 L306.55,178.23 L306.87,179.16 L307.18,179.92 L307.50,180.55 L307.82,181.04 L308.14,181.42 L308.46,181.72 L308.78,181.94 L309.10,182.11 L309.42,182.23 L309.74,182.31 L310.06,182.38 L310.38,182.42 L310.69,182.45 L311.01,182.47 L311.33,182.48 L311.65,182.49 L311.97,182.49 L312.29,182.49 L312.61,182.50 L312.93,182.50 L313.25,182.50 L313.57,182.50 L313.89,182.50 L314.21,182.50 L314.53,182.50 L314.84,182.50 L315.16,182.50 L315.48,182.50 L315.80,182.50 L316.12,182.50 L316.44,182.50 L316.76,182.50 L317.08,182.50 L317.40,182.50 L317.72,182.50 L318.04,182.50 L318.36,182.50 L318.67,182.50 L318.99,182.50 L319.31,182.50 L319.63,182.50 L319.95,182.50 L320.27,182.50 L320.59,182.50 L320.91,182.50 L321.23,182.50 L321.55,182.50 L321.87,182.50 L322.19,182.50 L322.50,182.50 L322.82,182.50 L323.14,182.50 L323.46,182.50 L323.78,182.50 L324.10,182.50" fill="none" stroke="#d68c7c" stroke-width="0.8" stroke-linejoin="round"/></g><path d="M285.3 183.3H324.6" stroke="#78788a" stroke-width="0.9"/><text x="286.8" y="187.5" font-size="2.6" fill="#999" text-anchor="middle" transform="rotate(-35 286.8 187.5)">10</text><text x="295.6" y="187.5" font-size="2.6" fill="#999" text-anchor="middle" transform="rotate(-35 295.6 187.5)">10</text><text x="304.5" y="187.5" font-size="2.6" fill="#999" text-anchor="middle" transform="rotate(-35 304.5 187.5)">10</text><text x="313.3" y="187.5" font-size="2.6" fill="#999" text-anchor="middle" transform="rotate(-35 313.3 187.5)">10</text><text x="322.1" y="187.5" font-size="2.6" fill="#999" text-anchor="middle" transform="rotate(-35 322.1 187.5)">10</text><path d="M287.3 183.3v1.3M296.1 183.3v1.3M305.0 183.3v1.3M313.8 183.3v1.3M322.6 183.3v1.3" stroke="#999" stroke-width="0.4"/><text x="281.3" y="163.7" font-size="2.4" fill="#888" text-anchor="middle" transform="rotate(-90 281.3 163.7)" textLength="5" lengthAdjust="spacingAndGlyphs">Count</text><text x="303.4" y="195.4" font-size="6.6" font-weight="bold" fill="#000" text-anchor="middle" textLength="15.2" lengthAdjust="spacingAndGlyphs">CD1d</text><path d="M9.9 239.9V199H50.7V239.9" fill="none" stroke="#b8b8b8" stroke-width="0.8"/><path d="M9.9 199V239.9" fill="none" stroke="#888" stroke-width="0.75"/><g filter="url(#blur03)"><path d="M10.40,238.62 L10.73,238.45 L11.06,238.21 L11.39,237.91 L11.73,237.52 L12.06,237.04 L12.39,236.43 L12.72,235.69 L13.05,234.80 L13.39,233.74 L13.72,232.50 L14.05,231.07 L14.38,229.44 L14.71,227.64 L15.04,225.66 L15.38,223.53 L15.71,221.28 L16.04,218.96 L16.37,216.61 L16.70,214.29 L17.03,212.06 L17.37,209.99 L17.70,208.14 L18.03,206.58 L18.36,205.35 L18.69,204.50 L19.02,204.06 L19.36,204.16 L19.69,205.59 L20.02,208.30 L20.35,211.99 L20.68,216.24 L21.01,220.63 L21.34,224.81 L21.68,228.51 L22.01,231.58 L22.34,233.98 L22.67,235.77 L23.00,237.02 L23.34,237.86 L23.67,238.39 L24.00,238.71 L24.33,238.89 L24.66,239.00 L24.99,239.05 L25.33,239.08 L25.66,239.09 L25.99,239.10 L26.32,239.10 L26.65,239.10 L26.98,239.10 L27.32,239.10 L27.65,239.10 L27.98,239.10 L28.31,239.10 L28.64,239.10 L28.97,239.10 L29.31,239.10 L29.64,239.10 L29.97,239.10 L30.30,239.10 L30.63,239.10 L30.96,239.10 L31.30,239.10 L31.63,239.10 L31.96,239.10 L32.29,239.10 L32.62,239.10 L32.95,239.10 L33.29,239.10 L33.62,239.10 L33.95,239.10 L34.28,239.10 L34.61,239.10 L34.94,239.10 L35.28,239.10 L35.61,239.10 L35.94,239.10 L36.27,239.10 L36.60,239.10 L36.93,239.10 L37.27,239.10 L37.60,239.10 L37.93,239.10 L38.26,239.10 L38.59,239.10 L38.92,239.10 L39.26,239.10 L39.59,239.10 L39.92,239.10 L40.25,239.10 L40.58,239.10 L40.91,239.10 L41.25,239.10 L41.58,239.10 L41.91,239.10 L42.24,239.10 L42.57,239.10 L42.90,239.10 L43.23,239.10 L43.57,239.10 L43.90,239.10 L44.23,239.10 L44.56,239.10 L44.89,239.10 L45.23,239.10 L45.56,239.10 L45.89,239.10 L46.22,239.10 L46.55,239.10 L46.88,239.10 L47.22,239.10 L47.55,239.10 L47.88,239.10 L48.21,239.10 L48.54,239.10 L48.87,239.10 L49.20,239.10 L49.54,239.10 L49.87,239.10 L50.20,239.10" fill="none" stroke="#c8c8c8" stroke-width="0.6" stroke-linejoin="round"/><path d="M10.40,239.10 L10.73,239.10 L11.06,239.10 L11.39,239.10 L11.73,239.10 L12.06,239.10 L12.39,239.10 L12.72,239.10 L13.05,239.10 L13.39,239.10 L13.72,239.10 L14.05,239.10 L14.38,239.10 L14.71,239.10 L15.04,239.10 L15.38,239.10 L15.71,239.10 L16.04,239.10 L16.37,239.10 L16.70,239.10 L17.03,239.10 L17.37,239.10 L17.70,239.10 L18.03,239.10 L18.36,239.10 L18.69,239.10 L19.02,239.10 L19.36,239.10 L19.69,239.10 L20.02,239.10 L20.35,239.10 L20.68,239.10 L21.01,239.10 L21.34,239.10 L21.68,239.09 L22.01,239.08 L22.34,239.05 L22.67,238.98 L23.00,238.83 L23.34,238.53 L23.67,237.94 L24.00,236.89 L24.33,235.16 L24.66,232.54 L24.99,228.85 L25.33,224.10 L25.66,218.53 L25.99,212.67 L26.32,207.28 L26.65,203.20 L26.98,201.15 L27.32,201.52 L27.65,204.22 L27.98,208.78 L28.31,214.39 L28.64,220.24 L28.97,225.61 L29.31,230.06 L29.64,233.42 L29.97,235.76 L30.30,237.26 L30.63,238.15 L30.96,238.64 L31.30,238.89 L31.63,239.01 L31.96,239.06 L32.29,239.09 L32.62,239.10 L32.95,239.10 L33.29,239.10 L33.62,239.10 L33.95,239.10 L34.28,239.10 L34.61,239.10 L34.94,239.10 L35.28,239.10 L35.61,239.10 L35.94,239.10 L36.27,239.10 L36.60,239.10 L36.93,239.10 L37.27,239.10 L37.60,239.10 L37.93,239.10 L38.26,239.10 L38.59,239.10 L38.92,239.10 L39.26,239.10 L39.59,239.10 L39.92,239.10 L40.25,239.10 L40.58,239.10 L40.91,239.10 L41.25,239.10 L41.58,239.10 L41.91,239.10 L42.24,239.10 L42.57,239.10 L42.90,239.10 L43.23,239.10 L43.57,239.10 L43.90,239.10 L44.23,239.10 L44.56,239.10 L44.89,239.10 L45.23,239.10 L45.56,239.10 L45.89,239.10 L46.22,239.10 L46.55,239.10 L46.88,239.10 L47.22,239.10 L47.55,239.10 L47.88,239.10 L48.21,239.10 L48.54,239.10 L48.87,239.10 L49.20,239.10 L49.54,239.10 L49.87,239.10 L50.20,239.10" fill="none" stroke="#6a6ad6" stroke-width="0.8" stroke-linejoin="round"/><path d="M10.40,239.10 L10.73,239.10 L11.06,239.10 L11.39,239.10 L11.73,239.10 L12.06,239.10 L12.39,239.10 L12.72,239.10 L13.05,239.10 L13.39,239.10 L13.72,239.10 L14.05,239.10 L14.38,239.10 L14.71,239.10 L15.04,239.10 L15.38,239.10 L15.71,239.10 L16.04,239.10 L16.37,239.10 L16.70,239.10 L17.03,239.10 L17.37,239.10 L17.70,239.10 L18.03,239.10 L18.36,239.10 L18.69,239.10 L19.02,239.10 L19.36,239.10 L19.69,239.10 L20.02,239.10 L20.35,239.10 L20.68,239.10 L21.01,239.10 L21.34,239.10 L21.68,239.10 L22.01,239.09 L22.34,239.07 L22.67,239.01 L23.00,238.90 L23.34,238.65 L23.67,238.18 L24.00,237.31 L24.33,235.86 L24.66,233.59 L24.99,230.32 L25.33,225.99 L25.66,220.76 L25.99,215.07 L26.32,209.60 L26.65,205.16 L26.98,202.51 L27.32,202.14 L27.65,204.13 L27.98,208.09 L28.31,213.33 L28.64,219.04 L28.97,224.47 L29.31,229.10 L29.64,232.70 L29.97,235.26 L30.30,236.94 L30.63,237.96 L30.96,238.54 L31.30,238.84 L31.63,238.99 L31.96,239.05 L32.29,239.08 L32.62,239.09 L32.95,239.10 L33.29,239.10 L33.62,239.10 L33.95,239.10 L34.28,239.10 L34.61,239.10 L34.94,239.10 L35.28,239.10 L35.61,239.10 L35.94,239.10 L36.27,239.10 L36.60,239.10 L36.93,239.10 L37.27,239.10 L37.60,239.10 L37.93,239.10 L38.26,239.10 L38.59,239.10 L38.92,239.10 L39.26,239.10 L39.59,239.10 L39.92,239.10 L40.25,239.10 L40.58,239.10 L40.91,239.10 L41.25,239.10 L41.58,239.10 L41.91,239.10 L42.24,239.10 L42.57,239.10 L42.90,239.10 L43.23,239.10 L43.57,239.10 L43.90,239.10 L44.23,239.10 L44.56,239.10 L44.89,239.10 L45.23,239.10 L45.56,239.10 L45.89,239.10 L46.22,239.10 L46.55,239.10 L46.88,239.10 L47.22,239.10 L47.55,239.10 L47.88,239.10 L48.21,239.10 L48.54,239.10 L48.87,239.10 L49.20,239.10 L49.54,239.10 L49.87,239.10 L50.20,239.10" fill="none" stroke="#d68c7c" stroke-width="0.8" stroke-linejoin="round"/></g><path d="M9.9 239.9H50.7" stroke="#78788a" stroke-width="0.9"/><text x="11.4" y="244.1" font-size="2.6" fill="#999" text-anchor="middle" transform="rotate(-35 11.4 244.1)">10</text><text x="20.6" y="244.1" font-size="2.6" fill="#999" text-anchor="middle" transform="rotate(-35 20.6 244.1)">10</text><text x="29.8" y="244.1" font-size="2.6" fill="#999" text-anchor="middle" transform="rotate(-35 29.8 244.1)">10</text><text x="39.0" y="244.1" font-size="2.6" fill="#999" text-anchor="middle" transform="rotate(-35 39.0 244.1)">10</text><text x="48.2" y="244.1" font-size="2.6" fill="#999" text-anchor="middle" transform="rotate(-35 48.2 244.1)">10</text><path d="M11.9 239.9v1.3M21.1 239.9v1.3M30.3 239.9v1.3M39.5 239.9v1.3M48.7 239.9v1.3" stroke="#999" stroke-width="0.4"/><text x="5.9" y="219.9" font-size="2.4" fill="#888" text-anchor="middle" transform="rotate(-90 5.9 219.9)" textLength="5" lengthAdjust="spacingAndGlyphs">Count</text><text x="29.25" y="252.6" font-size="6.6" font-weight="bold" fill="#000" text-anchor="middle" textLength="23.1" lengthAdjust="spacingAndGlyphs">BAFF R</text><path d="M64.3 240.1V200.1H103.9V240.1" fill="none" stroke="#b8b8b8" stroke-width="0.8"/><path d="M64.3 200.1V240.1" fill="none" stroke="#888" stroke-width="0.75"/><g filter="url(#blur03)"><path d="M64.80,239.30 L65.12,239.30 L65.44,239.30 L65.77,239.30 L66.09,239.30 L66.41,239.30 L66.73,239.30 L67.05,239.30 L67.37,239.30 L67.69,239.30 L68.02,239.30 L68.34,239.30 L68.66,239.30 L68.98,239.30 L69.30,239.30 L69.62,239.30 L69.95,239.30 L70.27,239.30 L70.59,239.29 L70.91,239.28 L71.23,239.25 L71.55,239.20 L71.88,239.09 L72.20,238.89 L72.52,238.54 L72.84,237.95 L73.16,237.02 L73.48,235.60 L73.81,233.57 L74.13,230.84 L74.45,227.35 L74.77,223.19 L75.09,218.56 L75.41,213.80 L75.74,209.36 L76.06,205.72 L76.38,203.33 L76.70,202.50 L77.02,203.24 L77.34,205.37 L77.67,208.64 L77.99,212.69 L78.31,217.12 L78.63,221.54 L78.95,225.65 L79.28,229.22 L79.60,232.15 L79.92,234.43 L80.24,236.12 L80.56,237.30 L80.88,238.09 L81.20,238.60 L81.53,238.91 L81.85,239.09 L82.17,239.19 L82.49,239.25 L82.81,239.28 L83.13,239.29 L83.46,239.30 L83.78,239.30 L84.10,239.30 L84.42,239.30 L84.74,239.30 L85.06,239.30 L85.39,239.30 L85.71,239.30 L86.03,239.30 L86.35,239.30 L86.67,239.30 L87.00,239.30 L87.32,239.30 L87.64,239.30 L87.96,239.30 L88.28,239.30 L88.60,239.30 L88.92,239.30 L89.25,239.30 L89.57,239.30 L89.89,239.30 L90.21,239.30 L90.53,239.30 L90.86,239.30 L91.18,239.30 L91.50,239.30 L91.82,239.30 L92.14,239.30 L92.46,239.30 L92.78,239.30 L93.11,239.30 L93.43,239.30 L93.75,239.30 L94.07,239.30 L94.39,239.30 L94.72,239.30 L95.04,239.30 L95.36,239.30 L95.68,239.30 L96.00,239.30 L96.32,239.30 L96.65,239.30 L96.97,239.30 L97.29,239.30 L97.61,239.30 L97.93,239.30 L98.25,239.30 L98.58,239.30 L98.90,239.30 L99.22,239.30 L99.54,239.30 L99.86,239.30 L100.18,239.30 L100.51,239.30 L100.83,239.30 L101.15,239.30 L101.47,239.30 L101.79,239.30 L102.11,239.30 L102.44,239.30 L102.76,239.30 L103.08,239.30 L103.40,239.30" fill="none" stroke="#c8c8c8" stroke-width="0.6" stroke-linejoin="round"/><path d="M64.80,239.30 L65.12,239.30 L65.44,239.30 L65.77,239.30 L66.09,239.30 L66.41,239.30 L66.73,239.30 L67.05,239.30 L67.37,239.30 L67.69,239.30 L68.02,239.30 L68.34,239.30 L68.66,239.30 L68.98,239.30 L69.30,239.30 L69.62,239.30 L69.95,239.30 L70.27,239.30 L70.59,239.30 L70.91,239.30 L71.23,239.29 L71.55,239.28 L71.88,239.25 L72.20,239.19 L72.52,239.07 L72.84,238.86 L73.16,238.49 L73.48,237.89 L73.81,236.97 L74.13,235.65 L74.45,233.88 L74.77,231.67 L75.09,229.10 L75.41,226.37 L75.74,223.75 L76.06,221.55 L76.38,220.09 L76.70,219.58 L77.02,219.98 L77.34,221.11 L77.67,222.85 L77.99,225.00 L78.31,227.36 L78.63,229.71 L78.95,231.88 L79.28,233.77 L79.60,235.30 L79.92,236.48 L80.24,237.32 L80.56,237.89 L80.88,238.23 L81.20,238.40 L81.53,238.45 L81.85,238.40 L82.17,238.29 L82.49,238.12 L82.81,237.90 L83.13,237.63 L83.46,237.32 L83.78,236.95 L84.10,236.53 L84.42,236.06 L84.74,235.51 L85.06,234.90 L85.39,234.22 L85.71,233.47 L86.03,232.63 L86.35,231.71 L86.67,230.71 L87.00,229.63 L87.32,228.47 L87.64,227.23 L87.96,225.92 L88.28,224.54 L88.60,223.10 L88.92,221.61 L89.25,220.08 L89.57,218.53 L89.89,216.97 L90.21,215.41 L90.53,213.87 L90.86,212.37 L91.18,210.93 L91.50,209.56 L91.82,208.29 L92.14,207.12 L92.46,206.09 L92.78,205.19 L93.11,204.45 L93.43,203.87 L93.75,203.47 L94.07,203.25 L94.39,203.22 L94.72,203.66 L95.04,204.62 L95.36,206.07 L95.68,207.94 L96.00,210.16 L96.32,212.63 L96.65,215.26 L96.97,217.97 L97.29,220.65 L97.61,223.25 L97.93,225.69 L98.25,227.94 L98.58,229.96 L98.90,231.74 L99.22,233.27 L99.54,234.56 L99.86,235.64 L100.18,236.51 L100.51,237.21 L100.83,237.75 L101.15,238.18 L101.47,238.49 L101.79,238.73 L102.11,238.91 L102.44,239.03 L102.76,239.12 L103.08,239.18 L103.40,239.22" fill="none" stroke="#6a6ad6" stroke-width="0.8" stroke-linejoin="round"/><path d="M64.80,239.30 L65.12,239.30 L65.44,239.30 L65.77,239.30 L66.09,239.30 L66.41,239.30 L66.73,239.30 L67.05,239.30 L67.37,239.30 L67.69,239.30 L68.02,239.30 L68.34,239.30 L68.66,239.30 L68.98,239.30 L69.30,239.30 L69.62,239.30 L69.95,239.30 L70.27,239.30 L70.59,239.29 L70.91,239.28 L71.23,239.26 L71.55,239.21 L71.88,239.14 L72.20,239.01 L72.52,238.79 L72.84,238.46 L73.16,237.97 L73.48,237.30 L73.81,236.41 L74.13,235.33 L74.45,234.08 L74.77,232.75 L75.09,231.44 L75.41,230.30 L75.74,229.46 L76.06,229.02 L76.38,229.03 L76.70,229.45 L77.02,230.22 L77.34,231.26 L77.67,232.45 L77.99,233.67 L78.31,234.84 L78.63,235.88 L78.95,236.73 L79.28,237.40 L79.60,237.87 L79.92,238.18 L80.24,238.35 L80.56,238.41 L80.88,238.38 L81.20,238.28 L81.53,238.12 L81.85,237.92 L82.17,237.67 L82.49,237.38 L82.81,237.04 L83.13,236.65 L83.46,236.21 L83.78,235.71 L84.10,235.16 L84.42,234.54 L84.74,233.86 L85.06,233.11 L85.39,232.30 L85.71,231.42 L86.03,230.47 L86.35,229.46 L86.67,228.39 L87.00,227.27 L87.32,226.10 L87.64,224.89 L87.96,223.65 L88.28,222.39 L88.60,221.12 L88.92,219.86 L89.25,218.61 L89.57,217.39 L89.89,216.22 L90.21,215.12 L90.53,214.09 L90.86,213.15 L91.18,212.31 L91.50,211.59 L91.82,210.99 L92.14,210.53 L92.46,210.21 L92.78,210.03 L93.11,210.02 L93.43,210.34 L93.75,211.03 L94.07,212.07 L94.39,213.41 L94.72,215.01 L95.04,216.81 L95.36,218.75 L95.68,220.77 L96.00,222.81 L96.32,224.81 L96.65,226.74 L96.97,228.56 L97.29,230.23 L97.61,231.74 L97.93,233.09 L98.25,234.26 L98.58,235.26 L98.90,236.11 L99.22,236.81 L99.54,237.38 L99.86,237.85 L100.18,238.21 L100.51,238.49 L100.83,238.71 L101.15,238.88 L101.47,239.00 L101.79,239.09 L102.11,239.15 L102.44,239.20 L102.76,239.23 L103.08,239.25 L103.40,239.27" fill="none" stroke="#d68c7c" stroke-width="0.8" stroke-linejoin="round"/></g><path d="M64.3 240.1H103.9" stroke="#78788a" stroke-width="0.9"/><text x="65.8" y="244.3" font-size="2.6" fill="#999" text-anchor="middle" transform="rotate(-35 65.8 244.3)">10</text><text x="74.7" y="244.3" font-size="2.6" fill="#999" text-anchor="middle" transform="rotate(-35 74.7 244.3)">10</text><text x="83.6" y="244.3" font-size="2.6" fill="#999" text-anchor="middle" transform="rotate(-35 83.6 244.3)">10</text><text x="92.5" y="244.3" font-size="2.6" fill="#999" text-anchor="middle" transform="rotate(-35 92.5 244.3)">10</text><text x="101.4" y="244.3" font-size="2.6" fill="#999" text-anchor="middle" transform="rotate(-35 101.4 244.3)">10</text><path d="M66.3 240.1v1.3M75.2 240.1v1.3M84.1 240.1v1.3M93.0 240.1v1.3M101.9 240.1v1.3" stroke="#999" stroke-width="0.4"/><text x="60.3" y="220.6" font-size="2.4" fill="#888" text-anchor="middle" transform="rotate(-90 60.3 220.6)" textLength="5" lengthAdjust="spacingAndGlyphs">Count</text><text x="79.0" y="252.6" font-size="6.6" font-weight="bold" fill="#000" text-anchor="middle" textLength="10" lengthAdjust="spacingAndGlyphs">IgD</text><path d="M120.2 240.1V200.1H159.4V240.1" fill="none" stroke="#b8b8b8" stroke-width="0.8"/><path d="M120.2 200.1V240.1" fill="none" stroke="#888" stroke-width="0.75"/><g filter="url(#blur03)"><path d="M120.70,239.30 L121.02,239.30 L121.34,239.30 L121.66,239.30 L121.97,239.30 L122.29,239.29 L122.61,239.28 L122.93,239.27 L123.25,239.25 L123.56,239.21 L123.88,239.14 L124.20,239.03 L124.52,238.87 L124.84,238.61 L125.16,238.23 L125.48,237.68 L125.79,236.92 L126.11,235.88 L126.43,234.51 L126.75,232.76 L127.07,230.59 L127.39,228.00 L127.70,225.00 L128.02,221.67 L128.34,218.09 L128.66,214.43 L128.98,210.87 L129.30,207.61 L129.61,204.86 L129.93,202.80 L130.25,201.60 L130.57,201.32 L130.89,202.00 L131.21,203.59 L131.52,205.96 L131.84,208.96 L132.16,212.37 L132.48,216.00 L132.80,219.65 L133.12,223.14 L133.43,226.34 L133.75,229.17 L134.07,231.57 L134.39,233.56 L134.71,235.14 L135.03,236.36 L135.34,237.28 L135.66,237.94 L135.98,238.41 L136.30,238.73 L136.62,238.95 L136.94,239.09 L137.25,239.17 L137.57,239.23 L137.89,239.26 L138.21,239.28 L138.53,239.29 L138.84,239.29 L139.16,239.30 L139.48,239.30 L139.80,239.30 L140.12,239.30 L140.44,239.30 L140.75,239.30 L141.07,239.30 L141.39,239.30 L141.71,239.30 L142.03,239.30 L142.35,239.30 L142.66,239.30 L142.98,239.30 L143.30,239.30 L143.62,239.30 L143.94,239.30 L144.26,239.30 L144.57,239.30 L144.89,239.30 L145.21,239.30 L145.53,239.30 L145.85,239.30 L146.17,239.30 L146.49,239.30 L146.80,239.30 L147.12,239.30 L147.44,239.30 L147.76,239.30 L148.08,239.30 L148.40,239.30 L148.71,239.30 L149.03,239.30 L149.35,239.30 L149.67,239.30 L149.99,239.30 L150.31,239.30 L150.62,239.30 L150.94,239.30 L151.26,239.30 L151.58,239.30 L151.90,239.30 L152.22,239.30 L152.53,239.30 L152.85,239.30 L153.17,239.30 L153.49,239.30 L153.81,239.30 L154.12,239.30 L154.44,239.30 L154.76,239.30 L155.08,239.30 L155.40,239.30 L155.72,239.30 L156.04,239.30 L156.35,239.30 L156.67,239.30 L156.99,239.30 L157.31,239.30 L157.63,239.30 L157.94,239.30 L158.26,239.30 L158.58,239.30 L158.90,239.30" fill="none" stroke="#c8c8c8" stroke-width="0.6" stroke-linejoin="round"/><path d="M120.70,236.73 L121.02,236.56 L121.34,236.39 L121.66,236.22 L121.97,236.05 L122.29,235.88 L122.61,235.72 L122.93,235.57 L123.25,235.43 L123.56,235.30 L123.88,235.19 L124.20,235.08 L124.52,234.99 L124.84,234.92 L125.16,234.86 L125.48,234.82 L125.79,234.80 L126.11,234.80 L126.43,234.83 L126.75,234.88 L127.07,234.96 L127.39,235.06 L127.70,235.19 L128.02,235.34 L128.34,235.51 L128.66,235.69 L128.98,235.89 L129.30,236.09 L129.61,236.31 L129.93,236.52 L130.25,236.73 L130.57,236.95 L130.89,237.15 L131.21,237.34 L131.52,237.52 L131.84,237.68 L132.16,237.82 L132.48,237.93 L132.80,238.00 L133.12,238.03 L133.43,238.01 L133.75,237.92 L134.07,237.74 L134.39,237.47 L134.71,237.07 L135.03,236.54 L135.34,235.84 L135.66,234.95 L135.98,233.86 L136.30,232.55 L136.62,231.01 L136.94,229.24 L137.25,227.25 L137.57,225.06 L137.89,222.71 L138.21,220.26 L138.53,217.76 L138.84,215.28 L139.16,212.92 L139.48,210.74 L139.80,208.84 L140.12,207.28 L140.44,206.13 L140.75,205.43 L141.07,205.21 L141.39,205.52 L141.71,206.35 L142.03,207.66 L142.35,209.34 L142.66,211.29 L142.98,213.41 L143.30,215.57 L143.62,217.66 L143.94,219.58 L144.26,221.28 L144.57,222.68 L144.89,223.76 L145.21,224.54 L145.53,225.01 L145.85,225.24 L146.17,225.27 L146.49,225.17 L146.80,225.00 L147.12,224.83 L147.44,224.72 L147.76,224.72 L148.08,224.87 L148.40,225.23 L148.71,225.82 L149.03,226.63 L149.35,227.62 L149.67,228.75 L149.99,229.96 L150.31,231.20 L150.62,232.41 L150.94,233.57 L151.26,234.63 L151.58,235.57 L151.90,236.38 L152.22,237.07 L152.53,237.62 L152.85,238.07 L153.17,238.41 L153.49,238.68 L153.81,238.87 L154.12,239.01 L154.44,239.11 L154.76,239.18 L155.08,239.22 L155.40,239.25 L155.72,239.27 L156.04,239.28 L156.35,239.29 L156.67,239.29 L156.99,239.30 L157.31,239.30 L157.63,239.30 L157.94,239.30 L158.26,239.30 L158.58,239.30 L158.90,239.30" fill="none" stroke="#6a6ad6" stroke-width="0.8" stroke-linejoin="round"/><path d="M120.70,236.39 L121.02,236.25 L121.34,236.12 L121.66,235.99 L121.97,235.87 L122.29,235.75 L122.61,235.63 L122.93,235.53 L123.25,235.43 L123.56,235.34 L123.88,235.26 L124.20,235.19 L124.52,235.13 L124.84,235.08 L125.16,235.04 L125.48,235.02 L125.79,235.00 L126.11,235.00 L126.43,235.01 L126.75,235.03 L127.07,235.07 L127.39,235.11 L127.70,235.17 L128.02,235.24 L128.34,235.31 L128.66,235.40 L128.98,235.50 L129.30,235.60 L129.61,235.71 L129.93,235.83 L130.25,235.95 L130.57,236.08 L130.89,236.21 L131.21,236.35 L131.52,236.48 L131.84,236.62 L132.16,236.76 L132.48,236.90 L132.80,237.03 L133.12,237.17 L133.43,237.30 L133.75,237.42 L134.07,237.55 L134.39,237.66 L134.71,237.77 L135.03,237.87 L135.34,237.96 L135.66,238.04 L135.98,238.11 L136.30,238.16 L136.62,238.19 L136.94,238.21 L137.25,238.19 L137.57,238.15 L137.89,238.08 L138.21,237.96 L138.53,237.81 L138.84,237.61 L139.16,237.36 L139.48,237.06 L139.80,236.70 L140.12,236.28 L140.44,235.81 L140.75,235.29 L141.07,234.72 L141.39,234.10 L141.71,233.46 L142.03,232.79 L142.35,232.12 L142.66,231.44 L142.98,230.79 L143.30,230.16 L143.62,229.58 L143.94,229.04 L144.26,228.56 L144.57,228.14 L144.89,227.78 L145.21,227.47 L145.53,227.20 L145.85,226.97 L146.17,226.75 L146.49,226.52 L146.80,226.28 L147.12,225.99 L147.44,225.66 L147.76,225.26 L148.08,224.79 L148.40,224.25 L148.71,223.64 L149.03,222.99 L149.35,222.29 L149.67,221.59 L149.99,220.90 L150.31,220.26 L150.62,219.70 L150.94,219.24 L151.26,218.92 L151.58,218.76 L151.90,218.78 L152.22,219.09 L152.53,220.01 L152.85,221.50 L153.17,223.42 L153.49,225.62 L153.81,227.90 L154.12,230.13 L154.44,232.18 L154.76,233.96 L155.08,235.43 L155.40,236.59 L155.72,237.47 L156.04,238.10 L156.35,238.55 L156.67,238.84 L156.99,239.03 L157.31,239.15 L157.63,239.22 L157.94,239.26 L158.26,239.28 L158.58,239.29 L158.90,239.29" fill="none" stroke="#d68c7c" stroke-width="0.8" stroke-linejoin="round"/></g><path d="M120.2 240.1H159.4" stroke="#78788a" stroke-width="0.9"/><text x="121.7" y="244.3" font-size="2.6" fill="#999" text-anchor="middle" transform="rotate(-35 121.7 244.3)">10</text><text x="130.5" y="244.3" font-size="2.6" fill="#999" text-anchor="middle" transform="rotate(-35 130.5 244.3)">10</text><text x="139.3" y="244.3" font-size="2.6" fill="#999" text-anchor="middle" transform="rotate(-35 139.3 244.3)">10</text><text x="148.1" y="244.3" font-size="2.6" fill="#999" text-anchor="middle" transform="rotate(-35 148.1 244.3)">10</text><text x="156.9" y="244.3" font-size="2.6" fill="#999" text-anchor="middle" transform="rotate(-35 156.9 244.3)">10</text><path d="M122.2 240.1v1.3M131.0 240.1v1.3M139.8 240.1v1.3M148.6 240.1v1.3M157.4 240.1v1.3" stroke="#999" stroke-width="0.4"/><text x="116.2" y="220.6" font-size="2.4" fill="#888" text-anchor="middle" transform="rotate(-90 116.2 220.6)" textLength="5" lengthAdjust="spacingAndGlyphs">Count</text><text x="138.0" y="252.4" font-size="6.6" font-weight="bold" fill="#000" text-anchor="middle" textLength="10.6" lengthAdjust="spacingAndGlyphs">IgM</text><path d="M175.3 240.1V200.1H215V240.1" fill="none" stroke="#b8b8b8" stroke-width="0.8"/><path d="M175.3 200.1V240.1" fill="none" stroke="#888" stroke-width="0.75"/><g filter="url(#blur03)"><path d="M175.80,239.18 L176.12,239.12 L176.45,239.05 L176.77,238.95 L177.09,238.82 L177.41,238.64 L177.74,238.41 L178.06,238.12 L178.38,237.74 L178.70,237.27 L179.03,236.69 L179.35,235.98 L179.67,235.12 L179.99,234.11 L180.31,232.92 L180.64,231.55 L180.96,230.00 L181.28,228.26 L181.61,226.35 L181.93,224.28 L182.25,222.08 L182.57,219.79 L182.90,217.44 L183.22,215.10 L183.54,212.81 L183.86,210.64 L184.19,208.64 L184.51,206.89 L184.83,205.42 L185.15,204.30 L185.47,203.56 L185.80,203.22 L186.12,203.42 L186.44,204.50 L186.77,206.42 L187.09,209.03 L187.41,212.15 L187.73,215.57 L188.06,219.10 L188.38,222.54 L188.70,225.75 L189.02,228.63 L189.34,231.11 L189.67,233.18 L189.99,234.84 L190.31,236.13 L190.64,237.11 L190.96,237.82 L191.28,238.33 L191.60,238.68 L191.93,238.91 L192.25,239.07 L192.57,239.16 L192.89,239.22 L193.22,239.26 L193.54,239.28 L193.86,239.29 L194.18,239.29 L194.50,239.30 L194.83,239.30 L195.15,239.30 L195.47,239.30 L195.80,239.30 L196.12,239.30 L196.44,239.30 L196.76,239.30 L197.09,239.30 L197.41,239.30 L197.73,239.30 L198.05,239.30 L198.38,239.30 L198.70,239.30 L199.02,239.30 L199.34,239.30 L199.67,239.30 L199.99,239.30 L200.31,239.30 L200.63,239.30 L200.96,239.30 L201.28,239.30 L201.60,239.30 L201.92,239.30 L202.25,239.30 L202.57,239.30 L202.89,239.30 L203.21,239.30 L203.53,239.30 L203.86,239.30 L204.18,239.30 L204.50,239.30 L204.82,239.30 L205.15,239.30 L205.47,239.30 L205.79,239.30 L206.12,239.30 L206.44,239.30 L206.76,239.30 L207.08,239.30 L207.41,239.30 L207.73,239.30 L208.05,239.30 L208.37,239.30 L208.69,239.30 L209.02,239.30 L209.34,239.30 L209.66,239.30 L209.99,239.30 L210.31,239.30 L210.63,239.30 L210.95,239.30 L211.28,239.30 L211.60,239.30 L211.92,239.30 L212.24,239.30 L212.56,239.30 L212.89,239.30 L213.21,239.30 L213.53,239.30 L213.85,239.30 L214.18,239.30 L214.50,239.30" fill="none" stroke="#c8c8c8" stroke-width="0.6" stroke-linejoin="round"/><path d="M175.80,239.30 L176.12,239.30 L176.45,239.30 L176.77,239.30 L177.09,239.30 L177.41,239.30 L177.74,239.30 L178.06,239.30 L178.38,239.30 L178.70,239.30 L179.03,239.30 L179.35,239.30 L179.67,239.30 L179.99,239.30 L180.31,239.30 L180.64,239.30 L180.96,239.30 L181.28,239.30 L181.61,239.30 L181.93,239.30 L182.25,239.30 L182.57,239.30 L182.90,239.30 L183.22,239.30 L183.54,239.30 L183.86,239.30 L184.19,239.30 L184.51,239.30 L184.83,239.30 L185.15,239.30 L185.47,239.30 L185.80,239.30 L186.12,239.30 L186.44,239.30 L186.77,239.30 L187.09,239.30 L187.41,239.30 L187.73,239.30 L188.06,239.30 L188.38,239.30 L188.70,239.30 L189.02,239.30 L189.34,239.30 L189.67,239.30 L189.99,239.30 L190.31,239.30 L190.64,239.30 L190.96,239.30 L191.28,239.29 L191.60,239.29 L191.93,239.29 L192.25,239.28 L192.57,239.27 L192.89,239.25 L193.22,239.23 L193.54,239.21 L193.86,239.17 L194.18,239.11 L194.50,239.04 L194.83,238.95 L195.15,238.83 L195.47,238.67 L195.80,238.46 L196.12,238.19 L196.44,237.86 L196.76,237.45 L197.09,236.95 L197.41,236.33 L197.73,235.60 L198.05,234.73 L198.38,233.71 L198.70,232.53 L199.02,231.19 L199.34,229.68 L199.67,228.00 L199.99,226.17 L200.31,224.20 L200.63,222.10 L200.96,219.91 L201.28,217.66 L201.60,215.39 L201.92,213.16 L202.25,211.00 L202.57,208.98 L202.89,207.14 L203.21,205.53 L203.53,204.20 L203.86,203.19 L204.18,202.52 L204.50,202.22 L204.82,202.49 L205.15,203.88 L205.47,206.29 L205.79,209.51 L206.12,213.27 L206.44,217.27 L206.76,221.24 L207.08,224.97 L207.41,228.28 L207.73,231.10 L208.05,233.39 L208.37,235.17 L208.69,236.51 L209.02,237.47 L209.34,238.14 L209.66,238.59 L209.99,238.88 L210.31,239.06 L210.63,239.16 L210.95,239.23 L211.28,239.26 L211.60,239.28 L211.92,239.29 L212.24,239.30 L212.56,239.30 L212.89,239.30 L213.21,239.30 L213.53,239.30 L213.85,239.30 L214.18,239.30 L214.50,239.30" fill="none" stroke="#6a6ad6" stroke-width="0.8" stroke-linejoin="round"/><path d="M175.80,239.30 L176.12,239.30 L176.45,239.30 L176.77,239.30 L177.09,239.30 L177.41,239.30 L177.74,239.30 L178.06,239.30 L178.38,239.30 L178.70,239.30 L179.03,239.30 L179.35,239.30 L179.67,239.30 L179.99,239.30 L180.31,239.30 L180.64,239.30 L180.96,239.30 L181.28,239.30 L181.61,239.30 L181.93,239.30 L182.25,239.30 L182.57,239.30 L182.90,239.30 L183.22,239.30 L183.54,239.30 L183.86,239.30 L184.19,239.30 L184.51,239.30 L184.83,239.30 L185.15,239.30 L185.47,239.30 L185.80,239.30 L186.12,239.30 L186.44,239.30 L186.77,239.30 L187.09,239.30 L187.41,239.30 L187.73,239.30 L188.06,239.30 L188.38,239.30 L188.70,239.30 L189.02,239.30 L189.34,239.30 L189.67,239.30 L189.99,239.30 L190.31,239.30 L190.64,239.30 L190.96,239.29 L191.28,239.29 L191.60,239.29 L191.93,239.28 L192.25,239.27 L192.57,239.26 L192.89,239.24 L193.22,239.21 L193.54,239.17 L193.86,239.12 L194.18,239.05 L194.50,238.96 L194.83,238.85 L195.15,238.69 L195.47,238.49 L195.80,238.24 L196.12,237.92 L196.44,237.52 L196.76,237.03 L197.09,236.44 L197.41,235.73 L197.73,234.89 L198.05,233.90 L198.38,232.76 L198.70,231.46 L199.02,229.99 L199.34,228.37 L199.67,226.58 L199.99,224.66 L200.31,222.62 L200.63,220.48 L200.96,218.28 L201.28,216.06 L201.60,213.87 L201.92,211.76 L202.25,209.76 L202.57,207.95 L202.89,206.36 L203.21,205.04 L203.53,204.02 L203.86,203.35 L204.18,203.03 L204.50,203.23 L204.82,204.51 L205.15,206.81 L205.47,209.91 L205.79,213.56 L206.12,217.47 L206.44,221.37 L206.76,225.03 L207.08,228.31 L207.41,231.10 L207.73,233.38 L208.05,235.16 L208.37,236.49 L208.69,237.46 L209.02,238.13 L209.34,238.58 L209.66,238.87 L209.99,239.05 L210.31,239.16 L210.63,239.23 L210.95,239.26 L211.28,239.28 L211.60,239.29 L211.92,239.30 L212.24,239.30 L212.56,239.30 L212.89,239.30 L213.21,239.30 L213.53,239.30 L213.85,239.30 L214.18,239.30 L214.50,239.30" fill="none" stroke="#d68c7c" stroke-width="0.8" stroke-linejoin="round"/></g><path d="M175.3 240.1H215" stroke="#78788a" stroke-width="0.9"/><text x="176.8" y="244.3" font-size="2.6" fill="#999" text-anchor="middle" transform="rotate(-35 176.8 244.3)">10</text><text x="185.7" y="244.3" font-size="2.6" fill="#999" text-anchor="middle" transform="rotate(-35 185.7 244.3)">10</text><text x="194.7" y="244.3" font-size="2.6" fill="#999" text-anchor="middle" transform="rotate(-35 194.7 244.3)">10</text><text x="203.6" y="244.3" font-size="2.6" fill="#999" text-anchor="middle" transform="rotate(-35 203.6 244.3)">10</text><text x="212.5" y="244.3" font-size="2.6" fill="#999" text-anchor="middle" transform="rotate(-35 212.5 244.3)">10</text><path d="M177.3 240.1v1.3M186.2 240.1v1.3M195.2 240.1v1.3M204.1 240.1v1.3M213.0 240.1v1.3" stroke="#999" stroke-width="0.4"/><text x="171.3" y="220.6" font-size="2.4" fill="#888" text-anchor="middle" transform="rotate(-90 171.3 220.6)" textLength="5" lengthAdjust="spacingAndGlyphs">Count</text><text x="194.8" y="252.4" font-size="6.6" font-weight="bold" fill="#000" text-anchor="middle" textLength="15.4" lengthAdjust="spacingAndGlyphs">CD20</text><path d="M230.2 240V200.1H270.4V240" fill="none" stroke="#b8b8b8" stroke-width="0.8"/><path d="M230.2 200.1V240" fill="none" stroke="#888" stroke-width="0.75"/><g filter="url(#blur03)"><path d="M230.70,238.99 L231.03,238.90 L231.35,238.77 L231.68,238.60 L232.01,238.37 L232.33,238.06 L232.66,237.67 L232.99,237.16 L233.31,236.51 L233.64,235.72 L233.97,234.75 L234.29,233.59 L234.62,232.22 L234.95,230.63 L235.27,228.83 L235.60,226.81 L235.93,224.60 L236.25,222.23 L236.58,219.74 L236.91,217.19 L237.23,214.64 L237.56,212.17 L237.89,209.85 L238.21,207.76 L238.54,205.98 L238.87,204.57 L239.19,203.59 L239.52,203.07 L239.85,203.06 L240.17,203.59 L240.50,204.67 L240.83,206.24 L241.15,208.24 L241.48,210.56 L241.81,213.13 L242.13,215.84 L242.46,218.59 L242.79,221.31 L243.11,223.91 L243.44,226.34 L243.77,228.55 L244.09,230.52 L244.42,232.23 L244.75,233.70 L245.07,234.92 L245.40,235.93 L245.73,236.73 L246.05,237.37 L246.38,237.87 L246.71,238.24 L247.03,238.52 L247.36,238.73 L247.69,238.88 L248.01,238.98 L248.34,239.06 L248.67,239.11 L248.99,239.14 L249.32,239.16 L249.65,239.18 L249.97,239.19 L250.30,239.19 L250.63,239.19 L250.95,239.20 L251.28,239.20 L251.61,239.20 L251.93,239.20 L252.26,239.20 L252.59,239.20 L252.91,239.20 L253.24,239.20 L253.57,239.20 L253.89,239.20 L254.22,239.20 L254.55,239.20 L254.87,239.20 L255.20,239.20 L255.53,239.20 L255.85,239.20 L256.18,239.20 L256.51,239.20 L256.83,239.20 L257.16,239.20 L257.49,239.20 L257.81,239.20 L258.14,239.20 L258.47,239.20 L258.79,239.20 L259.12,239.20 L259.45,239.20 L259.77,239.20 L260.10,239.20 L260.43,239.20 L260.75,239.20 L261.08,239.20 L261.41,239.20 L261.73,239.20 L262.06,239.20 L262.39,239.20 L262.71,239.20 L263.04,239.20 L263.37,239.20 L263.69,239.20 L264.02,239.20 L264.35,239.20 L264.67,239.20 L265.00,239.20 L265.33,239.20 L265.65,239.20 L265.98,239.20 L266.31,239.20 L266.63,239.20 L266.96,239.20 L267.29,239.20 L267.61,239.20 L267.94,239.20 L268.27,239.20 L268.59,239.20 L268.92,239.20 L269.25,239.20 L269.57,239.20 L269.90,239.20" fill="none" stroke="#c8c8c8" stroke-width="0.6" stroke-linejoin="round"/><path d="M230.70,239.20 L231.03,239.20 L231.35,239.20 L231.68,239.19 L232.01,239.19 L232.33,239.18 L232.66,239.16 L232.99,239.13 L233.31,239.09 L233.64,239.01 L233.97,238.90 L234.29,238.73 L234.62,238.48 L234.95,238.13 L235.27,237.62 L235.60,236.94 L235.93,236.02 L236.25,234.83 L236.58,233.32 L236.91,231.47 L237.23,229.26 L237.56,226.69 L237.89,223.80 L238.21,220.66 L238.54,217.37 L238.87,214.05 L239.19,210.86 L239.52,207.96 L239.85,205.52 L240.17,203.67 L240.50,202.54 L240.83,202.20 L241.15,202.34 L241.48,202.73 L241.81,203.35 L242.13,204.20 L242.46,205.25 L242.79,206.49 L243.11,207.90 L243.44,209.44 L243.77,211.10 L244.09,212.84 L244.42,214.63 L244.75,216.46 L245.07,218.29 L245.40,220.10 L245.73,221.87 L246.05,223.58 L246.38,225.22 L246.71,226.76 L247.03,228.21 L247.36,229.56 L247.69,230.79 L248.01,231.92 L248.34,232.94 L248.67,233.85 L248.99,234.66 L249.32,235.37 L249.65,235.99 L249.97,236.53 L250.30,237.00 L250.63,237.39 L250.95,237.72 L251.28,238.00 L251.61,238.24 L251.93,238.43 L252.26,238.59 L252.59,238.72 L252.91,238.82 L253.24,238.91 L253.57,238.97 L253.89,239.03 L254.22,239.07 L254.55,239.10 L254.87,239.12 L255.20,239.14 L255.53,239.16 L255.85,239.17 L256.18,239.18 L256.51,239.18 L256.83,239.19 L257.16,239.19 L257.49,239.19 L257.81,239.20 L258.14,239.20 L258.47,239.20 L258.79,239.20 L259.12,239.20 L259.45,239.20 L259.77,239.20 L260.10,239.20 L260.43,239.20 L260.75,239.20 L261.08,239.20 L261.41,239.20 L261.73,239.20 L262.06,239.20 L262.39,239.20 L262.71,239.20 L263.04,239.20 L263.37,239.20 L263.69,239.20 L264.02,239.20 L264.35,239.20 L264.67,239.20 L265.00,239.20 L265.33,239.20 L265.65,239.20 L265.98,239.20 L266.31,239.20 L266.63,239.20 L266.96,239.20 L267.29,239.20 L267.61,239.20 L267.94,239.20 L268.27,239.20 L268.59,239.20 L268.92,239.20 L269.25,239.20 L269.57,239.20 L269.90,239.20" fill="none" stroke="#6a6ad6" stroke-width="0.8" stroke-linejoin="round"/><path d="M230.70,239.20 L231.03,239.20 L231.35,239.20 L231.68,239.19 L232.01,239.19 L232.33,239.18 L232.66,239.16 L232.99,239.14 L233.31,239.11 L233.64,239.06 L233.97,238.98 L234.29,238.87 L234.62,238.71 L234.95,238.48 L235.27,238.17 L235.60,237.76 L235.93,237.22 L236.25,236.52 L236.58,235.65 L236.91,234.57 L237.23,233.28 L237.56,231.78 L237.89,230.06 L238.21,228.14 L238.54,226.07 L238.87,223.90 L239.19,221.70 L239.52,219.55 L239.85,217.55 L240.17,215.77 L240.50,214.31 L240.83,213.25 L241.15,212.64 L241.48,212.51 L241.81,212.65 L242.13,212.99 L242.46,213.52 L242.79,214.22 L243.11,215.08 L243.44,216.08 L243.77,217.21 L244.09,218.43 L244.42,219.73 L244.75,221.08 L245.07,222.47 L245.40,223.86 L245.73,225.24 L246.05,226.58 L246.38,227.89 L246.71,229.13 L247.03,230.30 L247.36,231.40 L247.69,232.41 L248.01,233.33 L248.34,234.16 L248.67,234.91 L248.99,235.57 L249.32,236.16 L249.65,236.67 L249.97,237.10 L250.30,237.48 L250.63,237.80 L250.95,238.07 L251.28,238.29 L251.61,238.48 L251.93,238.63 L252.26,238.75 L252.59,238.85 L252.91,238.93 L253.24,238.99 L253.57,239.04 L253.89,239.08 L254.22,239.11 L254.55,239.13 L254.87,239.15 L255.20,239.16 L255.53,239.17 L255.85,239.18 L256.18,239.19 L256.51,239.19 L256.83,239.19 L257.16,239.20 L257.49,239.20 L257.81,239.20 L258.14,239.20 L258.47,239.20 L258.79,239.20 L259.12,239.20 L259.45,239.20 L259.77,239.20 L260.10,239.20 L260.43,239.20 L260.75,239.20 L261.08,239.20 L261.41,239.20 L261.73,239.20 L262.06,239.20 L262.39,239.20 L262.71,239.20 L263.04,239.20 L263.37,239.20 L263.69,239.20 L264.02,239.20 L264.35,239.20 L264.67,239.20 L265.00,239.20 L265.33,239.20 L265.65,239.20 L265.98,239.20 L266.31,239.20 L266.63,239.20 L266.96,239.20 L267.29,239.20 L267.61,239.20 L267.94,239.20 L268.27,239.20 L268.59,239.20 L268.92,239.20 L269.25,239.20 L269.57,239.20 L269.90,239.20" fill="none" stroke="#d68c7c" stroke-width="0.8" stroke-linejoin="round"/></g><path d="M230.2 240H270.4" stroke="#78788a" stroke-width="0.9"/><text x="231.7" y="244.2" font-size="2.6" fill="#999" text-anchor="middle" transform="rotate(-35 231.7 244.2)">10</text><text x="240.8" y="244.2" font-size="2.6" fill="#999" text-anchor="middle" transform="rotate(-35 240.8 244.2)">10</text><text x="249.8" y="244.2" font-size="2.6" fill="#999" text-anchor="middle" transform="rotate(-35 249.8 244.2)">10</text><text x="258.8" y="244.2" font-size="2.6" fill="#999" text-anchor="middle" transform="rotate(-35 258.8 244.2)">10</text><text x="267.9" y="244.2" font-size="2.6" fill="#999" text-anchor="middle" transform="rotate(-35 267.9 244.2)">10</text><path d="M232.2 240v1.3M241.2 240v1.3M250.3 240v1.3M259.3 240v1.3M268.4 240v1.3" stroke="#999" stroke-width="0.4"/><text x="226.2" y="220.6" font-size="2.4" fill="#888" text-anchor="middle" transform="rotate(-90 226.2 220.6)" textLength="5" lengthAdjust="spacingAndGlyphs">Count</text><text x="247.85000000000002" y="252.6" font-size="6.6" font-weight="bold" fill="#000" text-anchor="middle" textLength="11.9" lengthAdjust="spacingAndGlyphs">CD5</text><path d="M285.4 240V200.1H323.6V240" fill="none" stroke="#b8b8b8" stroke-width="0.8"/><path d="M285.4 200.1V240" fill="none" stroke="#888" stroke-width="0.75"/><g filter="url(#blur03)"><path d="M285.90,238.69 L286.21,238.52 L286.52,238.29 L286.83,238.00 L287.14,237.63 L287.45,237.18 L287.76,236.62 L288.07,235.94 L288.38,235.12 L288.69,234.16 L289.00,233.03 L289.31,231.73 L289.62,230.26 L289.93,228.61 L290.24,226.78 L290.55,224.80 L290.86,222.67 L291.17,220.43 L291.48,218.12 L291.79,215.77 L292.10,213.44 L292.41,211.18 L292.72,209.04 L293.03,207.08 L293.34,205.36 L293.65,203.93 L293.96,202.82 L294.27,202.08 L294.58,201.73 L294.89,201.76 L295.20,202.08 L295.51,202.69 L295.82,203.57 L296.13,204.70 L296.44,206.06 L296.75,207.61 L297.06,209.33 L297.37,211.17 L297.68,213.10 L297.99,215.09 L298.30,217.10 L298.61,219.11 L298.92,221.07 L299.23,222.97 L299.54,224.79 L299.85,226.50 L300.16,228.09 L300.47,229.56 L300.78,230.91 L301.09,232.12 L301.40,233.20 L301.71,234.15 L302.02,234.99 L302.33,235.72 L302.64,236.34 L302.95,236.87 L303.26,237.32 L303.57,237.69 L303.88,238.00 L304.19,238.25 L304.50,238.46 L304.81,238.62 L305.12,238.75 L305.43,238.86 L305.74,238.94 L306.05,239.00 L306.36,239.05 L306.67,239.09 L306.98,239.12 L307.29,239.14 L307.60,239.16 L307.91,239.17 L308.22,239.18 L308.53,239.18 L308.84,239.19 L309.15,239.19 L309.46,239.19 L309.77,239.20 L310.08,239.20 L310.39,239.20 L310.70,239.20 L311.01,239.20 L311.32,239.20 L311.63,239.20 L311.94,239.20 L312.25,239.20 L312.56,239.20 L312.87,239.20 L313.18,239.20 L313.49,239.20 L313.80,239.20 L314.11,239.20 L314.42,239.20 L314.73,239.20 L315.04,239.20 L315.35,239.20 L315.66,239.20 L315.97,239.20 L316.28,239.20 L316.59,239.20 L316.90,239.20 L317.21,239.20 L317.52,239.20 L317.83,239.20 L318.14,239.20 L318.45,239.20 L318.76,239.20 L319.07,239.20 L319.38,239.20 L319.69,239.20 L320.00,239.20 L320.31,239.20 L320.62,239.20 L320.93,239.20 L321.24,239.20 L321.55,239.20 L321.86,239.20 L322.17,239.20 L322.48,239.20 L322.79,239.20 L323.10,239.20" fill="none" stroke="#c8c8c8" stroke-width="0.6" stroke-linejoin="round"/><path d="M285.90,239.20 L286.21,239.20 L286.52,239.20 L286.83,239.20 L287.14,239.20 L287.45,239.20 L287.76,239.20 L288.07,239.20 L288.38,239.20 L288.69,239.20 L289.00,239.20 L289.31,239.20 L289.62,239.20 L289.93,239.20 L290.24,239.20 L290.55,239.20 L290.86,239.20 L291.17,239.20 L291.48,239.19 L291.79,239.19 L292.10,239.19 L292.41,239.18 L292.72,239.17 L293.03,239.16 L293.34,239.14 L293.65,239.11 L293.96,239.08 L294.27,239.03 L294.58,238.96 L294.89,238.87 L295.20,238.75 L295.51,238.59 L295.82,238.39 L296.13,238.12 L296.44,237.79 L296.75,237.38 L297.06,236.86 L297.37,236.24 L297.68,235.48 L297.99,234.59 L298.30,233.54 L298.61,232.32 L298.92,230.93 L299.23,229.37 L299.54,227.64 L299.85,225.75 L300.16,223.71 L300.47,221.55 L300.78,219.31 L301.09,217.01 L301.40,214.72 L301.71,212.48 L302.02,210.34 L302.33,208.36 L302.64,206.60 L302.95,205.10 L303.26,203.91 L303.57,203.07 L303.88,202.60 L304.19,202.52 L304.50,202.82 L304.81,203.51 L305.12,204.56 L305.43,205.94 L305.74,207.59 L306.05,209.49 L306.36,211.57 L306.67,213.77 L306.98,216.05 L307.29,218.35 L307.60,220.62 L307.91,222.82 L308.22,224.91 L308.53,226.86 L308.84,228.67 L309.15,230.30 L309.46,231.76 L309.77,233.05 L310.08,234.17 L310.39,235.13 L310.70,235.94 L311.01,236.61 L311.32,237.17 L311.63,237.63 L311.94,237.99 L312.25,238.28 L312.56,238.51 L312.87,238.69 L313.18,238.82 L313.49,238.93 L313.80,239.00 L314.11,239.06 L314.42,239.10 L314.73,239.13 L315.04,239.15 L315.35,239.17 L315.66,239.18 L315.97,239.19 L316.28,239.19 L316.59,239.19 L316.90,239.20 L317.21,239.20 L317.52,239.20 L317.83,239.20 L318.14,239.20 L318.45,239.20 L318.76,239.20 L319.07,239.20 L319.38,239.20 L319.69,239.20 L320.00,239.20 L320.31,239.20 L320.62,239.20 L320.93,239.20 L321.24,239.20 L321.55,239.20 L321.86,239.20 L322.17,239.20 L322.48,239.20 L322.79,239.20 L323.10,239.20" fill="none" stroke="#6a6ad6" stroke-width="0.8" stroke-linejoin="round"/><path d="M285.90,239.20 L286.21,239.20 L286.52,239.20 L286.83,239.20 L287.14,239.20 L287.45,239.20 L287.76,239.20 L288.07,239.20 L288.38,239.20 L288.69,239.20 L289.00,239.20 L289.31,239.20 L289.62,239.20 L289.93,239.20 L290.24,239.20 L290.55,239.20 L290.86,239.20 L291.17,239.20 L291.48,239.20 L291.79,239.20 L292.10,239.20 L292.41,239.20 L292.72,239.20 L293.03,239.20 L293.34,239.20 L293.65,239.20 L293.96,239.20 L294.27,239.20 L294.58,239.20 L294.89,239.19 L295.20,239.19 L295.51,239.19 L295.82,239.18 L296.13,239.17 L296.44,239.15 L296.75,239.12 L297.06,239.08 L297.37,239.03 L297.68,238.95 L297.99,238.84 L298.30,238.69 L298.61,238.49 L298.92,238.23 L299.23,237.90 L299.54,237.47 L299.85,236.93 L300.16,236.26 L300.47,235.46 L300.78,234.50 L301.09,233.38 L301.40,232.09 L301.71,230.64 L302.02,229.05 L302.33,227.32 L302.64,225.50 L302.95,223.61 L303.26,221.73 L303.57,219.88 L303.88,218.15 L304.19,216.58 L304.50,215.24 L304.81,214.18 L305.12,213.44 L305.43,213.06 L305.74,213.04 L306.05,213.39 L306.36,214.10 L306.67,215.13 L306.98,216.44 L307.29,217.99 L307.60,219.71 L307.91,221.54 L308.22,223.43 L308.53,225.32 L308.84,227.15 L309.15,228.88 L309.46,230.50 L309.77,231.96 L310.08,233.26 L310.39,234.40 L310.70,235.37 L311.01,236.19 L311.32,236.87 L311.63,237.42 L311.94,237.86 L312.25,238.21 L312.56,238.47 L312.87,238.67 L313.18,238.83 L313.49,238.94 L313.80,239.02 L314.11,239.08 L314.42,239.12 L314.73,239.14 L315.04,239.16 L315.35,239.18 L315.66,239.19 L315.97,239.19 L316.28,239.19 L316.59,239.20 L316.90,239.20 L317.21,239.20 L317.52,239.20 L317.83,239.20 L318.14,239.20 L318.45,239.20 L318.76,239.20 L319.07,239.20 L319.38,239.20 L319.69,239.20 L320.00,239.20 L320.31,239.20 L320.62,239.20 L320.93,239.20 L321.24,239.20 L321.55,239.20 L321.86,239.20 L322.17,239.20 L322.48,239.20 L322.79,239.20 L323.10,239.20" fill="none" stroke="#d68c7c" stroke-width="0.8" stroke-linejoin="round"/></g><path d="M285.4 240H323.6" stroke="#78788a" stroke-width="0.9"/><text x="286.9" y="244.2" font-size="2.6" fill="#999" text-anchor="middle" transform="rotate(-35 286.9 244.2)">10</text><text x="295.4" y="244.2" font-size="2.6" fill="#999" text-anchor="middle" transform="rotate(-35 295.4 244.2)">10</text><text x="304.0" y="244.2" font-size="2.6" fill="#999" text-anchor="middle" transform="rotate(-35 304.0 244.2)">10</text><text x="312.6" y="244.2" font-size="2.6" fill="#999" text-anchor="middle" transform="rotate(-35 312.6 244.2)">10</text><text x="321.1" y="244.2" font-size="2.6" fill="#999" text-anchor="middle" transform="rotate(-35 321.1 244.2)">10</text><path d="M287.4 240v1.3M295.9 240v1.3M304.5 240v1.3M313.1 240v1.3M321.6 240v1.3" stroke="#999" stroke-width="0.4"/><text x="281.4" y="220.6" font-size="2.4" fill="#888" text-anchor="middle" transform="rotate(-90 281.4 220.6)" textLength="5" lengthAdjust="spacingAndGlyphs">Count</text><text x="303.5" y="252.6" font-size="6.6" font-weight="bold" fill="#000" text-anchor="middle" textLength="15.4" lengthAdjust="spacingAndGlyphs">CD25</text><path d="M64 298.3V258.3H104.7V298.3" fill="none" stroke="#b8b8b8" stroke-width="0.8"/><path d="M64 258.3V298.3" fill="none" stroke="#888" stroke-width="0.75"/><g filter="url(#blur03)"><path d="M64.50,297.46 L64.83,297.43 L65.16,297.39 L65.49,297.31 L65.82,297.20 L66.15,297.02 L66.48,296.77 L66.82,296.40 L67.15,295.89 L67.48,295.19 L67.81,294.25 L68.14,293.05 L68.47,291.53 L68.80,289.67 L69.13,287.46 L69.46,284.91 L69.79,282.08 L70.12,279.03 L70.45,275.87 L70.79,272.73 L71.12,269.78 L71.45,267.16 L71.78,265.04 L72.11,263.56 L72.44,262.79 L72.77,262.86 L73.10,264.03 L73.43,266.23 L73.76,269.26 L74.09,272.84 L74.42,276.69 L74.76,280.51 L75.09,284.10 L75.42,287.28 L75.75,289.96 L76.08,292.13 L76.41,293.80 L76.74,295.03 L77.07,295.91 L77.40,296.51 L77.73,296.90 L78.06,297.15 L78.39,297.30 L78.73,297.39 L79.06,297.44 L79.39,297.47 L79.72,297.49 L80.05,297.49 L80.38,297.50 L80.71,297.50 L81.04,297.50 L81.37,297.50 L81.70,297.50 L82.03,297.50 L82.37,297.50 L82.70,297.50 L83.03,297.50 L83.36,297.50 L83.69,297.50 L84.02,297.50 L84.35,297.50 L84.68,297.50 L85.01,297.50 L85.34,297.50 L85.67,297.50 L86.00,297.50 L86.34,297.50 L86.67,297.50 L87.00,297.50 L87.33,297.50 L87.66,297.50 L87.99,297.50 L88.32,297.50 L88.65,297.50 L88.98,297.50 L89.31,297.50 L89.64,297.50 L89.97,297.50 L90.31,297.50 L90.64,297.50 L90.97,297.50 L91.30,297.50 L91.63,297.50 L91.96,297.50 L92.29,297.50 L92.62,297.50 L92.95,297.50 L93.28,297.50 L93.61,297.50 L93.94,297.50 L94.28,297.50 L94.61,297.50 L94.94,297.50 L95.27,297.50 L95.60,297.50 L95.93,297.50 L96.26,297.50 L96.59,297.50 L96.92,297.50 L97.25,297.50 L97.58,297.50 L97.91,297.50 L98.25,297.50 L98.58,297.50 L98.91,297.50 L99.24,297.50 L99.57,297.50 L99.90,297.50 L100.23,297.50 L100.56,297.50 L100.89,297.50 L101.22,297.50 L101.55,297.50 L101.88,297.50 L102.22,297.50 L102.55,297.50 L102.88,297.50 L103.21,297.50 L103.54,297.50 L103.87,297.50 L104.20,297.50" fill="none" stroke="#c8c8c8" stroke-width="0.6" stroke-linejoin="round"/><path d="M64.50,297.50 L64.83,297.50 L65.16,297.50 L65.49,297.50 L65.82,297.50 L66.15,297.50 L66.48,297.50 L66.82,297.50 L67.15,297.50 L67.48,297.50 L67.81,297.50 L68.14,297.50 L68.47,297.50 L68.80,297.50 L69.13,297.50 L69.46,297.50 L69.79,297.50 L70.12,297.50 L70.45,297.50 L70.79,297.50 L71.12,297.50 L71.45,297.49 L71.78,297.48 L72.11,297.47 L72.44,297.44 L72.77,297.39 L73.10,297.31 L73.43,297.19 L73.76,296.99 L74.09,296.68 L74.42,296.22 L74.76,295.57 L75.09,294.66 L75.42,293.42 L75.75,291.82 L76.08,289.79 L76.41,287.33 L76.74,284.43 L77.07,281.17 L77.40,277.65 L77.73,274.02 L78.06,270.47 L78.39,267.23 L78.73,264.51 L79.06,262.52 L79.39,261.40 L79.72,261.28 L80.05,262.31 L80.38,264.45 L80.71,267.49 L81.04,271.16 L81.37,275.15 L81.70,279.16 L82.03,282.95 L82.37,286.34 L82.70,289.23 L83.03,291.57 L83.36,293.39 L83.69,294.75 L84.02,295.72 L84.35,296.38 L84.68,296.82 L85.01,297.10 L85.34,297.28 L85.67,297.38 L86.00,297.44 L86.34,297.47 L86.67,297.48 L87.00,297.49 L87.33,297.50 L87.66,297.50 L87.99,297.50 L88.32,297.50 L88.65,297.50 L88.98,297.50 L89.31,297.50 L89.64,297.50 L89.97,297.50 L90.31,297.50 L90.64,297.50 L90.97,297.50 L91.30,297.50 L91.63,297.50 L91.96,297.50 L92.29,297.50 L92.62,297.50 L92.95,297.50 L93.28,297.50 L93.61,297.50 L93.94,297.50 L94.28,297.50 L94.61,297.50 L94.94,297.50 L95.27,297.50 L95.60,297.50 L95.93,297.50 L96.26,297.50 L96.59,297.50 L96.92,297.50 L97.25,297.50 L97.58,297.50 L97.91,297.50 L98.25,297.50 L98.58,297.50 L98.91,297.50 L99.24,297.50 L99.57,297.50 L99.90,297.50 L100.23,297.50 L100.56,297.50 L100.89,297.50 L101.22,297.50 L101.55,297.50 L101.88,297.50 L102.22,297.50 L102.55,297.50 L102.88,297.50 L103.21,297.50 L103.54,297.50 L103.87,297.50 L104.20,297.50" fill="none" stroke="#6a6ad6" stroke-width="0.8" stroke-linejoin="round"/><path d="M64.50,297.50 L64.83,297.50 L65.16,297.50 L65.49,297.50 L65.82,297.50 L66.15,297.50 L66.48,297.50 L66.82,297.50 L67.15,297.50 L67.48,297.50 L67.81,297.50 L68.14,297.50 L68.47,297.50 L68.80,297.50 L69.13,297.50 L69.46,297.50 L69.79,297.50 L70.12,297.50 L70.45,297.50 L70.79,297.50 L71.12,297.50 L71.45,297.50 L71.78,297.49 L72.11,297.49 L72.44,297.48 L72.77,297.46 L73.10,297.43 L73.43,297.37 L73.76,297.28 L74.09,297.14 L74.42,296.92 L74.76,296.60 L75.09,296.13 L75.42,295.46 L75.75,294.57 L76.08,293.39 L76.41,291.89 L76.74,290.05 L77.07,287.88 L77.40,285.41 L77.73,282.72 L78.06,279.91 L78.39,277.14 L78.73,274.56 L79.06,272.36 L79.39,270.69 L79.72,269.68 L80.05,269.41 L80.38,270.02 L80.71,271.51 L81.04,273.73 L81.37,276.49 L81.70,279.54 L82.03,282.66 L82.37,285.65 L82.70,288.35 L83.03,290.66 L83.36,292.57 L83.69,294.06 L84.02,295.18 L84.35,295.98 L84.68,296.54 L85.01,296.92 L85.34,297.16 L85.67,297.30 L86.00,297.39 L86.34,297.44 L86.67,297.47 L87.00,297.49 L87.33,297.49 L87.66,297.50 L87.99,297.50 L88.32,297.50 L88.65,297.50 L88.98,297.50 L89.31,297.50 L89.64,297.50 L89.97,297.50 L90.31,297.50 L90.64,297.50 L90.97,297.50 L91.30,297.50 L91.63,297.50 L91.96,297.50 L92.29,297.50 L92.62,297.50 L92.95,297.50 L93.28,297.50 L93.61,297.50 L93.94,297.50 L94.28,297.50 L94.61,297.50 L94.94,297.50 L95.27,297.50 L95.60,297.50 L95.93,297.50 L96.26,297.50 L96.59,297.50 L96.92,297.50 L97.25,297.50 L97.58,297.50 L97.91,297.50 L98.25,297.50 L98.58,297.50 L98.91,297.50 L99.24,297.50 L99.57,297.50 L99.90,297.50 L100.23,297.50 L100.56,297.50 L100.89,297.50 L101.22,297.50 L101.55,297.50 L101.88,297.50 L102.22,297.50 L102.55,297.50 L102.88,297.50 L103.21,297.50 L103.54,297.50 L103.87,297.50 L104.20,297.50" fill="none" stroke="#d68c7c" stroke-width="0.8" stroke-linejoin="round"/></g><path d="M64 298.3H104.7" stroke="#78788a" stroke-width="0.9"/><text x="65.5" y="302.5" font-size="2.6" fill="#999" text-anchor="middle" transform="rotate(-35 65.5 302.5)">10</text><text x="74.7" y="302.5" font-size="2.6" fill="#999" text-anchor="middle" transform="rotate(-35 74.7 302.5)">10</text><text x="83.8" y="302.5" font-size="2.6" fill="#999" text-anchor="middle" transform="rotate(-35 83.8 302.5)">10</text><text x="93.0" y="302.5" font-size="2.6" fill="#999" text-anchor="middle" transform="rotate(-35 93.0 302.5)">10</text><text x="102.2" y="302.5" font-size="2.6" fill="#999" text-anchor="middle" transform="rotate(-35 102.2 302.5)">10</text><path d="M66.0 298.3v1.3M75.2 298.3v1.3M84.3 298.3v1.3M93.5 298.3v1.3M102.7 298.3v1.3" stroke="#999" stroke-width="0.4"/><text x="60.0" y="278.8" font-size="2.4" fill="#888" text-anchor="middle" transform="rotate(-90 60.0 278.8)" textLength="5" lengthAdjust="spacingAndGlyphs">Count</text><text x="82.4" y="313" font-size="6.6" font-weight="bold" fill="#000" text-anchor="middle" textLength="16.0" lengthAdjust="spacingAndGlyphs">CD21</text><path d="M118.4 298.3V258.3H158.2V298.3" fill="none" stroke="#b8b8b8" stroke-width="0.8"/><path d="M118.4 258.3V298.3" fill="none" stroke="#888" stroke-width="0.75"/><g filter="url(#blur03)"><path d="M118.90,296.03 L119.22,295.03 L119.55,293.52 L119.87,291.38 L120.19,288.52 L120.52,284.92 L120.84,280.67 L121.16,276.02 L121.49,271.33 L121.81,267.06 L122.13,263.70 L122.46,261.67 L122.78,261.22 L123.10,261.75 L123.43,262.97 L123.75,264.79 L124.07,267.13 L124.40,269.85 L124.72,272.82 L125.04,275.90 L125.37,278.96 L125.69,281.91 L126.01,284.64 L126.34,287.10 L126.66,289.25 L126.98,291.09 L127.31,292.62 L127.63,293.85 L127.95,294.83 L128.28,295.58 L128.60,296.15 L128.92,296.57 L129.25,296.87 L129.57,297.08 L129.89,297.23 L130.22,297.33 L130.54,297.39 L130.86,297.43 L131.19,297.46 L131.51,297.48 L131.83,297.49 L132.16,297.49 L132.48,297.50 L132.80,297.50 L133.13,297.50 L133.45,297.50 L133.77,297.50 L134.10,297.50 L134.42,297.50 L134.74,297.50 L135.07,297.50 L135.39,297.50 L135.71,297.50 L136.04,297.50 L136.36,297.50 L136.68,297.50 L137.01,297.50 L137.33,297.50 L137.65,297.50 L137.98,297.50 L138.30,297.50 L138.62,297.50 L138.95,297.50 L139.27,297.50 L139.59,297.50 L139.92,297.50 L140.24,297.50 L140.56,297.50 L140.89,297.50 L141.21,297.50 L141.53,297.50 L141.86,297.50 L142.18,297.50 L142.50,297.50 L142.83,297.50 L143.15,297.50 L143.47,297.50 L143.80,297.50 L144.12,297.50 L144.44,297.50 L144.77,297.50 L145.09,297.50 L145.41,297.50 L145.74,297.50 L146.06,297.50 L146.38,297.50 L146.71,297.50 L147.03,297.50 L147.35,297.50 L147.68,297.50 L148.00,297.50 L148.32,297.50 L148.65,297.50 L148.97,297.50 L149.29,297.50 L149.62,297.50 L149.94,297.50 L150.26,297.50 L150.59,297.50 L150.91,297.50 L151.23,297.50 L151.56,297.50 L151.88,297.50 L152.20,297.50 L152.53,297.50 L152.85,297.50 L153.17,297.50 L153.50,297.50 L153.82,297.50 L154.14,297.50 L154.47,297.50 L154.79,297.50 L155.11,297.50 L155.44,297.50 L155.76,297.50 L156.08,297.50 L156.41,297.50 L156.73,297.50 L157.05,297.50 L157.38,297.50 L157.70,297.50" fill="none" stroke="#c8c8c8" stroke-width="0.6" stroke-linejoin="round"/><path d="M118.90,297.50 L119.22,297.50 L119.55,297.50 L119.87,297.50 L120.19,297.50 L120.52,297.50 L120.84,297.50 L121.16,297.50 L121.49,297.50 L121.81,297.50 L122.13,297.50 L122.46,297.50 L122.78,297.50 L123.10,297.50 L123.43,297.50 L123.75,297.50 L124.07,297.50 L124.40,297.50 L124.72,297.50 L125.04,297.50 L125.37,297.50 L125.69,297.50 L126.01,297.50 L126.34,297.50 L126.66,297.50 L126.98,297.50 L127.31,297.50 L127.63,297.50 L127.95,297.50 L128.28,297.50 L128.60,297.50 L128.92,297.50 L129.25,297.50 L129.57,297.50 L129.89,297.50 L130.22,297.50 L130.54,297.50 L130.86,297.50 L131.19,297.50 L131.51,297.50 L131.83,297.50 L132.16,297.50 L132.48,297.50 L132.80,297.50 L133.13,297.50 L133.45,297.50 L133.77,297.50 L134.10,297.50 L134.42,297.50 L134.74,297.50 L135.07,297.50 L135.39,297.50 L135.71,297.50 L136.04,297.50 L136.36,297.50 L136.68,297.50 L137.01,297.50 L137.33,297.50 L137.65,297.49 L137.98,297.49 L138.30,297.47 L138.62,297.44 L138.95,297.39 L139.27,297.30 L139.59,297.16 L139.92,296.91 L140.24,296.53 L140.56,295.96 L140.89,295.11 L141.21,293.92 L141.53,292.30 L141.86,290.20 L142.18,287.57 L142.50,284.43 L142.83,280.83 L143.15,276.92 L143.47,272.90 L143.80,269.03 L144.12,265.60 L144.44,262.88 L144.77,261.13 L145.09,260.50 L145.41,261.06 L145.74,262.74 L146.06,265.41 L146.38,268.80 L146.71,272.66 L147.03,276.68 L147.35,280.60 L147.68,284.22 L148.00,287.39 L148.32,290.06 L148.65,292.19 L148.97,293.83 L149.29,295.05 L149.62,295.91 L149.94,296.50 L150.26,296.90 L150.59,297.14 L150.91,297.30 L151.23,297.39 L151.56,297.44 L151.88,297.47 L152.20,297.48 L152.53,297.49 L152.85,297.50 L153.17,297.50 L153.50,297.50 L153.82,297.50 L154.14,297.50 L154.47,297.50 L154.79,297.50 L155.11,297.50 L155.44,297.50 L155.76,297.50 L156.08,297.50 L156.41,297.50 L156.73,297.50 L157.05,297.50 L157.38,297.50 L157.70,297.50" fill="none" stroke="#6a6ad6" stroke-width="0.8" stroke-linejoin="round"/><path d="M118.90,297.50 L119.22,297.50 L119.55,297.50 L119.87,297.50 L120.19,297.50 L120.52,297.50 L120.84,297.50 L121.16,297.50 L121.49,297.50 L121.81,297.50 L122.13,297.50 L122.46,297.50 L122.78,297.50 L123.10,297.50 L123.43,297.50 L123.75,297.50 L124.07,297.50 L124.40,297.50 L124.72,297.50 L125.04,297.50 L125.37,297.50 L125.69,297.50 L126.01,297.50 L126.34,297.50 L126.66,297.50 L126.98,297.50 L127.31,297.50 L127.63,297.50 L127.95,297.50 L128.28,297.50 L128.60,297.50 L128.92,297.50 L129.25,297.50 L129.57,297.50 L129.89,297.50 L130.22,297.50 L130.54,297.50 L130.86,297.50 L131.19,297.50 L131.51,297.50 L131.83,297.50 L132.16,297.50 L132.48,297.50 L132.80,297.50 L133.13,297.50 L133.45,297.50 L133.77,297.50 L134.10,297.50 L134.42,297.50 L134.74,297.50 L135.07,297.50 L135.39,297.50 L135.71,297.50 L136.04,297.50 L136.36,297.50 L136.68,297.50 L137.01,297.50 L137.33,297.50 L137.65,297.50 L137.98,297.49 L138.30,297.48 L138.62,297.46 L138.95,297.43 L139.27,297.37 L139.59,297.26 L139.92,297.09 L140.24,296.81 L140.56,296.37 L140.89,295.72 L141.21,294.78 L141.53,293.47 L141.86,291.72 L142.18,289.49 L142.50,286.73 L142.83,283.49 L143.15,279.86 L143.47,275.99 L143.80,272.10 L144.12,268.46 L144.44,265.35 L144.77,263.05 L145.09,261.74 L145.41,261.57 L145.74,262.54 L146.06,264.57 L146.38,267.46 L146.71,270.97 L147.03,274.82 L147.35,278.72 L147.68,282.44 L148.00,285.81 L148.32,288.72 L148.65,291.11 L148.97,293.00 L149.29,294.43 L149.62,295.47 L149.94,296.20 L150.26,296.70 L150.59,297.02 L150.91,297.22 L151.23,297.34 L151.56,297.41 L151.88,297.45 L152.20,297.48 L152.53,297.49 L152.85,297.49 L153.17,297.50 L153.50,297.50 L153.82,297.50 L154.14,297.50 L154.47,297.50 L154.79,297.50 L155.11,297.50 L155.44,297.50 L155.76,297.50 L156.08,297.50 L156.41,297.50 L156.73,297.50 L157.05,297.50 L157.38,297.50 L157.70,297.50" fill="none" stroke="#d68c7c" stroke-width="0.8" stroke-linejoin="round"/></g><path d="M118.4 298.3H158.2" stroke="#78788a" stroke-width="0.9"/><text x="119.9" y="302.5" font-size="2.6" fill="#999" text-anchor="middle" transform="rotate(-35 119.9 302.5)">10</text><text x="128.8" y="302.5" font-size="2.6" fill="#999" text-anchor="middle" transform="rotate(-35 128.8 302.5)">10</text><text x="137.8" y="302.5" font-size="2.6" fill="#999" text-anchor="middle" transform="rotate(-35 137.8 302.5)">10</text><text x="146.8" y="302.5" font-size="2.6" fill="#999" text-anchor="middle" transform="rotate(-35 146.8 302.5)">10</text><text x="155.7" y="302.5" font-size="2.6" fill="#999" text-anchor="middle" transform="rotate(-35 155.7 302.5)">10</text><path d="M120.4 298.3v1.3M129.3 298.3v1.3M138.3 298.3v1.3M147.2 298.3v1.3M156.2 298.3v1.3" stroke="#999" stroke-width="0.4"/><text x="114.4" y="278.8" font-size="2.4" fill="#888" text-anchor="middle" transform="rotate(-90 114.4 278.8)" textLength="5" lengthAdjust="spacingAndGlyphs">Count</text><text x="139.35000000000002" y="313" font-size="6.6" font-weight="bold" fill="#000" text-anchor="middle" textLength="22.1" lengthAdjust="spacingAndGlyphs">HLA-DR</text><path d="M175.4 298.3V258.3H215.1V298.3" fill="none" stroke="#b8b8b8" stroke-width="0.8"/><path d="M175.4 258.3V298.3" fill="none" stroke="#888" stroke-width="0.75"/><g filter="url(#blur03)"><path d="M175.90,292.95 L176.22,292.24 L176.55,291.44 L176.87,290.57 L177.19,289.60 L177.51,288.55 L177.84,287.41 L178.16,286.19 L178.48,284.88 L178.80,283.49 L179.12,282.02 L179.45,280.49 L179.77,278.91 L180.09,277.28 L180.41,275.63 L180.74,273.95 L181.06,272.28 L181.38,270.64 L181.71,269.02 L182.03,267.47 L182.35,266.00 L182.67,264.62 L183.00,263.36 L183.32,262.23 L183.64,261.25 L183.96,260.43 L184.28,259.79 L184.61,259.33 L184.93,259.07 L185.25,259.01 L185.57,259.67 L185.90,261.27 L186.22,263.70 L186.54,266.77 L186.87,270.28 L187.19,274.00 L187.51,277.74 L187.83,281.31 L188.16,284.58 L188.48,287.45 L188.80,289.88 L189.12,291.87 L189.44,293.45 L189.77,294.66 L190.09,295.56 L190.41,296.21 L190.74,296.66 L191.06,296.97 L191.38,297.17 L191.70,297.30 L192.03,297.39 L192.35,297.44 L192.67,297.46 L192.99,297.48 L193.31,297.49 L193.64,297.49 L193.96,297.50 L194.28,297.50 L194.60,297.50 L194.93,297.50 L195.25,297.50 L195.57,297.50 L195.90,297.50 L196.22,297.50 L196.54,297.50 L196.86,297.50 L197.19,297.50 L197.51,297.50 L197.83,297.50 L198.15,297.50 L198.47,297.50 L198.80,297.50 L199.12,297.50 L199.44,297.50 L199.76,297.50 L200.09,297.50 L200.41,297.50 L200.73,297.50 L201.06,297.50 L201.38,297.50 L201.70,297.50 L202.02,297.50 L202.34,297.50 L202.67,297.50 L202.99,297.50 L203.31,297.50 L203.63,297.50 L203.96,297.50 L204.28,297.50 L204.60,297.50 L204.93,297.50 L205.25,297.50 L205.57,297.50 L205.89,297.50 L206.22,297.50 L206.54,297.50 L206.86,297.50 L207.18,297.50 L207.50,297.50 L207.83,297.50 L208.15,297.50 L208.47,297.50 L208.79,297.50 L209.12,297.50 L209.44,297.50 L209.76,297.50 L210.08,297.50 L210.41,297.50 L210.73,297.50 L211.05,297.50 L211.38,297.50 L211.70,297.50 L212.02,297.50 L212.34,297.50 L212.66,297.50 L212.99,297.50 L213.31,297.50 L213.63,297.50 L213.95,297.50 L214.28,297.50 L214.60,297.50" fill="none" stroke="#c8c8c8" stroke-width="0.6" stroke-linejoin="round"/><path d="M175.90,297.50 L176.22,297.50 L176.55,297.50 L176.87,297.50 L177.19,297.50 L177.51,297.50 L177.84,297.50 L178.16,297.50 L178.48,297.50 L178.80,297.50 L179.12,297.49 L179.45,297.48 L179.77,297.46 L180.09,297.42 L180.41,297.36 L180.74,297.25 L181.06,297.06 L181.38,296.77 L181.71,296.32 L182.03,295.64 L182.35,294.68 L182.67,293.34 L183.00,291.57 L183.32,289.31 L183.64,286.54 L183.96,283.31 L184.28,279.70 L184.61,275.88 L184.93,272.07 L185.25,268.53 L185.57,265.54 L185.90,263.36 L186.22,262.18 L186.54,262.11 L186.87,263.17 L187.19,265.24 L187.51,268.15 L187.83,271.64 L188.16,275.43 L188.48,279.26 L188.80,282.91 L189.12,286.19 L189.44,289.01 L189.77,291.33 L190.09,293.16 L190.41,294.54 L190.74,295.55 L191.06,296.25 L191.38,296.73 L191.70,297.04 L192.03,297.23 L192.35,297.35 L192.67,297.42 L192.99,297.46 L193.31,297.48 L193.64,297.49 L193.96,297.49 L194.28,297.50 L194.60,297.50 L194.93,297.50 L195.25,297.50 L195.57,297.50 L195.90,297.50 L196.22,297.50 L196.54,297.50 L196.86,297.50 L197.19,297.50 L197.51,297.50 L197.83,297.50 L198.15,297.50 L198.47,297.50 L198.80,297.50 L199.12,297.50 L199.44,297.50 L199.76,297.50 L200.09,297.50 L200.41,297.50 L200.73,297.50 L201.06,297.50 L201.38,297.50 L201.70,297.50 L202.02,297.50 L202.34,297.50 L202.67,297.50 L202.99,297.50 L203.31,297.50 L203.63,297.50 L203.96,297.50 L204.28,297.50 L204.60,297.50 L204.93,297.50 L205.25,297.50 L205.57,297.50 L205.89,297.50 L206.22,297.50 L206.54,297.50 L206.86,297.50 L207.18,297.50 L207.50,297.50 L207.83,297.50 L208.15,297.50 L208.47,297.50 L208.79,297.50 L209.12,297.50 L209.44,297.50 L209.76,297.50 L210.08,297.50 L210.41,297.50 L210.73,297.50 L211.05,297.50 L211.38,297.50 L211.70,297.50 L212.02,297.50 L212.34,297.50 L212.66,297.50 L212.99,297.50 L213.31,297.50 L213.63,297.50 L213.95,297.50 L214.28,297.50 L214.60,297.50" fill="none" stroke="#6a6ad6" stroke-width="0.8" stroke-linejoin="round"/><path d="M175.90,297.50 L176.22,297.50 L176.55,297.50 L176.87,297.50 L177.19,297.50 L177.51,297.50 L177.84,297.50 L178.16,297.50 L178.48,297.50 L178.80,297.50 L179.12,297.49 L179.45,297.49 L179.77,297.47 L180.09,297.45 L180.41,297.41 L180.74,297.33 L181.06,297.20 L181.38,296.98 L181.71,296.65 L182.03,296.13 L182.35,295.38 L182.67,294.31 L183.00,292.86 L183.32,290.96 L183.64,288.57 L183.96,285.71 L184.28,282.41 L184.61,278.80 L184.93,275.07 L185.25,271.43 L185.57,268.16 L185.90,265.53 L186.22,263.76 L186.54,263.02 L186.87,263.37 L187.19,264.79 L187.51,267.14 L187.83,270.21 L188.16,273.74 L188.48,277.48 L188.80,281.15 L189.12,284.58 L189.44,287.61 L189.77,290.17 L190.09,292.23 L190.41,293.84 L190.74,295.03 L191.06,295.89 L191.38,296.48 L191.70,296.88 L192.03,297.13 L192.35,297.29 L192.67,297.38 L192.99,297.44 L193.31,297.47 L193.64,297.48 L193.96,297.49 L194.28,297.50 L194.60,297.50 L194.93,297.50 L195.25,297.50 L195.57,297.50 L195.90,297.50 L196.22,297.50 L196.54,297.50 L196.86,297.50 L197.19,297.50 L197.51,297.50 L197.83,297.50 L198.15,297.50 L198.47,297.50 L198.80,297.50 L199.12,297.50 L199.44,297.50 L199.76,297.50 L200.09,297.50 L200.41,297.50 L200.73,297.50 L201.06,297.50 L201.38,297.50 L201.70,297.50 L202.02,297.50 L202.34,297.50 L202.67,297.50 L202.99,297.50 L203.31,297.50 L203.63,297.50 L203.96,297.50 L204.28,297.50 L204.60,297.50 L204.93,297.50 L205.25,297.50 L205.57,297.50 L205.89,297.50 L206.22,297.50 L206.54,297.50 L206.86,297.50 L207.18,297.50 L207.50,297.50 L207.83,297.50 L208.15,297.50 L208.47,297.50 L208.79,297.50 L209.12,297.50 L209.44,297.50 L209.76,297.50 L210.08,297.50 L210.41,297.50 L210.73,297.50 L211.05,297.50 L211.38,297.50 L211.70,297.50 L212.02,297.50 L212.34,297.50 L212.66,297.50 L212.99,297.50 L213.31,297.50 L213.63,297.50 L213.95,297.50 L214.28,297.50 L214.60,297.50" fill="none" stroke="#d68c7c" stroke-width="0.8" stroke-linejoin="round"/></g><path d="M175.4 298.3H215.1" stroke="#78788a" stroke-width="0.9"/><text x="176.9" y="302.5" font-size="2.6" fill="#999" text-anchor="middle" transform="rotate(-35 176.9 302.5)">10</text><text x="185.8" y="302.5" font-size="2.6" fill="#999" text-anchor="middle" transform="rotate(-35 185.8 302.5)">10</text><text x="194.8" y="302.5" font-size="2.6" fill="#999" text-anchor="middle" transform="rotate(-35 194.8 302.5)">10</text><text x="203.7" y="302.5" font-size="2.6" fill="#999" text-anchor="middle" transform="rotate(-35 203.7 302.5)">10</text><text x="212.6" y="302.5" font-size="2.6" fill="#999" text-anchor="middle" transform="rotate(-35 212.6 302.5)">10</text><path d="M177.4 298.3v1.3M186.3 298.3v1.3M195.2 298.3v1.3M204.2 298.3v1.3M213.1 298.3v1.3" stroke="#999" stroke-width="0.4"/><text x="171.4" y="278.8" font-size="2.4" fill="#888" text-anchor="middle" transform="rotate(-90 171.4 278.8)" textLength="5" lengthAdjust="spacingAndGlyphs">Count</text><text x="194.5" y="312.8" font-size="6.6" font-weight="bold" fill="#000" text-anchor="middle" textLength="15.6" lengthAdjust="spacingAndGlyphs">CD40</text><path d="M229.6 298.3V258.3H269.7V298.3" fill="none" stroke="#b8b8b8" stroke-width="0.8"/><path d="M229.6 258.3V298.3" fill="none" stroke="#888" stroke-width="0.75"/><g filter="url(#blur03)"><path d="M230.10,297.50 L230.43,297.50 L230.75,297.50 L231.08,297.50 L231.40,297.50 L231.73,297.50 L232.06,297.50 L232.38,297.50 L232.71,297.50 L233.03,297.49 L233.36,297.49 L233.68,297.48 L234.01,297.46 L234.34,297.41 L234.66,297.34 L234.99,297.22 L235.31,297.01 L235.64,296.69 L235.97,296.18 L236.29,295.43 L236.62,294.36 L236.94,292.89 L237.27,290.95 L237.59,288.50 L237.92,285.52 L238.25,282.07 L238.57,278.26 L238.90,274.29 L239.22,270.41 L239.55,266.89 L239.88,264.03 L240.20,262.08 L240.53,261.23 L240.85,261.56 L241.18,263.03 L241.50,265.50 L241.83,268.76 L242.16,272.52 L242.48,276.48 L242.81,280.39 L243.13,284.02 L243.46,287.22 L243.78,289.91 L244.11,292.08 L244.44,293.76 L244.76,295.00 L245.09,295.88 L245.41,296.48 L245.74,296.88 L246.07,297.14 L246.39,297.29 L246.72,297.39 L247.04,297.44 L247.37,297.47 L247.69,297.48 L248.02,297.49 L248.35,297.50 L248.67,297.50 L249.00,297.50 L249.32,297.50 L249.65,297.50 L249.98,297.50 L250.30,297.50 L250.63,297.50 L250.95,297.50 L251.28,297.50 L251.60,297.50 L251.93,297.50 L252.26,297.50 L252.58,297.50 L252.91,297.50 L253.23,297.50 L253.56,297.50 L253.89,297.50 L254.21,297.50 L254.54,297.50 L254.86,297.50 L255.19,297.50 L255.51,297.50 L255.84,297.50 L256.17,297.50 L256.49,297.50 L256.82,297.50 L257.14,297.50 L257.47,297.50 L257.80,297.50 L258.12,297.50 L258.45,297.50 L258.77,297.50 L259.10,297.50 L259.43,297.50 L259.75,297.50 L260.08,297.50 L260.40,297.50 L260.73,297.50 L261.05,297.50 L261.38,297.50 L261.71,297.50 L262.03,297.50 L262.36,297.50 L262.68,297.50 L263.01,297.50 L263.33,297.50 L263.66,297.50 L263.99,297.50 L264.31,297.50 L264.64,297.50 L264.96,297.50 L265.29,297.50 L265.62,297.50 L265.94,297.50 L266.27,297.50 L266.59,297.50 L266.92,297.50 L267.25,297.50 L267.57,297.50 L267.90,297.50 L268.22,297.50 L268.55,297.50 L268.87,297.50 L269.20,297.50" fill="none" stroke="#c8c8c8" stroke-width="0.6" stroke-linejoin="round"/><path d="M230.10,297.50 L230.43,297.50 L230.75,297.50 L231.08,297.50 L231.40,297.50 L231.73,297.50 L232.06,297.50 L232.38,297.50 L232.71,297.50 L233.03,297.50 L233.36,297.50 L233.68,297.50 L234.01,297.50 L234.34,297.50 L234.66,297.50 L234.99,297.50 L235.31,297.50 L235.64,297.50 L235.97,297.50 L236.29,297.50 L236.62,297.50 L236.94,297.50 L237.27,297.50 L237.59,297.50 L237.92,297.50 L238.25,297.49 L238.57,297.48 L238.90,297.47 L239.22,297.45 L239.55,297.42 L239.88,297.36 L240.20,297.27 L240.53,297.14 L240.85,296.94 L241.18,296.65 L241.50,296.25 L241.83,295.68 L242.16,294.92 L242.48,293.91 L242.81,292.62 L243.13,291.01 L243.46,289.07 L243.78,286.77 L244.11,284.14 L244.44,281.23 L244.76,278.12 L245.09,274.91 L245.41,271.75 L245.74,268.78 L246.07,266.15 L246.39,264.04 L246.72,262.55 L247.04,261.79 L247.37,261.81 L247.69,262.59 L248.02,264.11 L248.35,266.25 L248.67,268.88 L249.00,271.87 L249.32,275.04 L249.65,278.24 L249.98,281.35 L250.30,284.25 L250.63,286.86 L250.95,289.15 L251.28,291.08 L251.60,292.68 L251.93,293.95 L252.26,294.95 L252.58,295.70 L252.91,296.26 L253.23,296.67 L253.56,296.95 L253.89,297.15 L254.21,297.28 L254.54,297.36 L254.86,297.42 L255.19,297.45 L255.51,297.47 L255.84,297.48 L256.17,297.49 L256.49,297.50 L256.82,297.50 L257.14,297.50 L257.47,297.50 L257.80,297.50 L258.12,297.50 L258.45,297.50 L258.77,297.50 L259.10,297.50 L259.43,297.50 L259.75,297.50 L260.08,297.50 L260.40,297.50 L260.73,297.50 L261.05,297.50 L261.38,297.50 L261.71,297.50 L262.03,297.50 L262.36,297.50 L262.68,297.50 L263.01,297.50 L263.33,297.50 L263.66,297.50 L263.99,297.50 L264.31,297.50 L264.64,297.50 L264.96,297.50 L265.29,297.50 L265.62,297.50 L265.94,297.50 L266.27,297.50 L266.59,297.50 L266.92,297.50 L267.25,297.50 L267.57,297.50 L267.90,297.50 L268.22,297.50 L268.55,297.50 L268.87,297.50 L269.20,297.50" fill="none" stroke="#6a6ad6" stroke-width="0.8" stroke-linejoin="round"/><path d="M230.10,297.50 L230.43,297.50 L230.75,297.50 L231.08,297.50 L231.40,297.50 L231.73,297.50 L232.06,297.50 L232.38,297.50 L232.71,297.50 L233.03,297.50 L233.36,297.50 L233.68,297.50 L234.01,297.50 L234.34,297.50 L234.66,297.50 L234.99,297.50 L235.31,297.50 L235.64,297.50 L235.97,297.50 L236.29,297.50 L236.62,297.50 L236.94,297.50 L237.27,297.50 L237.59,297.50 L237.92,297.50 L238.25,297.49 L238.57,297.49 L238.90,297.48 L239.22,297.46 L239.55,297.44 L239.88,297.40 L240.20,297.33 L240.53,297.23 L240.85,297.08 L241.18,296.85 L241.50,296.53 L241.83,296.07 L242.16,295.45 L242.48,294.61 L242.81,293.52 L243.13,292.13 L243.46,290.42 L243.78,288.37 L244.11,285.99 L244.44,283.29 L244.76,280.34 L245.09,277.23 L245.41,274.08 L245.74,271.02 L246.07,268.21 L246.39,265.81 L246.72,263.95 L247.04,262.76 L247.37,262.30 L247.69,262.62 L248.02,263.67 L248.35,265.41 L248.67,267.72 L249.00,270.46 L249.32,273.49 L249.65,276.64 L249.98,279.76 L250.30,282.75 L250.63,285.50 L250.95,287.95 L251.28,290.06 L251.60,291.83 L251.93,293.28 L252.26,294.42 L252.58,295.30 L252.91,295.97 L253.23,296.45 L253.56,296.80 L253.89,297.04 L254.21,297.21 L254.54,297.32 L254.86,297.39 L255.19,297.43 L255.51,297.46 L255.84,297.48 L256.17,297.49 L256.49,297.49 L256.82,297.50 L257.14,297.50 L257.47,297.50 L257.80,297.50 L258.12,297.50 L258.45,297.50 L258.77,297.50 L259.10,297.50 L259.43,297.50 L259.75,297.50 L260.08,297.50 L260.40,297.50 L260.73,297.50 L261.05,297.50 L261.38,297.50 L261.71,297.50 L262.03,297.50 L262.36,297.50 L262.68,297.50 L263.01,297.50 L263.33,297.50 L263.66,297.50 L263.99,297.50 L264.31,297.50 L264.64,297.50 L264.96,297.50 L265.29,297.50 L265.62,297.50 L265.94,297.50 L266.27,297.50 L266.59,297.50 L266.92,297.50 L267.25,297.50 L267.57,297.50 L267.90,297.50 L268.22,297.50 L268.55,297.50 L268.87,297.50 L269.20,297.50" fill="none" stroke="#d68c7c" stroke-width="0.8" stroke-linejoin="round"/></g><path d="M229.6 298.3H269.7" stroke="#78788a" stroke-width="0.9"/><text x="231.1" y="302.5" font-size="2.6" fill="#999" text-anchor="middle" transform="rotate(-35 231.1 302.5)">10</text><text x="240.1" y="302.5" font-size="2.6" fill="#999" text-anchor="middle" transform="rotate(-35 240.1 302.5)">10</text><text x="249.1" y="302.5" font-size="2.6" fill="#999" text-anchor="middle" transform="rotate(-35 249.1 302.5)">10</text><text x="258.2" y="302.5" font-size="2.6" fill="#999" text-anchor="middle" transform="rotate(-35 258.2 302.5)">10</text><text x="267.2" y="302.5" font-size="2.6" fill="#999" text-anchor="middle" transform="rotate(-35 267.2 302.5)">10</text><path d="M231.6 298.3v1.3M240.6 298.3v1.3M249.6 298.3v1.3M258.7 298.3v1.3M267.7 298.3v1.3" stroke="#999" stroke-width="0.4"/><text x="225.6" y="278.8" font-size="2.4" fill="#888" text-anchor="middle" transform="rotate(-90 225.6 278.8)" textLength="5" lengthAdjust="spacingAndGlyphs">Count</text><text x="248.35" y="312.8" font-size="6.6" font-weight="bold" fill="#000" text-anchor="middle" textLength="15.3" lengthAdjust="spacingAndGlyphs">CD69</text><path d="M285.1 298.3V258.3H324.6V298.3" fill="none" stroke="#b8b8b8" stroke-width="0.8"/><path d="M285.1 258.3V298.3" fill="none" stroke="#888" stroke-width="0.75"/><g filter="url(#blur03)"><path d="M285.60,296.24 L285.92,295.90 L286.24,295.48 L286.56,294.97 L286.88,294.37 L287.20,293.67 L287.53,292.86 L287.85,291.94 L288.17,290.89 L288.49,289.73 L288.81,288.45 L289.13,287.07 L289.45,285.60 L289.77,284.06 L290.09,282.47 L290.41,280.86 L290.73,279.26 L291.05,277.71 L291.38,276.24 L291.70,274.89 L292.02,273.70 L292.34,272.69 L292.66,271.90 L292.98,271.35 L293.30,271.05 L293.62,271.02 L293.94,271.29 L294.26,271.84 L294.58,272.67 L294.90,273.75 L295.23,275.04 L295.55,276.50 L295.87,278.09 L296.19,279.76 L296.51,281.47 L296.83,283.18 L297.15,284.86 L297.47,286.46 L297.79,287.98 L298.11,289.37 L298.43,290.64 L298.75,291.78 L299.08,292.79 L299.40,293.66 L299.72,294.40 L300.04,295.03 L300.36,295.56 L300.68,295.99 L301.00,296.34 L301.32,296.61 L301.64,296.83 L301.96,297.00 L302.28,297.14 L302.60,297.23 L302.93,297.31 L303.25,297.36 L303.57,297.40 L303.89,297.43 L304.21,297.45 L304.53,297.47 L304.85,297.48 L305.17,297.49 L305.49,297.49 L305.81,297.49 L306.13,297.50 L306.45,297.50 L306.78,297.50 L307.10,297.50 L307.42,297.50 L307.74,297.50 L308.06,297.50 L308.38,297.50 L308.70,297.50 L309.02,297.50 L309.34,297.50 L309.66,297.50 L309.98,297.50 L310.30,297.50 L310.62,297.50 L310.95,297.50 L311.27,297.50 L311.59,297.50 L311.91,297.50 L312.23,297.50 L312.55,297.50 L312.87,297.50 L313.19,297.50 L313.51,297.50 L313.83,297.50 L314.15,297.50 L314.48,297.50 L314.80,297.50 L315.12,297.50 L315.44,297.50 L315.76,297.50 L316.08,297.50 L316.40,297.50 L316.72,297.50 L317.04,297.50 L317.36,297.50 L317.68,297.50 L318.00,297.50 L318.33,297.50 L318.65,297.50 L318.97,297.50 L319.29,297.50 L319.61,297.50 L319.93,297.50 L320.25,297.50 L320.57,297.50 L320.89,297.50 L321.21,297.50 L321.53,297.50 L321.85,297.50 L322.18,297.50 L322.50,297.50 L322.82,297.50 L323.14,297.50 L323.46,297.50 L323.78,297.50 L324.10,297.50" fill="none" stroke="#c8c8c8" stroke-width="0.6" stroke-linejoin="round"/><path d="M285.60,297.15 L285.92,297.04 L286.24,296.89 L286.56,296.70 L286.88,296.46 L287.20,296.16 L287.53,295.79 L287.85,295.34 L288.17,294.80 L288.49,294.16 L288.81,293.40 L289.13,292.51 L289.45,291.49 L289.77,290.34 L290.09,289.03 L290.41,287.59 L290.73,286.01 L291.05,284.30 L291.38,282.48 L291.70,280.56 L292.02,278.59 L292.34,276.58 L292.66,274.58 L292.98,272.62 L293.30,270.75 L293.62,269.01 L293.94,267.44 L294.26,266.09 L294.58,264.98 L294.90,264.15 L295.23,263.62 L295.55,263.40 L295.87,263.44 L296.19,263.59 L296.51,263.86 L296.83,264.24 L297.15,264.73 L297.47,265.32 L297.79,266.00 L298.11,266.78 L298.43,267.64 L298.75,268.57 L299.08,269.57 L299.40,270.63 L299.72,271.73 L300.04,272.87 L300.36,274.05 L300.68,275.24 L301.00,276.44 L301.32,277.65 L301.64,278.85 L301.96,280.04 L302.28,281.20 L302.60,282.34 L302.93,283.45 L303.25,284.52 L303.57,285.56 L303.89,286.54 L304.21,287.48 L304.53,288.37 L304.85,289.21 L305.17,290.00 L305.49,290.73 L305.81,291.42 L306.13,292.05 L306.45,292.64 L306.78,293.17 L307.10,293.66 L307.42,294.11 L307.74,294.51 L308.06,294.88 L308.38,295.21 L308.70,295.50 L309.02,295.76 L309.34,296.00 L309.66,296.20 L309.98,296.38 L310.30,296.54 L310.62,296.68 L310.95,296.80 L311.27,296.91 L311.59,297.00 L311.91,297.08 L312.23,297.15 L312.55,297.20 L312.87,297.25 L313.19,297.30 L313.51,297.33 L313.83,297.36 L314.15,297.38 L314.48,297.41 L314.80,297.42 L315.12,297.44 L315.44,297.45 L315.76,297.46 L316.08,297.47 L316.40,297.47 L316.72,297.48 L317.04,297.48 L317.36,297.49 L317.68,297.49 L318.00,297.49 L318.33,297.49 L318.65,297.49 L318.97,297.50 L319.29,297.50 L319.61,297.50 L319.93,297.50 L320.25,297.50 L320.57,297.50 L320.89,297.50 L321.21,297.50 L321.53,297.50 L321.85,297.50 L322.18,297.50 L322.50,297.50 L322.82,297.50 L323.14,297.50 L323.46,297.50 L323.78,297.50 L324.10,297.50" fill="none" stroke="#6a6ad6" stroke-width="0.8" stroke-linejoin="round"/><path d="M285.60,297.04 L285.92,296.90 L286.24,296.72 L286.56,296.49 L286.88,296.21 L287.20,295.87 L287.53,295.46 L287.85,294.97 L288.17,294.39 L288.49,293.72 L288.81,292.94 L289.13,292.06 L289.45,291.06 L289.77,289.95 L290.09,288.73 L290.41,287.42 L290.73,286.01 L291.05,284.53 L291.38,283.00 L291.70,281.45 L292.02,279.89 L292.34,278.36 L292.66,276.90 L292.98,275.53 L293.30,274.29 L293.62,273.22 L293.94,272.33 L294.26,271.65 L294.58,271.21 L294.90,271.01 L295.23,271.05 L295.55,271.27 L295.87,271.68 L296.19,272.26 L296.51,273.01 L296.83,273.90 L297.15,274.92 L297.47,276.05 L297.79,277.27 L298.11,278.55 L298.43,279.88 L298.75,281.23 L299.08,282.59 L299.40,283.93 L299.72,285.23 L300.04,286.49 L300.36,287.69 L300.68,288.83 L301.00,289.88 L301.32,290.86 L301.64,291.75 L301.96,292.55 L302.28,293.28 L302.60,293.92 L302.93,294.49 L303.25,294.98 L303.57,295.41 L303.89,295.78 L304.21,296.09 L304.53,296.36 L304.85,296.58 L305.17,296.76 L305.49,296.91 L305.81,297.04 L306.13,297.14 L306.45,297.22 L306.78,297.28 L307.10,297.33 L307.42,297.37 L307.74,297.40 L308.06,297.43 L308.38,297.45 L308.70,297.46 L309.02,297.47 L309.34,297.48 L309.66,297.48 L309.98,297.49 L310.30,297.49 L310.62,297.49 L310.95,297.50 L311.27,297.50 L311.59,297.50 L311.91,297.50 L312.23,297.50 L312.55,297.50 L312.87,297.50 L313.19,297.50 L313.51,297.50 L313.83,297.50 L314.15,297.50 L314.48,297.50 L314.80,297.50 L315.12,297.50 L315.44,297.50 L315.76,297.50 L316.08,297.50 L316.40,297.50 L316.72,297.50 L317.04,297.50 L317.36,297.50 L317.68,297.50 L318.00,297.50 L318.33,297.50 L318.65,297.50 L318.97,297.50 L319.29,297.50 L319.61,297.50 L319.93,297.50 L320.25,297.50 L320.57,297.50 L320.89,297.50 L321.21,297.50 L321.53,297.50 L321.85,297.50 L322.18,297.50 L322.50,297.50 L322.82,297.50 L323.14,297.50 L323.46,297.50 L323.78,297.50 L324.10,297.50" fill="none" stroke="#d68c7c" stroke-width="0.8" stroke-linejoin="round"/></g><path d="M285.1 298.3H324.6" stroke="#78788a" stroke-width="0.9"/><text x="286.6" y="302.5" font-size="2.6" fill="#999" text-anchor="middle" transform="rotate(-35 286.6 302.5)">10</text><text x="295.5" y="302.5" font-size="2.6" fill="#999" text-anchor="middle" transform="rotate(-35 295.5 302.5)">10</text><text x="304.4" y="302.5" font-size="2.6" fill="#999" text-anchor="middle" transform="rotate(-35 304.4 302.5)">10</text><text x="313.2" y="302.5" font-size="2.6" fill="#999" text-anchor="middle" transform="rotate(-35 313.2 302.5)">10</text><text x="322.1" y="302.5" font-size="2.6" fill="#999" text-anchor="middle" transform="rotate(-35 322.1 302.5)">10</text><path d="M287.1 298.3v1.3M296.0 298.3v1.3M304.9 298.3v1.3M313.7 298.3v1.3M322.6 298.3v1.3" stroke="#999" stroke-width="0.4"/><text x="281.1" y="278.8" font-size="2.4" fill="#888" text-anchor="middle" transform="rotate(-90 281.1 278.8)" textLength="5" lengthAdjust="spacingAndGlyphs">Count</text><text x="303.95" y="312.8" font-size="6.6" font-weight="bold" fill="#000" text-anchor="middle" textLength="15.9" lengthAdjust="spacingAndGlyphs">CD23</text><path d="M354.2 143.6V209.3H454.4" fill="none" stroke="#111" stroke-width="1.1"/><path d="M354.2 209.3h-1.8" stroke="#111" stroke-width="0.8"/><text x="351.2" y="210.7" font-size="4" font-weight="bold" fill="#222" text-anchor="end" textLength="2.4" lengthAdjust="spacingAndGlyphs">0</text><path d="M354.2 196.2h-1.8" stroke="#111" stroke-width="0.8"/><text x="351.2" y="197.6" font-size="4" font-weight="bold" fill="#222" text-anchor="end" textLength="7.199999999999999" lengthAdjust="spacingAndGlyphs">100</text><path d="M354.2 183.0h-1.8" stroke="#111" stroke-width="0.8"/><text x="351.2" y="184.4" font-size="4" font-weight="bold" fill="#222" text-anchor="end" textLength="7.199999999999999" lengthAdjust="spacingAndGlyphs">200</text><path d="M354.2 169.9h-1.8" stroke="#111" stroke-width="0.8"/><text x="351.2" y="171.3" font-size="4" font-weight="bold" fill="#222" text-anchor="end" textLength="7.199999999999999" lengthAdjust="spacingAndGlyphs">300</text><path d="M354.2 156.7h-1.8" stroke="#111" stroke-width="0.8"/><text x="351.2" y="158.1" font-size="4" font-weight="bold" fill="#222" text-anchor="end" textLength="7.199999999999999" lengthAdjust="spacingAndGlyphs">400</text><path d="M354.2 143.6h-1.8" stroke="#111" stroke-width="0.8"/><text x="351.2" y="145.0" font-size="4" font-weight="bold" fill="#222" text-anchor="end" textLength="7.199999999999999" lengthAdjust="spacingAndGlyphs">500</text><path d="M366.9 175.0V164.0M362.8 164.0h8.4" stroke="#111" stroke-width="1.1"/><rect x="359.2" y="175.0" width="15.5" height="34.3" fill="#000" stroke="#111" stroke-width="1.1"/><path d="M366.9 209.3v2" stroke="#111" stroke-width="0.8"/><path d="M392.0 168.2V157.2M387.8 157.2h8.4" stroke="#111" stroke-width="1.1"/><rect x="383.9" y="168.2" width="16.2" height="41.1" fill="#8f8f8f" stroke="#111" stroke-width="1.1"/><path d="M392.0 209.3v2" stroke="#111" stroke-width="0.8"/><path d="M416.8 200.2V198.2M412.6 198.2h8.4" stroke="#111" stroke-width="1.1"/><rect x="408.8" y="200.2" width="15.9" height="9.1" fill="#e4e4e4" stroke="#111" stroke-width="1.1"/><path d="M416.8 209.3v2" stroke="#111" stroke-width="0.8"/><path d="M441.5 206.2V203.6M437.3 203.6h8.4" stroke="#111" stroke-width="1.1"/><rect x="433.7" y="206.2" width="15.6" height="3.1" fill="#fff" stroke="#111" stroke-width="1.1"/><path d="M441.5 209.3v2" stroke="#111" stroke-width="0.8"/><path d="M365.3 143.1H442.8" stroke="#111" stroke-width="1.2"/><circle cx="406" cy="139.6" r="1.15" fill="#111"/><path d="M406 137.9v3.4M404.5 138.75l3 1.7M404.5 140.45l3 -1.7" stroke="#333" stroke-width="0.5"/><path d="M365.3 153.1H417.7" stroke="#111" stroke-width="1.2"/><circle cx="389" cy="150.6" r="1.15" fill="#111"/><path d="M389 148.9v3.4M387.5 149.75l3 1.7M387.5 151.45l3 -1.7" stroke="#333" stroke-width="0.5"/><rect x="454.2" y="146.20000000000002" width="7.800000000000011" height="3.4" fill="#000" stroke="#111" stroke-width="1.1"/><text x="468.9" y="150.6" font-size="5.7" fill="#111" font-weight="bold" textLength="31" lengthAdjust="spacingAndGlyphs">IgM memory</text><rect x="454.2" y="153.70000000000002" width="7.800000000000011" height="3.4" fill="#8f8f8f" stroke="#111" stroke-width="1.1"/><text x="468.9" y="157.3" font-size="5.7" fill="#111" font-weight="bold" textLength="29" lengthAdjust="spacingAndGlyphs">Transitional</text><rect x="454.2" y="160.9" width="7.800000000000011" height="3.4" fill="#e4e4e4" stroke="#111" stroke-width="1.1"/><text x="468.9" y="164.5" font-size="5.7" fill="#111" font-weight="bold" textLength="13.5" lengthAdjust="spacingAndGlyphs">Naive</text><rect x="454.2" y="168.4" width="7.800000000000011" height="3.4" fill="#fff" stroke="#111" stroke-width="1.1"/><text x="468.9" y="171.3" font-size="5.7" fill="#111" font-weight="bold" textLength="43.8" lengthAdjust="spacingAndGlyphs">Switched memory</text><text x="339.6" y="177.2" font-size="5.2" font-weight="bold" fill="#1a1a1a" text-anchor="middle" transform="rotate(-90 339.6 177.2)" textLength="34.5" lengthAdjust="spacing">IL-10 pg/ml</text><path d="M351.3 260.1V332.2H460.6" fill="none" stroke="#111" stroke-width="1.1"/><path d="M351.3 332.2h-1.8" stroke="#111" stroke-width="0.8"/><text x="348.3" y="333.6" font-size="4" font-weight="bold" fill="#222" text-anchor="end" textLength="2.4" lengthAdjust="spacingAndGlyphs">0</text><path d="M351.3 314.2h-1.8" stroke="#111" stroke-width="0.8"/><text x="348.3" y="315.6" font-size="4" font-weight="bold" fill="#222" text-anchor="end" textLength="2.4" lengthAdjust="spacingAndGlyphs">2</text><path d="M351.3 296.2h-1.8" stroke="#111" stroke-width="0.8"/><text x="348.3" y="297.6" font-size="4" font-weight="bold" fill="#222" text-anchor="end" textLength="2.4" lengthAdjust="spacingAndGlyphs">4</text><path d="M351.3 278.1h-1.8" stroke="#111" stroke-width="0.8"/><text x="348.3" y="279.5" font-size="4" font-weight="bold" fill="#222" text-anchor="end" textLength="2.4" lengthAdjust="spacingAndGlyphs">6</text><path d="M351.3 260.1h-1.8" stroke="#111" stroke-width="0.8"/><text x="348.3" y="261.5" font-size="4" font-weight="bold" fill="#222" text-anchor="end" textLength="2.4" lengthAdjust="spacingAndGlyphs">8</text><path d="M365.1 299.6V294.5M360.9 294.5h8.4" stroke="#111" stroke-width="1.1"/><rect x="356.1" y="299.6" width="18.1" height="32.6" fill="#000" stroke="#111" stroke-width="1.1"/><path d="M365.1 332.2v2" stroke="#111" stroke-width="0.8"/><path d="M391.9 286.4V272.4M387.7 272.4h8.4" stroke="#111" stroke-width="1.1"/><rect x="383.3" y="286.4" width="17.1" height="45.8" fill="#8f8f8f" stroke="#111" stroke-width="1.1"/><path d="M391.9 332.2v2" stroke="#111" stroke-width="0.8"/><path d="M419.4 327.4V324.7M415.2 324.7h8.4" stroke="#111" stroke-width="1.1"/><rect x="410.5" y="327.4" width="17.8" height="4.8" fill="#f2f2f2" stroke="#111" stroke-width="1.1"/><path d="M419.4 332.2v2" stroke="#111" stroke-width="0.8"/><path d="M446.6 326.0V325.2M442.4 325.2h8.4" stroke="#111" stroke-width="1.1"/><rect x="438.0" y="326.0" width="17.1" height="6.2" fill="#fff" stroke="#111" stroke-width="1.1"/><path d="M446.6 332.2v2" stroke="#111" stroke-width="0.8"/><path d="M361.2 258.5H446" stroke="#111" stroke-width="1.2"/><circle cx="406" cy="254.6" r="1.15" fill="#111"/><path d="M406 252.9v3.4M404.5 253.75l3 1.7M404.5 255.45l3 -1.7" stroke="#333" stroke-width="0.5"/><path d="M361.2 266.6H420.6" stroke="#111" stroke-width="1.2"/><circle cx="388.3" cy="264.4" r="1.15" fill="#111"/><path d="M388.3 262.7v3.4M386.8 263.54999999999995l3 1.7M386.8 265.25l3 -1.7" stroke="#333" stroke-width="0.5"/><rect x="462" y="263.2" width="8.300000000000011" height="3.4" fill="#000" stroke="#111" stroke-width="1.1"/><text x="475.6" y="270" font-size="5.7" fill="#111" font-weight="bold" textLength="30.7" lengthAdjust="spacingAndGlyphs">IgM memory</text><rect x="462" y="271.90000000000003" width="8.300000000000011" height="3.4" fill="#8f8f8f" stroke="#111" stroke-width="1.1"/><text x="475.6" y="276.4" font-size="5.7" fill="#111" font-weight="bold" textLength="29.5" lengthAdjust="spacingAndGlyphs">Transitional</text><rect x="462" y="280.1" width="8.300000000000011" height="3.4" fill="#f2f2f2" stroke="#111" stroke-width="1.1"/><text x="475.6" y="283.5" font-size="5.7" fill="#111" font-weight="bold" textLength="13.7" lengthAdjust="spacingAndGlyphs">Naive</text><rect x="462" y="287.7" width="8.300000000000011" height="3.4" fill="#fff" stroke="#111" stroke-width="1.1"/><text x="475.6" y="290.4" font-size="5.7" fill="#111" font-weight="bold" textLength="43.2" lengthAdjust="spacingAndGlyphs">Switched memory</text><text x="335.4" y="295.6" font-size="4.9" font-weight="bold" fill="#1a1a1a" text-anchor="middle" transform="rotate(-90 335.4 295.6)" textLength="61" lengthAdjust="spacing">Frequency of IL10<tspan font-size="3" dy="-1.6">+</tspan><tspan dy="1.6"> B</tspan></text><text x="341.2" y="295.5" font-size="4.9" font-weight="bold" fill="#1a1a1a" text-anchor="middle" transform="rotate(-90 341.2 295.5)" textLength="35.5" lengthAdjust="spacing">cell/total B cell</text>
</svg></body></html>
